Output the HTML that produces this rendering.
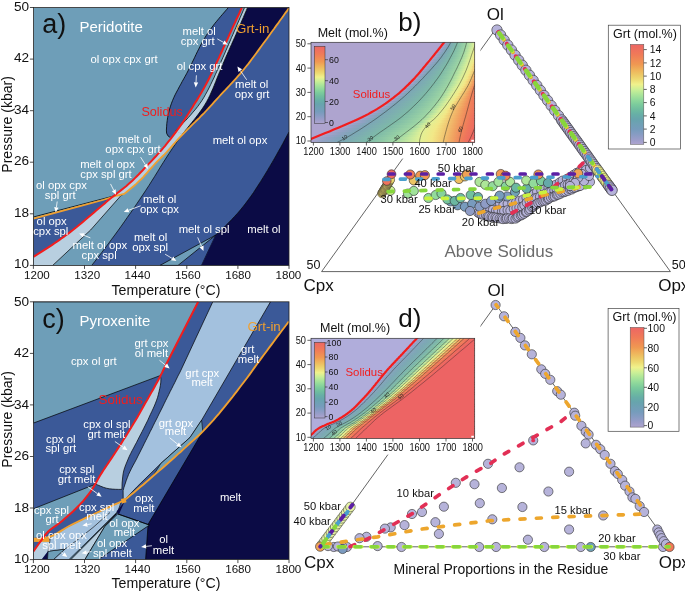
<!DOCTYPE html>
<html><head><meta charset="utf-8"><title>Figure</title>
<style>
html,body{margin:0;padding:0;background:#fff;}
body{width:685px;height:592px;overflow:hidden;}
svg{display:block;font-family:"Liberation Sans",sans-serif;}
</style></head><body>
<svg width="685" height="592" viewBox="0 0 685 592">
<rect width="685" height="592" fill="#fff"/>
<g>
<clipPath id="ca"><rect x="33.4" y="7.5" width="255.6" height="257.9"/></clipPath>
<g clip-path="url(#ca)">
<rect x="33.4" y="7.5" width="255.6" height="257.9" fill="#6e9eb8"/>
<path d="M33.4 218.6 L80.0 206.1 L102.8 200.0 L117.2 195.5 L117.7 192.8 L115.5 194.6 L113.3 196.3 L111.1 198.0 L108.9 199.8 L106.8 201.6 L104.7 203.4 L102.5 205.2 L100.4 207.0 L98.3 208.8 L96.2 210.6 L94.0 212.4 L91.9 214.2 L89.8 216.0 L87.7 217.8 L85.6 219.6 L83.4 221.4 L81.3 223.2 L79.1 225.0 L77.0 226.8 L74.8 228.5 L72.6 230.2 L70.4 231.9 L68.2 233.6 L65.9 235.3 L63.7 236.9 L61.4 238.5 L59.1 240.1 L56.9 241.7 L54.5 243.3 L52.2 244.9 L49.9 246.4 L47.6 247.9 L45.2 249.4 L42.9 250.9 L40.5 252.4 L38.1 253.9 L35.8 255.3 L33.4 256.8Z" fill="#3b5998" stroke="none" stroke-width="0.7" />
<path d="M170.3 137.6 L167.9 135.8 L166.6 133.2 L166.4 130.1 L166.6 126.8 L166.8 123.6 L167.2 120.7 L167.6 117.7 L168.2 114.9 L168.8 111.9 L169.6 109.0 L170.5 106.1 L171.5 103.2 L172.6 100.4 L173.8 97.6 L175.1 94.8 L176.5 92.1 L177.9 89.5 L179.3 86.8 L180.8 84.2 L182.2 81.5 L183.7 78.9 L185.2 76.2 L186.6 73.6 L188.0 70.9 L189.4 68.2 L190.8 65.5 L192.1 62.7 L193.4 60.0 L194.7 57.3 L196.0 54.5 L197.3 51.8 L198.7 49.1 L200.0 46.4 L201.4 43.7 L202.9 41.1 L204.4 38.5 L206.0 35.9 L207.6 33.4 L209.3 30.9 L211.1 28.4 L212.9 26.0 L214.7 23.6 L216.6 21.3 L218.6 18.9 L220.5 16.6 L222.5 14.3 L224.5 12.0 L226.5 9.7 L228.5 7.4 L242.0 7.4 L240.8 9.9 L239.7 12.5 L238.5 15.0 L237.3 17.5 L236.1 20.0 L235.0 22.6 L233.8 25.1 L232.6 27.6 L231.5 30.2 L230.3 32.7 L229.2 35.2 L228.0 37.8 L226.9 40.3 L225.7 42.9 L224.6 45.4 L223.4 47.9 L222.3 50.5 L221.1 53.0 L219.9 55.6 L218.8 58.1 L217.6 60.6 L216.4 63.1 L215.3 65.7 L214.1 68.2 L212.9 70.7 L211.7 73.2 L210.4 75.7 L209.2 78.2 L207.9 80.7 L206.6 83.2 L205.3 85.6 L204.0 88.1 L202.6 90.5 L201.2 92.9 L199.8 95.3 L198.3 97.7 L196.9 100.1 L195.4 102.4 L193.9 104.8 L192.5 107.2 L191.0 109.5 L189.5 111.9 L188.0 114.3 L186.5 116.6 L185.0 119.0 L183.5 121.3 L181.9 123.6 L180.3 125.9 L178.7 128.1 L177.0 130.4 L175.4 132.6 L173.7 134.9 L172.0 137.1Z" fill="#3b5998" stroke="none" stroke-width="0.7" />
<path d="M91.7 265.4 L95.1 261.1 L98.4 256.8 L101.7 252.5 L105.0 248.1 L108.3 243.8 L111.5 239.4 L114.8 235.0 L118.0 230.6 L121.2 226.2 L124.3 221.8 L127.4 217.3 L130.6 212.8 L133.7 208.4 L136.7 203.9 L139.8 199.3 L142.8 194.8 L145.8 190.3 L148.8 185.7 L151.7 181.1 L154.6 176.5 L157.5 171.8 L160.3 167.2 L163.2 162.6 L166.1 158.0 L169.1 153.4 L172.1 148.9 L175.2 144.4 L178.3 139.9 L181.5 135.5 L183.7 133.3 L185.9 131.1 L188.1 128.8 L190.4 126.6 L192.6 124.4 L194.9 122.2 L197.1 120.0 L199.4 117.8 L201.6 115.5 L203.8 113.3 L206.0 111.0 L208.2 108.7 L210.3 106.4 L212.4 104.1 L214.5 101.7 L216.6 99.4 L218.8 97.0 L220.9 94.7 L223.0 92.4 L225.2 90.1 L227.3 87.8 L229.5 85.5 L231.7 83.2 L233.8 80.9 L235.9 78.6 L238.0 76.2 L240.1 73.8 L242.1 71.4 L244.1 69.0 L246.1 66.5 L248.1 64.1 L250.0 61.6 L251.9 59.0 L253.8 56.5 L255.7 54.0 L257.6 51.4 L259.4 48.9 L261.3 46.3 L263.1 43.8 L265.0 41.2 L266.9 38.7 L268.7 36.2 L270.6 33.6 L272.4 31.0 L274.3 28.5 L276.1 25.9 L278.0 23.4 L279.8 20.8 L281.7 18.3 L283.5 15.7 L285.3 13.1 L287.2 10.6 L289.0 8.0 L289.0 7.5 L289.0 132.0 L286.9 135.9 L284.8 139.7 L282.8 143.6 L280.7 147.4 L278.5 151.2 L276.4 155.1 L274.2 158.9 L272.0 162.7 L269.8 166.4 L267.6 170.2 L265.3 174.0 L263.0 177.7 L260.7 181.4 L258.3 185.1 L255.9 188.8 L253.5 192.5 L251.0 196.1 L248.4 199.6 L245.8 203.1 L243.1 206.6 L240.3 210.0 L237.5 213.3 L234.5 216.5 L231.5 219.7 L228.5 222.8 L225.3 225.9 L222.2 229.0 L219.0 232.0 L215.8 235.0 L201.5 265.4Z" fill="#3b5998" stroke="none" stroke-width="0.7" />
<path d="M215.8 235.0 L160.0 265.4 L178.0 265.4Z" fill="#6e9eb8" stroke="#000" stroke-width="0.7" />
<path d="M215.8 235.0 L201.5 265.4" fill="none" stroke="#000" stroke-width="0.7" />
<path d="M289.0 132.0 L286.9 135.9 L284.8 139.7 L282.8 143.6 L280.7 147.4 L278.5 151.2 L276.4 155.1 L274.2 158.9 L272.0 162.7 L269.8 166.4 L267.6 170.2 L265.3 174.0 L263.0 177.7 L260.7 181.4 L258.3 185.1 L255.9 188.8 L253.5 192.5 L251.0 196.1 L248.4 199.6 L245.8 203.1 L243.1 206.6 L240.3 210.0 L237.5 213.3 L234.5 216.5 L231.5 219.7 L228.5 222.8 L225.3 225.9 L222.2 229.0 L219.0 232.0 L215.8 235.0 L201.5 265.4 L289.0 265.4Z" fill="#0b0b45" stroke="none" stroke-width="0.7" />
<path d="M182.4 134.2 L184.7 131.3 L187.0 128.5 L189.3 125.6 L191.6 122.7 L193.9 119.9 L196.2 117.0 L198.4 114.1 L200.6 111.1 L202.7 108.1 L204.7 105.0 L206.6 101.8 L208.3 98.6 L209.9 95.3 L211.4 92.0 L212.9 88.6 L214.3 85.2 L215.7 81.7 L217.0 78.3 L218.4 74.9 L219.8 71.5 L221.2 68.1 L222.6 64.7 L224.1 61.3 L225.5 57.9 L227.0 54.6 L228.5 51.2 L230.0 47.8 L231.5 44.5 L233.0 41.1 L234.5 37.8 L236.0 34.4 L237.4 31.0 L238.9 27.7 L240.4 24.3 L241.8 20.9 L243.3 17.5 L244.7 14.2 L246.2 10.8 L247.6 7.4 L289.0 7.5 L289.0 8.0 L287.2 10.6 L285.3 13.1 L283.5 15.7 L281.7 18.3 L279.8 20.8 L278.0 23.4 L276.1 25.9 L274.3 28.5 L272.4 31.0 L270.6 33.6 L268.7 36.2 L266.9 38.7 L265.0 41.2 L263.1 43.8 L261.3 46.3 L259.4 48.9 L257.6 51.4 L255.7 54.0 L253.8 56.5 L251.9 59.0 L250.0 61.6 L248.1 64.1 L246.1 66.5 L244.1 69.0 L242.1 71.4 L240.1 73.8 L238.0 76.2 L235.9 78.6 L233.8 80.9 L231.7 83.2 L229.5 85.5 L227.3 87.8 L225.2 90.1 L223.0 92.4 L220.9 94.7 L218.8 97.0 L216.6 99.4 L214.5 101.7 L212.4 104.1 L210.3 106.4 L208.2 108.7 L206.0 111.0 L203.8 113.3 L201.6 115.5 L199.4 117.8 L197.1 120.0 L194.9 122.2 L192.6 124.4 L190.4 126.6 L188.1 128.8 L185.9 131.1 L183.7 133.3Z" fill="#0b0b45" stroke="none" stroke-width="0.7" />
<path d="M33.4 256.8 L35.8 255.3 L38.1 253.9 L40.5 252.4 L42.9 250.9 L45.2 249.4 L47.6 247.9 L49.9 246.4 L52.2 244.9 L54.5 243.3 L56.9 241.7 L59.1 240.1 L61.4 238.5 L63.7 236.9 L65.9 235.3 L68.2 233.6 L70.4 231.9 L72.6 230.2 L74.8 228.5 L77.0 226.8 L79.1 225.0 L81.3 223.2 L83.4 221.4 L85.6 219.6 L87.7 217.8 L89.8 216.0 L91.9 214.2 L94.0 212.4 L96.2 210.6 L98.3 208.8 L100.4 207.0 L102.5 205.2 L104.7 203.4 L106.8 201.6 L108.9 199.8 L111.1 198.0 L113.3 196.3 L115.5 194.6 L117.7 192.8 L119.9 191.1 L122.1 189.4 L124.2 187.7 L126.4 185.9 L128.5 184.1 L130.6 182.2 L132.6 180.4 L134.7 178.4 L136.6 176.5 L138.6 174.5 L140.5 172.5 L142.5 170.5 L144.4 168.4 L146.3 166.4 L148.2 164.4 L150.2 162.4 L152.1 160.4 L154.0 158.3 L155.9 156.3 L157.8 154.2 L159.6 152.2 L161.5 150.1 L163.3 147.9 L165.1 145.8 L166.8 143.6 L168.6 141.4 L170.3 139.3 L172.0 137.1 L173.7 134.9 L175.4 132.6 L175.6 131.0 L182.4 134.2 L181.5 135.6 L179.3 137.8 L177.2 140.2 L175.1 142.5 L173.0 144.9 L170.9 147.3 L168.8 149.6 L166.7 152.0 L164.5 154.3 L162.3 156.5 L160.1 158.7 L157.8 160.9 L155.6 163.2 L153.5 165.5 L151.4 167.8 L149.3 170.2 L147.2 172.6 L145.1 174.9 L143.0 177.3 L140.8 179.5 L138.5 181.7 L136.2 183.9 L133.8 186.0 L131.4 188.0 L129.0 190.0 L126.6 192.0 L124.1 194.0 L121.0 195.5 L90.6 230.0 L52.7 265.4 L33.4 265.4Z" fill="#b8cfe0" stroke="none" stroke-width="0.7" />
<path d="M175.6 131.0 L178.1 128.4 L180.6 125.7 L183.2 123.0 L185.7 120.4 L188.2 117.7 L190.6 115.0 L193.0 112.2 L195.4 109.4 L197.7 106.5 L199.8 103.6 L201.9 100.6 L203.8 97.5 L205.6 94.3 L207.4 91.1 L209.1 87.8 L210.7 84.5 L212.3 81.2 L213.9 77.9 L215.4 74.5 L216.9 71.2 L218.4 67.8 L219.9 64.5 L221.3 61.1 L222.8 57.8 L224.3 54.4 L225.7 51.1 L227.2 47.7 L228.6 44.4 L230.1 41.0 L231.5 37.6 L233.0 34.3 L234.4 30.9 L235.9 27.6 L237.3 24.2 L238.8 20.8 L240.2 17.5 L241.7 14.1 L243.1 10.8 L244.6 7.4 L247.6 7.4 L246.2 10.8 L244.7 14.2 L243.3 17.5 L241.8 20.9 L240.4 24.3 L238.9 27.7 L237.4 31.0 L236.0 34.4 L234.5 37.8 L233.0 41.1 L231.5 44.5 L230.0 47.8 L228.5 51.2 L227.0 54.6 L225.5 57.9 L224.1 61.3 L222.6 64.7 L221.2 68.1 L219.8 71.5 L218.4 74.9 L217.0 78.3 L215.7 81.7 L214.3 85.2 L212.9 88.6 L211.4 92.0 L209.9 95.3 L208.3 98.6 L206.6 101.8 L204.7 105.0 L202.7 108.1 L200.6 111.1 L198.4 114.1 L196.2 117.0 L193.9 119.9 L191.6 122.7 L189.3 125.6 L187.0 128.5 L184.7 131.3 L182.4 134.2Z" fill="#b8cfe0" stroke="none" stroke-width="0.7" />
<path d="M177.0 130.4 L178.7 128.1 L180.3 125.9 L181.9 123.6 L183.5 121.3 L185.0 119.0 L186.5 116.6 L188.0 114.3 L189.5 111.9 L191.0 109.5 L192.5 107.2 L193.9 104.8 L195.4 102.4 L196.9 100.1 L198.3 97.7 L199.8 95.3 L201.2 92.9 L202.6 90.5 L204.0 88.1 L205.3 85.6 L206.6 83.2 L207.9 80.7 L209.2 78.2 L210.4 75.7 L211.7 73.2 L212.9 70.7 L214.1 68.2 L215.3 65.7 L216.4 63.1 L217.6 60.6 L218.8 58.1 L219.9 55.6 L221.1 53.0 L222.3 50.5 L223.4 47.9 L224.6 45.4 L225.7 42.9 L226.9 40.3 L228.0 37.8 L229.2 35.2 L230.3 32.7 L231.5 30.2 L232.6 27.6 L233.8 25.1 L235.0 22.6 L236.1 20.0 L237.3 17.5 L238.5 15.0 L239.7 12.5 L240.8 9.9 L242.0 7.4 L244.6 7.4 L243.1 10.8 L241.7 14.1 L240.2 17.5 L238.8 20.8 L237.3 24.2 L235.9 27.6 L234.4 30.9 L233.0 34.3 L231.5 37.6 L230.1 41.0 L228.6 44.4 L227.2 47.7 L225.7 51.1 L224.3 54.4 L222.8 57.8 L221.3 61.1 L219.9 64.5 L218.4 67.8 L216.9 71.2 L215.4 74.5 L213.9 77.9 L212.3 81.2 L210.7 84.5 L209.1 87.8 L207.4 91.1 L205.6 94.3 L203.8 97.5 L201.9 100.6 L199.8 103.6 L197.7 106.5 L195.4 109.4 L193.0 112.2 L190.6 115.0 L188.2 117.7 L185.7 120.4 L183.2 123.0 L180.6 125.7 L178.1 128.4 L175.6 131.0Z" fill="#6e9eb8" stroke="none" stroke-width="0.7" />
<path d="M170.3 137.6 L167.9 135.8 L166.6 133.2 L166.4 130.1 L166.6 126.8 L166.8 123.6 L167.2 120.7 L167.6 117.7 L168.2 114.9 L168.8 111.9 L169.6 109.0 L170.5 106.1 L171.5 103.2 L172.6 100.4 L173.8 97.6 L175.1 94.8 L176.5 92.1 L177.9 89.5 L179.3 86.8 L180.8 84.2 L182.2 81.5 L183.7 78.9 L185.2 76.2 L186.6 73.6 L188.0 70.9 L189.4 68.2 L190.8 65.5 L192.1 62.7 L193.4 60.0 L194.7 57.3 L196.0 54.5 L197.3 51.8 L198.7 49.1 L200.0 46.4 L201.4 43.7 L202.9 41.1 L204.4 38.5 L206.0 35.9 L207.6 33.4 L209.3 30.9 L211.1 28.4 L212.9 26.0 L214.7 23.6 L216.6 21.3 L218.6 18.9 L220.5 16.6 L222.5 14.3 L224.5 12.0 L226.5 9.7 L228.5 7.4" fill="none" stroke="#000" stroke-width="0.8" />
<path d="M289.0 132.0 L286.9 135.9 L284.8 139.7 L282.8 143.6 L280.7 147.4 L278.5 151.2 L276.4 155.1 L274.2 158.9 L272.0 162.7 L269.8 166.4 L267.6 170.2 L265.3 174.0 L263.0 177.7 L260.7 181.4 L258.3 185.1 L255.9 188.8 L253.5 192.5 L251.0 196.1 L248.4 199.6 L245.8 203.1 L243.1 206.6 L240.3 210.0 L237.5 213.3 L234.5 216.5 L231.5 219.7 L228.5 222.8 L225.3 225.9 L222.2 229.0 L219.0 232.0 L215.8 235.0" fill="none" stroke="#000" stroke-width="0.7" />
<path d="M52.7 265.4 L90.6 230.0 L121.0 195.5 L124.1 194.0" fill="none" stroke="#000" stroke-width="0.7" />
<path d="M91.7 265.4 L95.1 261.1 L98.4 256.8 L101.7 252.5 L105.0 248.1 L108.3 243.8 L111.5 239.4 L114.8 235.0 L118.0 230.6 L121.2 226.2 L124.3 221.8 L127.4 217.3 L130.6 212.8 L133.7 208.4 L136.7 203.9 L139.8 199.3 L142.8 194.8 L145.8 190.3 L148.8 185.7 L151.7 181.1 L154.6 176.5 L157.5 171.8 L160.3 167.2 L163.2 162.6 L166.1 158.0 L169.1 153.4 L172.1 148.9 L175.2 144.4 L178.3 139.9 L181.5 135.5" fill="none" stroke="#000" stroke-width="0.7" />
<path d="M182.4 134.2 L184.7 131.3 L187.0 128.5 L189.3 125.6 L191.6 122.7 L193.9 119.9 L196.2 117.0 L198.4 114.1 L200.6 111.1 L202.7 108.1 L204.7 105.0 L206.6 101.8 L208.3 98.6 L209.9 95.3 L211.4 92.0 L212.9 88.6 L214.3 85.2 L215.7 81.7 L217.0 78.3 L218.4 74.9 L219.8 71.5 L221.2 68.1 L222.6 64.7 L224.1 61.3 L225.5 57.9 L227.0 54.6 L228.5 51.2 L230.0 47.8 L231.5 44.5 L233.0 41.1 L234.5 37.8 L236.0 34.4 L237.4 31.0 L238.9 27.7 L240.4 24.3 L241.8 20.9 L243.3 17.5 L244.7 14.2 L246.2 10.8 L247.6 7.4" fill="none" stroke="#000" stroke-width="0.8" />
<path d="M175.6 131.0 L178.1 128.4 L180.6 125.7 L183.2 123.0 L185.7 120.4 L188.2 117.7 L190.6 115.0 L193.0 112.2 L195.4 109.4 L197.7 106.5 L199.8 103.6 L201.9 100.6 L203.8 97.5 L205.6 94.3 L207.4 91.1 L209.1 87.8 L210.7 84.5 L212.3 81.2 L213.9 77.9 L215.4 74.5 L216.9 71.2 L218.4 67.8 L219.9 64.5 L221.3 61.1 L222.8 57.8 L224.3 54.4 L225.7 51.1 L227.2 47.7 L228.6 44.4 L230.1 41.0 L231.5 37.6 L233.0 34.3 L234.4 30.9 L235.9 27.6 L237.3 24.2 L238.8 20.8 L240.2 17.5 L241.7 14.1 L243.1 10.8 L244.6 7.4" fill="none" stroke="#000" stroke-width="0.7" />
<path d="M33.4 217.0 L116.0 195.4" fill="none" stroke="#000" stroke-width="0.8" />
<path d="M33.4 218.6 L80.0 206.1 L102.8 200.0 L117.2 195.5 L124.1 194.0 L126.6 192.0 L129.0 190.0 L131.4 188.0 L133.8 186.0 L136.2 183.9 L138.5 181.7 L140.8 179.5 L143.0 177.3 L145.1 174.9 L147.2 172.6 L149.3 170.2 L151.4 167.8 L153.5 165.5 L155.6 163.2 L157.8 160.9 L160.1 158.7 L162.3 156.5 L164.5 154.3 L166.7 152.0 L168.8 149.6 L170.9 147.3 L173.0 144.9 L175.1 142.5 L177.2 140.2 L179.3 137.8 L181.5 135.6 L183.7 133.3 L185.9 131.1 L188.1 128.8 L190.4 126.6 L192.6 124.4 L194.9 122.2 L197.1 120.0 L199.4 117.8 L201.6 115.5 L203.8 113.3 L206.0 111.0 L208.2 108.7 L210.3 106.4 L212.4 104.1 L214.5 101.7 L216.6 99.4 L218.8 97.0 L220.9 94.7 L223.0 92.4 L225.2 90.1 L227.3 87.8 L229.5 85.5 L231.7 83.2 L233.8 80.9 L235.9 78.6 L238.0 76.2 L240.1 73.8 L242.1 71.4 L244.1 69.0 L246.1 66.5 L248.1 64.1 L250.0 61.6 L251.9 59.0 L253.8 56.5 L255.7 54.0 L257.6 51.4 L259.4 48.9 L261.3 46.3 L263.1 43.8 L265.0 41.2 L266.9 38.7 L268.7 36.2 L270.6 33.6 L272.4 31.0 L274.3 28.5 L276.1 25.9 L278.0 23.4 L279.8 20.8 L281.7 18.3 L283.5 15.7 L285.3 13.1 L287.2 10.6 L289.0 8.0" fill="none" stroke="#f0a030" stroke-width="1.8" />
<path d="M33.4 256.8 L35.8 255.3 L38.1 253.9 L40.5 252.4 L42.9 250.9 L45.2 249.4 L47.6 247.9 L49.9 246.4 L52.2 244.9 L54.5 243.3 L56.9 241.7 L59.1 240.1 L61.4 238.5 L63.7 236.9 L65.9 235.3 L68.2 233.6 L70.4 231.9 L72.6 230.2 L74.8 228.5 L77.0 226.8 L79.1 225.0 L81.3 223.2 L83.4 221.4 L85.6 219.6 L87.7 217.8 L89.8 216.0 L91.9 214.2 L94.0 212.4 L96.2 210.6 L98.3 208.8 L100.4 207.0 L102.5 205.2 L104.7 203.4 L106.8 201.6 L108.9 199.8 L111.1 198.0 L113.3 196.3 L115.5 194.6 L117.7 192.8 L119.9 191.1 L122.1 189.4 L124.2 187.7 L126.4 185.9 L128.5 184.1 L130.6 182.2 L132.6 180.4 L134.7 178.4 L136.6 176.5 L138.6 174.5 L140.5 172.5 L142.5 170.5 L144.4 168.4 L146.3 166.4 L148.2 164.4 L150.2 162.4 L152.1 160.4 L154.0 158.3 L155.9 156.3 L157.8 154.2 L159.6 152.2 L161.5 150.1 L163.3 147.9 L165.1 145.8 L166.8 143.6 L168.6 141.4 L170.3 139.3 L172.0 137.1 L173.7 134.9 L175.4 132.6 L177.0 130.4 L178.7 128.1 L180.3 125.9 L181.9 123.6 L183.5 121.3 L185.0 119.0 L186.5 116.6 L188.0 114.3 L189.5 111.9 L191.0 109.5 L192.5 107.2 L193.9 104.8 L195.4 102.4 L196.9 100.1 L198.3 97.7 L199.8 95.3 L201.2 92.9 L202.6 90.5 L204.0 88.1 L205.3 85.6 L206.6 83.2 L207.9 80.7 L209.2 78.2 L210.4 75.7 L211.7 73.2 L212.9 70.7 L214.1 68.2 L215.3 65.7 L216.4 63.1 L217.6 60.6 L218.8 58.1 L219.9 55.6 L221.1 53.0 L222.3 50.5 L223.4 47.9 L224.6 45.4 L225.7 42.9 L226.9 40.3 L228.0 37.8 L229.2 35.2 L230.3 32.7 L231.5 30.2 L232.6 27.6 L233.8 25.1 L235.0 22.6 L236.1 20.0 L237.3 17.5 L238.5 15.0 L239.7 12.5 L240.8 9.9 L242.0 7.4" fill="none" stroke="#f21d1d" stroke-width="2.0" />
</g>
<rect x="33.4" y="7.5" width="255.6" height="257.9" fill="none" stroke="#222" stroke-width="0.8"/>
<path d="M29.9 7.5H33.4" stroke="#222" stroke-width="0.8"/>
<text x="29.2" y="10.5" font-size="13.6" fill="#111" text-anchor="end" >50</text>
<path d="M29.9 59.1H33.4" stroke="#222" stroke-width="0.8"/>
<text x="29.2" y="62.1" font-size="13.6" fill="#111" text-anchor="end" >42</text>
<path d="M29.9 110.7H33.4" stroke="#222" stroke-width="0.8"/>
<text x="29.2" y="113.7" font-size="13.6" fill="#111" text-anchor="end" >34</text>
<path d="M29.9 162.2H33.4" stroke="#222" stroke-width="0.8"/>
<text x="29.2" y="165.2" font-size="13.6" fill="#111" text-anchor="end" >26</text>
<path d="M29.9 213.8H33.4" stroke="#222" stroke-width="0.8"/>
<text x="29.2" y="216.8" font-size="13.6" fill="#111" text-anchor="end" >18</text>
<path d="M29.9 265.4H33.4" stroke="#222" stroke-width="0.8"/>
<text x="29.2" y="268.4" font-size="13.6" fill="#111" text-anchor="end" >10</text>
<path d="M33.4 265.4V268.9" stroke="#222" stroke-width="0.8"/>
<text x="36.9" y="279.0" font-size="11.6" fill="#111" text-anchor="middle" >1200</text>
<path d="M84.5 265.4V268.9" stroke="#222" stroke-width="0.8"/>
<text x="87.2" y="279.0" font-size="11.6" fill="#111" text-anchor="middle" >1320</text>
<path d="M135.6 265.4V268.9" stroke="#222" stroke-width="0.8"/>
<text x="137.5" y="279.0" font-size="11.6" fill="#111" text-anchor="middle" >1440</text>
<path d="M186.8 265.4V268.9" stroke="#222" stroke-width="0.8"/>
<text x="187.8" y="279.0" font-size="11.6" fill="#111" text-anchor="middle" >1560</text>
<path d="M237.9 265.4V268.9" stroke="#222" stroke-width="0.8"/>
<text x="238.1" y="279.0" font-size="11.6" fill="#111" text-anchor="middle" >1680</text>
<path d="M289.0 265.4V268.9" stroke="#222" stroke-width="0.8"/>
<text x="288.4" y="279.0" font-size="11.6" fill="#111" text-anchor="middle" >1800</text>
<text x="166.0" y="295.2" font-size="14.2" fill="#111" text-anchor="middle" >Temperature (°C)</text>
<text transform="translate(11.5,124.4) rotate(-90)" font-size="14" fill="#111" text-anchor="middle">Pressure (kbar)</text>
<text x="42.3" y="32.6" font-size="27" fill="#111" text-anchor="start" >a)</text>
<text x="79.4" y="32.2" font-size="15" fill="#fff" text-anchor="start" >Peridotite</text>
<text x="124.0" y="62.8" font-size="11.3" fill="#fff" text-anchor="middle" >ol opx cpx grt</text>
<text x="141.4" y="116.0" font-size="12.6" fill="#f21d1d" text-anchor="start" >Solidus</text>
<text x="236.1" y="33.4" font-size="13.3" fill="#f0a030" text-anchor="start" >Grt-in</text>
<text x="134.7" y="142.6" font-size="11.3" fill="#fff" text-anchor="middle" >melt ol</text>
<text x="133.0" y="153.0" font-size="11.3" fill="#fff" text-anchor="middle" >opx cpx grt</text>
<path d="M140.6 157.1 L145.4 164.7" stroke="#fff" stroke-width="0.8" fill="none"/><path d="M148.1 168.9 L143.6 165.9 L147.3 163.5 Z" fill="#fff"/>
<text x="199.2" y="35.2" font-size="11.3" fill="#fff" text-anchor="middle" >melt ol</text>
<text x="197.7" y="44.7" font-size="11.3" fill="#fff" text-anchor="middle" >cpx grt</text>
<path d="M217.3 38.9 L223.4 42.3" stroke="#fff" stroke-width="0.8" fill="none"/><path d="M227.8 44.7 L222.4 44.2 L224.5 40.4 Z" fill="#fff"/>
<text x="199.6" y="69.8" font-size="11.3" fill="#fff" text-anchor="middle" >ol cpx grt</text>
<path d="M196.4 75.3 L196.0 82.4" stroke="#fff" stroke-width="0.8" fill="none"/><path d="M195.7 87.4 L193.8 82.3 L198.2 82.5 Z" fill="#fff"/>
<text x="251.7" y="87.9" font-size="11.3" fill="#fff" text-anchor="middle" >melt ol</text>
<text x="252.1" y="98.4" font-size="11.3" fill="#fff" text-anchor="middle" >opx grt</text>
<path d="M246.7 79.8 L240.3 70.6" stroke="#fff" stroke-width="0.8" fill="none"/><path d="M237.4 66.5 L242.1 69.3 L238.5 71.9 Z" fill="#fff"/>
<text x="240.0" y="144.4" font-size="11.3" fill="#fff" text-anchor="middle" >melt ol opx</text>
<text x="107.5" y="168.1" font-size="11.3" fill="#fff" text-anchor="middle" >melt ol opx</text>
<text x="106.0" y="178.2" font-size="11.3" fill="#fff" text-anchor="middle" >cpx spl grt</text>
<path d="M110.5 183.9 L113.7 190.2" stroke="#fff" stroke-width="0.8" fill="none"/><path d="M116.0 194.7 L111.8 191.2 L115.7 189.2 Z" fill="#fff"/>
<text x="61.5" y="189.0" font-size="11.3" fill="#fff" text-anchor="middle" >ol opx cpx</text>
<text x="60.2" y="199.0" font-size="11.3" fill="#fff" text-anchor="middle" >spl grt</text>
<path d="M57.2 201.5 L56.4 207.3" stroke="#fff" stroke-width="0.8" fill="none"/><path d="M55.7 212.3 L54.2 207.0 L58.6 207.7 Z" fill="#fff"/>
<text x="51.7" y="225.4" font-size="11.3" fill="#fff" text-anchor="middle" >ol opx</text>
<text x="50.8" y="235.4" font-size="11.3" fill="#fff" text-anchor="middle" >cpx spl</text>
<text x="99.8" y="249.2" font-size="11.3" fill="#fff" text-anchor="middle" >melt ol opx</text>
<text x="99.1" y="258.8" font-size="11.3" fill="#fff" text-anchor="middle" >cpx spl</text>
<path d="M90.4 237.9 L83.7 235.2" stroke="#fff" stroke-width="0.8" fill="none"/><path d="M79.1 233.4 L84.6 233.2 L82.9 237.3 Z" fill="#fff"/>
<text x="159.7" y="203.3" font-size="11.3" fill="#fff" text-anchor="middle" >melt ol</text>
<text x="159.5" y="212.8" font-size="11.3" fill="#fff" text-anchor="middle" >opx cpx</text>
<path d="M140.6 205.8 L128.5 210.3" stroke="#fff" stroke-width="0.8" fill="none"/><path d="M123.8 212.0 L127.7 208.2 L129.3 212.3 Z" fill="#fff"/>
<text x="150.6" y="241.2" font-size="11.3" fill="#fff" text-anchor="middle" >melt ol</text>
<text x="150.1" y="251.2" font-size="11.3" fill="#fff" text-anchor="middle" >opx spl</text>
<path d="M165.1 254.2 L172.1 258.4" stroke="#fff" stroke-width="0.8" fill="none"/><path d="M176.4 261.0 L171.0 260.3 L173.3 256.5 Z" fill="#fff"/>
<text x="204.1" y="232.9" font-size="11.3" fill="#fff" text-anchor="middle" >melt ol spl</text>
<path d="M197.7 237.4 L201.5 246.4" stroke="#fff" stroke-width="0.8" fill="none"/><path d="M203.5 251.0 L199.5 247.3 L203.6 245.5 Z" fill="#fff"/>
<text x="264.0" y="232.9" font-size="11.3" fill="#fff" text-anchor="middle" >melt ol</text>
</g>
<g>
<clipPath id="cc"><rect x="33.4" y="301.8" width="255.6" height="257.8"/></clipPath>
<g clip-path="url(#cc)">
<rect x="33.4" y="301.8" width="255.6" height="257.8" fill="#3b5998"/>
<path d="M33.4 301.8 L198.2 301.8 L160.7 375.4 L33.4 423.1Z" fill="#6e9eb8" stroke="#000" stroke-width="0.7" />
<path d="M33.4 508.8 L94.7 484.5 L93.3 487.4 L91.8 489.8 L90.2 492.2 L88.5 494.4 L86.7 496.7 L84.9 498.9 L83.1 501.1 L81.1 503.2 L79.2 505.3 L77.2 507.3 L75.2 509.3 L73.2 511.3 L71.0 513.2 L68.9 515.1 L66.7 517.0 L64.6 518.8 L62.4 520.7 L60.2 522.5 L57.9 524.2 L55.6 525.9 L53.2 527.5 L50.9 529.2 L48.7 531.0 L46.8 533.0 L45.0 535.2 L33.4 538.0Z" fill="#6e9eb8" stroke="none" stroke-width="0.7" />
<path d="M33.4 508.8 L94.7 484.5" fill="none" stroke="#000" stroke-width="0.7" />
<path d="M288.9 321.4 L286.4 324.7 L283.9 328.0 L281.4 331.3 L278.9 334.6 L276.4 337.9 L274.0 341.2 L271.5 344.6 L269.0 347.9 L266.6 351.2 L264.1 354.5 L261.6 357.9 L259.2 361.2 L256.7 364.5 L254.3 367.9 L251.9 371.3 L249.5 374.6 L247.0 378.0 L244.5 381.3 L242.0 384.5 L239.5 387.8 L237.0 391.1 L234.4 394.4 L231.9 397.7 L229.3 400.9 L226.7 404.2 L224.1 407.4 L221.4 410.6 L218.8 413.8 L216.1 416.9 L213.4 420.1 L210.6 423.1 L207.8 426.2 L205.0 429.2 L202.8 431.5 L148.1 524.3 L145.6 559.6 L289.0 559.6Z" fill="#0b0b45" stroke="none" stroke-width="0.7" />
<path d="M202.8 431.5 L148.1 524.3 L145.6 559.6" fill="none" stroke="#000" stroke-width="0.7" />
<path d="M212.8 301.8 L181.0 370.0 L179.5 373.1 L177.9 376.1 L176.4 379.2 L174.9 382.3 L173.3 385.4 L171.8 388.4 L170.2 391.5 L168.7 394.6 L167.2 397.6 L165.6 400.7 L164.1 403.8 L162.6 406.9 L161.1 409.9 L159.5 413.0 L158.0 416.1 L156.5 419.2 L154.9 422.2 L153.4 425.3 L151.9 428.4 L150.3 431.4 L148.8 434.5 L147.3 437.6 L145.7 440.7 L144.2 443.7 L142.7 446.8 L141.1 449.9 L139.6 452.9 L138.0 456.0 L136.5 459.1 L134.9 462.1 L133.2 465.2 L131.6 468.2 L130.1 471.3 L128.6 474.4 L127.4 477.5 L126.2 480.7 L125.1 484.0 L124.0 487.3 L123.1 490.6 L123.2 499.5 L124.5 500.0 L137.3 486.5 L160.9 463.4 L190.0 437.5 L201.6 420.2 L270.5 301.8Z" fill="#a3c1de" stroke="#000" stroke-width="0.7" />
<path d="M201.6 420.2 L202.8 431.5 L202.2 432.1 L199.2 435.0 L196.1 437.8 L193.0 440.6 L190.0 443.3 L186.9 446.1 L183.8 448.9 L180.8 451.7 L177.7 454.4 L174.6 457.2 L171.5 460.0 L168.4 462.7 L165.3 465.5 L162.2 468.2 L159.1 470.9 L155.9 473.6 L152.8 476.3 L160.9 463.4 L190.0 437.5Z" fill="#6e9eb8" stroke="#000" stroke-width="0.6" />
<path d="M160.4 375.9 L160.9 379.0 L160.8 382.1 L160.4 385.2 L159.8 388.3 L159.1 391.3 L158.4 394.3 L157.6 397.3 L156.6 400.2 L155.5 403.1 L154.3 406.0 L153.0 408.9 L151.7 411.7 L150.3 414.6 L149.0 417.4 L147.8 420.2 L146.4 423.0 L145.0 425.8 L143.6 428.6 L142.2 431.4 L140.8 434.1 L139.3 436.9 L137.9 439.7 L136.5 442.5 L135.0 445.2 L133.6 448.0 L132.1 450.7 L130.7 453.5 L129.3 456.3 L128.1 459.1 L126.9 462.0 L125.7 464.9 L124.6 467.9 L123.7 470.9 L123.1 473.9 L122.7 476.9 L122.4 480.0 L122.1 483.1 L122.0 486.2 L121.9 489.4 L118.7 489.4 L115.6 489.3 L112.4 489.1 L109.3 488.8 L106.3 488.2 L103.4 487.3 L100.4 486.1 L97.6 484.9 L94.7 483.5 L96.1 482.5 L97.5 479.9 L98.9 477.4 L100.4 475.0 L101.9 472.6 L103.4 470.2 L105.0 467.9 L106.6 465.5 L108.2 463.1 L109.8 460.8 L111.4 458.4 L113.0 456.0 L114.5 453.7 L116.1 451.3 L117.6 448.9 L119.2 446.5 L120.8 444.1 L122.3 441.7 L123.8 439.3 L125.4 436.9 L126.9 434.5 L128.4 432.1 L129.9 429.6 L131.3 427.2 L132.8 424.8 L134.3 422.3 L135.7 419.9 L137.2 417.4 L138.6 414.9 L140.0 412.5 L141.4 410.0 L142.8 407.5 L144.2 405.0 L145.6 402.6 L147.1 400.1 L148.5 397.6 L149.9 395.1 L151.3 392.6 L152.7 390.2 L154.1 387.7 L155.4 385.2 L156.8 382.7 L158.2 380.2 L159.5 377.7Z" fill="#b8cfe0" stroke="none" stroke-width="0.7" />
<path d="M160.4 375.9 L160.9 379.0 L160.8 382.1 L160.4 385.2 L159.8 388.3 L159.1 391.3 L158.4 394.3 L157.6 397.3 L156.6 400.2 L155.5 403.1 L154.3 406.0 L153.0 408.9 L151.7 411.7 L150.3 414.6 L149.0 417.4 L147.8 420.2 L146.4 423.0 L145.0 425.8 L143.6 428.6 L142.2 431.4 L140.8 434.1 L139.3 436.9 L137.9 439.7 L136.5 442.5 L135.0 445.2 L133.6 448.0 L132.1 450.7 L130.7 453.5 L129.3 456.3 L128.1 459.1 L126.9 462.0 L125.7 464.9 L124.6 467.9 L123.7 470.9 L123.1 473.9 L122.7 476.9 L122.4 480.0 L122.1 483.1 L122.0 486.2 L121.9 489.4 L118.7 489.4 L115.6 489.3 L112.4 489.1 L109.3 488.8 L106.3 488.2 L103.4 487.3 L100.4 486.1 L97.6 484.9 L94.7 483.5" fill="none" stroke="#000" stroke-width="0.7" />
<path d="M33.4 551.5 L40.5 541.5 L45.2 535.5 L49.9 541.0 L48.1 551.0 L41.7 559.6 L33.4 559.6Z" fill="#b8cfe0" stroke="none" stroke-width="0.7" />
<path d="M48.1 551.2 L41.7 559.6 L47.5 559.6Z" fill="#0b0b45" stroke="none" stroke-width="0.7" />
<path d="M48.1 551.2 L47.5 559.6 L53.6 559.6 L65.0 549.1Z" fill="#6e9eb8" stroke="#000" stroke-width="0.6" />
<path d="M121.2 501.7 L118.0 503.1 L114.9 504.4 L111.7 505.8 L108.6 507.3 L105.5 508.7 L102.3 510.1 L99.2 511.6 L96.1 513.0 L93.0 514.5 L89.9 515.9 L86.8 517.4 L83.7 518.9 L80.6 520.4 L77.5 521.9 L74.4 523.4 L71.4 524.9 L68.3 526.5 L65.3 528.2 L62.3 530.1 L59.4 531.9 L56.4 533.7 L53.3 535.3 L50.2 536.5 L49.9 541.0 L48.1 551.2 L65.0 549.1 L53.6 559.6 L69.1 559.6 L117.7 511.8Z" fill="#a3c1de" stroke="#000" stroke-width="0.6" />
<path d="M65.0 549.1 L76.7 540.4 L93.0 527.5 L110.0 512.5" fill="none" stroke="#000" stroke-width="0.6" />
<path d="M69.1 559.6 L70.9 559.6 L116.0 514.0 L117.7 511.8Z" fill="#6e9eb8" stroke="#000" stroke-width="0.5" />
<path d="M70.9 559.6 L84.9 559.6 L104.8 526.4 L116.0 514.0Z" fill="#b8cfe0" stroke="#000" stroke-width="0.6" />
<path d="M84.9 559.6 L104.8 526.4 L117.7 513.9 L149.5 525.0 L98.3 559.6Z" fill="#6e9eb8" stroke="#000" stroke-width="0.7" />
<path d="M124.6 501.5 L116.5 511.5 L119.0 514.3Z" fill="#0b0b45" stroke="none" stroke-width="0.7" />
<path d="M117.7 513.9 L149.5 525.0" fill="none" stroke="#000" stroke-width="0.7" />
<path d="M288.9 321.4 L286.4 324.7 L283.9 328.0 L281.4 331.3 L278.9 334.6 L276.4 337.9 L274.0 341.2 L271.5 344.6 L269.0 347.9 L266.6 351.2 L264.1 354.5 L261.6 357.9 L259.2 361.2 L256.7 364.5 L254.3 367.9 L251.9 371.3 L249.5 374.6 L247.0 378.0 L244.5 381.3 L242.0 384.5 L239.5 387.8 L237.0 391.1 L234.4 394.4 L231.9 397.7 L229.3 400.9 L226.7 404.2 L224.1 407.4 L221.4 410.6 L218.8 413.8 L216.1 416.9 L213.4 420.1 L210.6 423.1 L207.8 426.2 L205.0 429.2 L202.2 432.1 L199.2 435.0 L196.1 437.8 L193.0 440.6 L190.0 443.3 L186.9 446.1 L183.8 448.9 L180.8 451.7 L177.7 454.4 L174.6 457.2 L171.5 460.0 L168.4 462.7 L165.3 465.5 L162.2 468.2 L159.1 470.9 L155.9 473.6 L152.8 476.3 L149.7 479.0 L146.5 481.7 L143.4 484.4 L140.2 487.0 L137.0 489.7 L133.9 492.4 L130.7 495.0 L127.5 497.7 L124.3 500.3 L121.2 501.7 L118.0 503.1 L114.9 504.4 L111.7 505.8 L108.6 507.3 L105.5 508.7 L102.3 510.1 L99.2 511.6 L96.1 513.0 L93.0 514.5 L89.9 515.9 L86.8 517.4 L83.7 518.9 L80.6 520.4 L77.5 521.9 L74.4 523.4 L71.4 524.9 L68.3 526.5 L65.3 528.2 L62.3 530.1 L59.4 531.9 L56.4 533.7 L53.3 535.3 L50.2 536.5 L47.0 537.4 L43.7 538.2 L40.3 538.9 L36.9 539.4 L33.4 539.7" fill="none" stroke="#f0a030" stroke-width="1.9" />
<rect x="33.4" y="537.7" width="16" height="4.2" fill="#f0a030"/>
<rect x="121.4" y="498.4" width="4.6" height="4.6" fill="#f0a030" transform="rotate(-15 123.7 500.7)"/>
<path d="M198.2 301.8 L163.3 370.0 L162.1 372.6 L160.8 375.1 L159.5 377.7 L158.2 380.2 L156.8 382.7 L155.4 385.2 L154.1 387.7 L152.7 390.2 L151.3 392.6 L149.9 395.1 L148.5 397.6 L147.1 400.1 L145.6 402.6 L144.2 405.0 L142.8 407.5 L141.4 410.0 L140.0 412.5 L138.6 414.9 L137.2 417.4 L135.7 419.9 L134.3 422.3 L132.8 424.8 L131.3 427.2 L129.9 429.6 L128.4 432.1 L126.9 434.5 L125.4 436.9 L123.8 439.3 L122.3 441.7 L120.8 444.1 L119.2 446.5 L117.6 448.9 L116.1 451.3 L114.5 453.7 L113.0 456.0 L111.4 458.4 L109.8 460.8 L108.2 463.1 L106.6 465.5 L105.0 467.9 L103.4 470.2 L101.9 472.6 L100.4 475.0 L98.9 477.4 L97.5 479.9 L96.1 482.5 L94.7 485.0 L93.3 487.4 L91.8 489.8 L90.2 492.2 L88.5 494.4 L86.7 496.7 L84.9 498.9 L83.1 501.1 L81.1 503.2 L79.2 505.3 L77.2 507.3 L75.2 509.3 L73.2 511.3 L71.0 513.2 L68.9 515.1 L66.7 517.0 L64.6 518.8 L62.4 520.7 L60.2 522.5 L57.9 524.2 L55.6 525.9 L53.2 527.5 L50.9 529.2 L48.7 531.0 L46.8 533.0 L45.0 535.2 L43.3 537.5 L41.7 539.9 L40.0 542.2 L38.3 544.5 L36.7 546.8 L35.0 549.2 L33.4 551.5" fill="none" stroke="#f21d1d" stroke-width="2.0" />
</g>
<rect x="33.4" y="301.8" width="255.6" height="257.8" fill="none" stroke="#222" stroke-width="0.8"/>
<path d="M29.9 301.8H33.4" stroke="#222" stroke-width="0.8"/>
<text x="29.2" y="305.5" font-size="13.6" fill="#111" text-anchor="end" >50</text>
<path d="M29.9 353.4H33.4" stroke="#222" stroke-width="0.8"/>
<text x="29.2" y="357.1" font-size="13.6" fill="#111" text-anchor="end" >42</text>
<path d="M29.9 404.9H33.4" stroke="#222" stroke-width="0.8"/>
<text x="29.2" y="408.6" font-size="13.6" fill="#111" text-anchor="end" >34</text>
<path d="M29.9 456.5H33.4" stroke="#222" stroke-width="0.8"/>
<text x="29.2" y="460.2" font-size="13.6" fill="#111" text-anchor="end" >26</text>
<path d="M29.9 508.0H33.4" stroke="#222" stroke-width="0.8"/>
<text x="29.2" y="511.7" font-size="13.6" fill="#111" text-anchor="end" >18</text>
<path d="M29.9 559.6H33.4" stroke="#222" stroke-width="0.8"/>
<text x="29.2" y="563.3" font-size="13.6" fill="#111" text-anchor="end" >10</text>
<path d="M33.4 559.6V563.1" stroke="#222" stroke-width="0.8"/>
<text x="36.9" y="573.3" font-size="11.6" fill="#111" text-anchor="middle" >1200</text>
<path d="M84.5 559.6V563.1" stroke="#222" stroke-width="0.8"/>
<text x="87.2" y="573.3" font-size="11.6" fill="#111" text-anchor="middle" >1320</text>
<path d="M135.6 559.6V563.1" stroke="#222" stroke-width="0.8"/>
<text x="137.5" y="573.3" font-size="11.6" fill="#111" text-anchor="middle" >1440</text>
<path d="M186.8 559.6V563.1" stroke="#222" stroke-width="0.8"/>
<text x="187.8" y="573.3" font-size="11.6" fill="#111" text-anchor="middle" >1560</text>
<path d="M237.9 559.6V563.1" stroke="#222" stroke-width="0.8"/>
<text x="238.1" y="573.3" font-size="11.6" fill="#111" text-anchor="middle" >1680</text>
<path d="M289.0 559.6V563.1" stroke="#222" stroke-width="0.8"/>
<text x="288.4" y="573.3" font-size="11.6" fill="#111" text-anchor="middle" >1800</text>
<text x="166.0" y="588.0" font-size="14.2" fill="#111" text-anchor="middle" >Temperature (°C)</text>
<text transform="translate(11.5,419.4) rotate(-90)" font-size="14" fill="#111" text-anchor="middle">Pressure (kbar)</text>
<text x="42.3" y="328.0" font-size="27" fill="#111" text-anchor="start" >c)</text>
<text x="79.4" y="325.9" font-size="15" fill="#fff" text-anchor="start" >Pyroxenite</text>
<text x="93.8" y="364.9" font-size="11.3" fill="#fff" text-anchor="middle" >cpx ol grt</text>
<text x="151.4" y="347.3" font-size="11.3" fill="#fff" text-anchor="middle" >grt cpx</text>
<text x="151.4" y="357.3" font-size="11.3" fill="#fff" text-anchor="middle" >ol melt</text>
<path d="M159.5 360.3 L165.7 365.3" stroke="#fff" stroke-width="0.8" fill="none"/><path d="M169.6 368.4 L164.3 367.0 L167.1 363.6 Z" fill="#fff"/>
<text x="98.5" y="404.3" font-size="13.5" fill="#f21d1d" text-anchor="start" >Solidus</text>
<text x="106.9" y="427.7" font-size="11.3" fill="#fff" text-anchor="middle" >cpx ol spl</text>
<text x="106.4" y="437.8" font-size="11.3" fill="#fff" text-anchor="middle" >grt melt</text>
<path d="M114.9 441.5 L123.4 447.4" stroke="#fff" stroke-width="0.8" fill="none"/><path d="M127.5 450.3 L122.1 449.2 L124.7 445.6 Z" fill="#fff"/>
<text x="60.8" y="442.8" font-size="11.3" fill="#fff" text-anchor="middle" >cpx ol</text>
<text x="60.8" y="452.3" font-size="11.3" fill="#fff" text-anchor="middle" >spl grt</text>
<text x="76.8" y="472.9" font-size="11.3" fill="#fff" text-anchor="middle" >cpx spl</text>
<text x="76.5" y="483.0" font-size="11.3" fill="#fff" text-anchor="middle" >grt melt</text>
<path d="M87.8 486.7 L97.6 493.8" stroke="#fff" stroke-width="0.8" fill="none"/><path d="M101.6 496.8 L96.3 495.6 L98.9 492.1 Z" fill="#fff"/>
<text x="175.9" y="426.5" font-size="11.3" fill="#fff" text-anchor="middle" >grt opx</text>
<text x="175.5" y="435.3" font-size="11.3" fill="#fff" text-anchor="middle" >melt</text>
<path d="M169.7 437.8 L177.6 444.2" stroke="#fff" stroke-width="0.8" fill="none"/><path d="M181.5 447.3 L176.2 445.9 L179.0 442.5 Z" fill="#fff"/>
<text x="202.3" y="376.7" font-size="11.3" fill="#fff" text-anchor="middle" >grt cpx</text>
<text x="202.1" y="386.2" font-size="11.3" fill="#fff" text-anchor="middle" >melt</text>
<text x="247.7" y="353.3" font-size="11.3" fill="#fff" text-anchor="middle" >grt</text>
<text x="248.4" y="362.9" font-size="11.3" fill="#fff" text-anchor="middle" >melt</text>
<text x="247.5" y="330.7" font-size="13.3" fill="#f0a030" text-anchor="start" >Grt-in</text>
<text x="230.6" y="501.3" font-size="11.3" fill="#fff" text-anchor="middle" >melt</text>
<text x="163.6" y="543.2" font-size="11.3" fill="#fff" text-anchor="middle" >ol</text>
<text x="163.4" y="554.0" font-size="11.3" fill="#fff" text-anchor="middle" >melt</text>
<path d="M151.9 545.7 L146.1 546.4" stroke="#fff" stroke-width="0.8" fill="none"/><path d="M141.1 547.0 L145.8 544.2 L146.3 548.6 Z" fill="#fff"/>
<text x="144.0" y="502.3" font-size="11.3" fill="#fff" text-anchor="middle" >opx</text>
<text x="143.8" y="512.3" font-size="11.3" fill="#fff" text-anchor="middle" >melt</text>
<text x="51.5" y="513.8" font-size="11.3" fill="#fff" text-anchor="middle" >cpx spl</text>
<text x="52.1" y="523.4" font-size="11.3" fill="#fff" text-anchor="middle" >grt</text>
<text x="96.7" y="510.5" font-size="11.3" fill="#fff" text-anchor="middle" >cpx spl</text>
<text x="97.0" y="520.0" font-size="11.3" fill="#fff" text-anchor="middle" >melt</text>
<path d="M91.6 523.8 L87.3 524.6" stroke="#fff" stroke-width="0.8" fill="none"/><path d="M82.4 525.6 L86.9 522.5 L87.7 526.8 Z" fill="#fff"/>
<text x="124.3" y="526.9" font-size="11.3" fill="#fff" text-anchor="middle" >ol opx</text>
<text x="124.5" y="536.4" font-size="11.3" fill="#fff" text-anchor="middle" >melt</text>
<text x="61.5" y="538.9" font-size="11.3" fill="#fff" text-anchor="middle" >ol cpx opx</text>
<text x="61.6" y="549.0" font-size="11.3" fill="#fff" text-anchor="middle" >spl melt</text>
<path d="M61.5 552.5 L63.3 553.9" stroke="#fff" stroke-width="0.8" fill="none"/><path d="M67.3 557.0 L62.0 555.7 L64.7 552.2 Z" fill="#fff"/>
<text x="112.1" y="547.4" font-size="11.3" fill="#fff" text-anchor="middle" >ol opx</text>
<text x="112.4" y="557.0" font-size="11.3" fill="#fff" text-anchor="middle" >spl melt</text>
<path d="M91.6 551.5 L86.5 552.4" stroke="#fff" stroke-width="0.8" fill="none"/><path d="M81.6 553.2 L86.2 550.2 L86.9 554.5 Z" fill="#fff"/>
</g>
<g>
<path d="M496.0 28.6 L321.6 271.6 L670.4 271.6 Z" fill="none" stroke="#222" stroke-width="0.7"/>
<rect x="291" y="22" width="189.4" height="136.6" fill="#fff"/>
<circle cx="491.7" cy="203.5" r="4.6" fill="#b6b3da" stroke="#2a2a2a" stroke-width="0.6"/>
<circle cx="495.9" cy="203.9" r="4.6" fill="#b6b3da" stroke="#2a2a2a" stroke-width="0.6"/>
<circle cx="500.1" cy="203.6" r="4.6" fill="#b6b3da" stroke="#2a2a2a" stroke-width="0.6"/>
<circle cx="503.5" cy="204.7" r="4.6" fill="#b6b3da" stroke="#2a2a2a" stroke-width="0.6"/>
<circle cx="507.7" cy="203.8" r="4.6" fill="#b6b3da" stroke="#2a2a2a" stroke-width="0.6"/>
<circle cx="512.3" cy="203.3" r="4.6" fill="#b6b3da" stroke="#2a2a2a" stroke-width="0.6"/>
<circle cx="516.1" cy="202.4" r="4.6" fill="#b6b3da" stroke="#2a2a2a" stroke-width="0.6"/>
<circle cx="519.6" cy="200.8" r="4.6" fill="#b6b3da" stroke="#2a2a2a" stroke-width="0.6"/>
<circle cx="523.1" cy="199.6" r="4.6" fill="#b6b3da" stroke="#2a2a2a" stroke-width="0.6"/>
<circle cx="526.5" cy="197.6" r="4.6" fill="#b6b3da" stroke="#2a2a2a" stroke-width="0.6"/>
<circle cx="530.3" cy="195.1" r="4.6" fill="#b6b3da" stroke="#2a2a2a" stroke-width="0.6"/>
<circle cx="534.0" cy="193.9" r="4.6" fill="#b6b3da" stroke="#2a2a2a" stroke-width="0.6"/>
<circle cx="537.1" cy="191.7" r="4.6" fill="#b6b3da" stroke="#2a2a2a" stroke-width="0.6"/>
<circle cx="541.3" cy="190.4" r="4.6" fill="#b6b3da" stroke="#2a2a2a" stroke-width="0.6"/>
<circle cx="544.8" cy="189.2" r="4.6" fill="#b6b3da" stroke="#2a2a2a" stroke-width="0.6"/>
<circle cx="548.5" cy="187.8" r="4.6" fill="#b6b3da" stroke="#2a2a2a" stroke-width="0.6"/>
<circle cx="551.9" cy="186.2" r="4.6" fill="#b6b3da" stroke="#2a2a2a" stroke-width="0.6"/>
<circle cx="555.7" cy="184.8" r="4.6" fill="#b6b3da" stroke="#2a2a2a" stroke-width="0.6"/>
<circle cx="559.8" cy="182.3" r="4.6" fill="#b6b3da" stroke="#2a2a2a" stroke-width="0.6"/>
<circle cx="562.6" cy="180.6" r="4.6" fill="#b6b3da" stroke="#2a2a2a" stroke-width="0.6"/>
<circle cx="566.9" cy="178.9" r="4.6" fill="#b6b3da" stroke="#2a2a2a" stroke-width="0.6"/>
<circle cx="570.1" cy="176.9" r="4.6" fill="#b6b3da" stroke="#2a2a2a" stroke-width="0.6"/>
<circle cx="573.4" cy="174.9" r="4.6" fill="#b6b3da" stroke="#2a2a2a" stroke-width="0.6"/>
<circle cx="576.6" cy="172.9" r="4.6" fill="#b6b3da" stroke="#2a2a2a" stroke-width="0.6"/>
<circle cx="580.1" cy="170.9" r="4.6" fill="#b6b3da" stroke="#2a2a2a" stroke-width="0.6"/>
<circle cx="583.4" cy="168.6" r="4.6" fill="#b6b3da" stroke="#2a2a2a" stroke-width="0.6"/>
<circle cx="586.0" cy="165.5" r="4.6" fill="#b6b3da" stroke="#2a2a2a" stroke-width="0.6"/>
<circle cx="484.2" cy="207.7" r="4.6" fill="#b6b3da" stroke="#2a2a2a" stroke-width="0.6"/>
<circle cx="487.3" cy="209.1" r="4.6" fill="#b6b3da" stroke="#2a2a2a" stroke-width="0.6"/>
<circle cx="490.3" cy="209.4" r="4.6" fill="#b6b3da" stroke="#2a2a2a" stroke-width="0.6"/>
<circle cx="493.0" cy="209.7" r="4.6" fill="#b6b3da" stroke="#2a2a2a" stroke-width="0.6"/>
<circle cx="496.0" cy="210.8" r="4.6" fill="#b6b3da" stroke="#2a2a2a" stroke-width="0.6"/>
<circle cx="498.4" cy="210.5" r="4.6" fill="#b6b3da" stroke="#2a2a2a" stroke-width="0.6"/>
<circle cx="502.0" cy="211.3" r="4.6" fill="#b6b3da" stroke="#2a2a2a" stroke-width="0.6"/>
<circle cx="504.2" cy="211.0" r="4.6" fill="#b6b3da" stroke="#2a2a2a" stroke-width="0.6"/>
<circle cx="507.6" cy="210.2" r="4.6" fill="#b6b3da" stroke="#2a2a2a" stroke-width="0.6"/>
<circle cx="510.4" cy="210.6" r="4.6" fill="#b6b3da" stroke="#2a2a2a" stroke-width="0.6"/>
<circle cx="513.8" cy="208.9" r="4.6" fill="#b6b3da" stroke="#2a2a2a" stroke-width="0.6"/>
<circle cx="516.5" cy="208.0" r="4.6" fill="#b6b3da" stroke="#2a2a2a" stroke-width="0.6"/>
<circle cx="519.4" cy="207.4" r="4.6" fill="#b6b3da" stroke="#2a2a2a" stroke-width="0.6"/>
<circle cx="522.3" cy="206.9" r="4.6" fill="#b6b3da" stroke="#2a2a2a" stroke-width="0.6"/>
<circle cx="524.4" cy="205.3" r="4.6" fill="#b6b3da" stroke="#2a2a2a" stroke-width="0.6"/>
<circle cx="526.8" cy="202.7" r="4.6" fill="#b6b3da" stroke="#2a2a2a" stroke-width="0.6"/>
<circle cx="529.6" cy="201.0" r="4.6" fill="#b6b3da" stroke="#2a2a2a" stroke-width="0.6"/>
<circle cx="531.8" cy="199.9" r="4.6" fill="#b6b3da" stroke="#2a2a2a" stroke-width="0.6"/>
<circle cx="534.9" cy="198.4" r="4.6" fill="#b6b3da" stroke="#2a2a2a" stroke-width="0.6"/>
<circle cx="537.0" cy="197.8" r="4.6" fill="#b6b3da" stroke="#2a2a2a" stroke-width="0.6"/>
<circle cx="540.0" cy="196.7" r="4.6" fill="#b6b3da" stroke="#2a2a2a" stroke-width="0.6"/>
<circle cx="543.3" cy="194.8" r="4.6" fill="#b6b3da" stroke="#2a2a2a" stroke-width="0.6"/>
<circle cx="545.6" cy="193.7" r="4.6" fill="#b6b3da" stroke="#2a2a2a" stroke-width="0.6"/>
<circle cx="548.6" cy="192.6" r="4.6" fill="#b6b3da" stroke="#2a2a2a" stroke-width="0.6"/>
<circle cx="551.3" cy="191.5" r="4.6" fill="#b6b3da" stroke="#2a2a2a" stroke-width="0.6"/>
<circle cx="554.4" cy="190.3" r="4.6" fill="#b6b3da" stroke="#2a2a2a" stroke-width="0.6"/>
<circle cx="556.7" cy="189.3" r="4.6" fill="#b6b3da" stroke="#2a2a2a" stroke-width="0.6"/>
<circle cx="559.3" cy="187.8" r="4.6" fill="#b6b3da" stroke="#2a2a2a" stroke-width="0.6"/>
<circle cx="562.8" cy="186.9" r="4.6" fill="#b6b3da" stroke="#2a2a2a" stroke-width="0.6"/>
<circle cx="565.1" cy="185.2" r="4.6" fill="#b6b3da" stroke="#2a2a2a" stroke-width="0.6"/>
<circle cx="567.7" cy="184.6" r="4.6" fill="#b6b3da" stroke="#2a2a2a" stroke-width="0.6"/>
<circle cx="570.1" cy="183.4" r="4.6" fill="#b6b3da" stroke="#2a2a2a" stroke-width="0.6"/>
<circle cx="573.5" cy="181.6" r="4.6" fill="#b6b3da" stroke="#2a2a2a" stroke-width="0.6"/>
<circle cx="576.2" cy="180.9" r="4.6" fill="#b6b3da" stroke="#2a2a2a" stroke-width="0.6"/>
<circle cx="579.0" cy="179.5" r="4.6" fill="#b6b3da" stroke="#2a2a2a" stroke-width="0.6"/>
<circle cx="581.7" cy="178.5" r="4.6" fill="#b6b3da" stroke="#2a2a2a" stroke-width="0.6"/>
<circle cx="583.7" cy="176.5" r="4.6" fill="#b6b3da" stroke="#2a2a2a" stroke-width="0.6"/>
<circle cx="587.0" cy="176.0" r="4.6" fill="#b6b3da" stroke="#2a2a2a" stroke-width="0.6"/>
<circle cx="589.3" cy="174.2" r="4.6" fill="#b6b3da" stroke="#2a2a2a" stroke-width="0.6"/>
<circle cx="478.1" cy="212.8" r="4.6" fill="#b6b3da" stroke="#2a2a2a" stroke-width="0.6"/>
<circle cx="479.8" cy="213.4" r="4.6" fill="#b6b3da" stroke="#2a2a2a" stroke-width="0.6"/>
<circle cx="481.7" cy="214.4" r="4.6" fill="#b6b3da" stroke="#2a2a2a" stroke-width="0.6"/>
<circle cx="483.5" cy="214.8" r="4.6" fill="#b6b3da" stroke="#2a2a2a" stroke-width="0.6"/>
<circle cx="485.9" cy="215.1" r="4.6" fill="#b6b3da" stroke="#2a2a2a" stroke-width="0.6"/>
<circle cx="487.6" cy="216.4" r="4.6" fill="#b6b3da" stroke="#2a2a2a" stroke-width="0.6"/>
<circle cx="489.2" cy="216.5" r="4.6" fill="#b6b3da" stroke="#2a2a2a" stroke-width="0.6"/>
<circle cx="491.6" cy="216.9" r="4.6" fill="#b6b3da" stroke="#2a2a2a" stroke-width="0.6"/>
<circle cx="493.0" cy="217.4" r="4.6" fill="#b6b3da" stroke="#2a2a2a" stroke-width="0.6"/>
<circle cx="495.5" cy="217.4" r="4.6" fill="#b6b3da" stroke="#2a2a2a" stroke-width="0.6"/>
<circle cx="497.1" cy="218.0" r="4.6" fill="#b6b3da" stroke="#2a2a2a" stroke-width="0.6"/>
<circle cx="499.6" cy="218.4" r="4.6" fill="#b6b3da" stroke="#2a2a2a" stroke-width="0.6"/>
<circle cx="501.6" cy="218.4" r="4.6" fill="#b6b3da" stroke="#2a2a2a" stroke-width="0.6"/>
<circle cx="503.0" cy="219.1" r="4.6" fill="#b6b3da" stroke="#2a2a2a" stroke-width="0.6"/>
<circle cx="505.6" cy="218.9" r="4.6" fill="#b6b3da" stroke="#2a2a2a" stroke-width="0.6"/>
<circle cx="506.9" cy="218.4" r="4.6" fill="#b6b3da" stroke="#2a2a2a" stroke-width="0.6"/>
<circle cx="509.2" cy="218.4" r="4.6" fill="#b6b3da" stroke="#2a2a2a" stroke-width="0.6"/>
<circle cx="511.5" cy="219.0" r="4.6" fill="#b6b3da" stroke="#2a2a2a" stroke-width="0.6"/>
<circle cx="512.9" cy="218.4" r="4.6" fill="#b6b3da" stroke="#2a2a2a" stroke-width="0.6"/>
<circle cx="515.5" cy="218.6" r="4.6" fill="#b6b3da" stroke="#2a2a2a" stroke-width="0.6"/>
<circle cx="517.3" cy="217.4" r="4.6" fill="#b6b3da" stroke="#2a2a2a" stroke-width="0.6"/>
<circle cx="518.4" cy="216.4" r="4.6" fill="#b6b3da" stroke="#2a2a2a" stroke-width="0.6"/>
<circle cx="520.8" cy="215.5" r="4.6" fill="#b6b3da" stroke="#2a2a2a" stroke-width="0.6"/>
<circle cx="522.2" cy="214.8" r="4.6" fill="#b6b3da" stroke="#2a2a2a" stroke-width="0.6"/>
<circle cx="524.0" cy="213.8" r="4.6" fill="#b6b3da" stroke="#2a2a2a" stroke-width="0.6"/>
<circle cx="526.0" cy="212.3" r="4.6" fill="#b6b3da" stroke="#2a2a2a" stroke-width="0.6"/>
<circle cx="526.6" cy="211.8" r="4.6" fill="#b6b3da" stroke="#2a2a2a" stroke-width="0.6"/>
<circle cx="529.0" cy="210.5" r="4.6" fill="#b6b3da" stroke="#2a2a2a" stroke-width="0.6"/>
<circle cx="530.1" cy="209.2" r="4.6" fill="#b6b3da" stroke="#2a2a2a" stroke-width="0.6"/>
<circle cx="532.1" cy="207.2" r="4.6" fill="#b6b3da" stroke="#2a2a2a" stroke-width="0.6"/>
<circle cx="533.5" cy="206.5" r="4.6" fill="#b6b3da" stroke="#2a2a2a" stroke-width="0.6"/>
<circle cx="535.1" cy="205.1" r="4.6" fill="#b6b3da" stroke="#2a2a2a" stroke-width="0.6"/>
<circle cx="536.5" cy="204.1" r="4.6" fill="#b6b3da" stroke="#2a2a2a" stroke-width="0.6"/>
<circle cx="538.3" cy="202.9" r="4.6" fill="#b6b3da" stroke="#2a2a2a" stroke-width="0.6"/>
<circle cx="540.4" cy="202.3" r="4.6" fill="#b6b3da" stroke="#2a2a2a" stroke-width="0.6"/>
<circle cx="542.5" cy="201.2" r="4.6" fill="#b6b3da" stroke="#2a2a2a" stroke-width="0.6"/>
<circle cx="544.4" cy="201.0" r="4.6" fill="#b6b3da" stroke="#2a2a2a" stroke-width="0.6"/>
<circle cx="546.2" cy="200.4" r="4.6" fill="#b6b3da" stroke="#2a2a2a" stroke-width="0.6"/>
<circle cx="548.0" cy="199.2" r="4.6" fill="#b6b3da" stroke="#2a2a2a" stroke-width="0.6"/>
<circle cx="548.9" cy="198.5" r="4.6" fill="#b6b3da" stroke="#2a2a2a" stroke-width="0.6"/>
<circle cx="550.9" cy="197.3" r="4.6" fill="#b6b3da" stroke="#2a2a2a" stroke-width="0.6"/>
<circle cx="553.2" cy="196.7" r="4.6" fill="#b6b3da" stroke="#2a2a2a" stroke-width="0.6"/>
<circle cx="554.8" cy="196.3" r="4.6" fill="#b6b3da" stroke="#2a2a2a" stroke-width="0.6"/>
<circle cx="556.8" cy="194.9" r="4.6" fill="#b6b3da" stroke="#2a2a2a" stroke-width="0.6"/>
<circle cx="558.3" cy="194.7" r="4.6" fill="#b6b3da" stroke="#2a2a2a" stroke-width="0.6"/>
<circle cx="560.4" cy="193.8" r="4.6" fill="#b6b3da" stroke="#2a2a2a" stroke-width="0.6"/>
<circle cx="562.1" cy="192.4" r="4.6" fill="#b6b3da" stroke="#2a2a2a" stroke-width="0.6"/>
<circle cx="564.1" cy="192.2" r="4.6" fill="#b6b3da" stroke="#2a2a2a" stroke-width="0.6"/>
<circle cx="565.6" cy="191.5" r="4.6" fill="#b6b3da" stroke="#2a2a2a" stroke-width="0.6"/>
<circle cx="568.2" cy="190.8" r="4.6" fill="#b6b3da" stroke="#2a2a2a" stroke-width="0.6"/>
<circle cx="570.0" cy="189.3" r="4.6" fill="#b6b3da" stroke="#2a2a2a" stroke-width="0.6"/>
<circle cx="571.7" cy="189.5" r="4.6" fill="#b6b3da" stroke="#2a2a2a" stroke-width="0.6"/>
<circle cx="573.0" cy="188.2" r="4.6" fill="#b6b3da" stroke="#2a2a2a" stroke-width="0.6"/>
<circle cx="575.1" cy="187.7" r="4.6" fill="#b6b3da" stroke="#2a2a2a" stroke-width="0.6"/>
<circle cx="577.1" cy="187.0" r="4.6" fill="#b6b3da" stroke="#2a2a2a" stroke-width="0.6"/>
<circle cx="579.3" cy="185.8" r="4.6" fill="#b6b3da" stroke="#2a2a2a" stroke-width="0.6"/>
<circle cx="580.5" cy="185.2" r="4.6" fill="#b6b3da" stroke="#2a2a2a" stroke-width="0.6"/>
<circle cx="582.4" cy="184.4" r="4.6" fill="#b6b3da" stroke="#2a2a2a" stroke-width="0.6"/>
<circle cx="585.1" cy="184.4" r="4.6" fill="#b6b3da" stroke="#2a2a2a" stroke-width="0.6"/>
<circle cx="586.1" cy="183.3" r="4.6" fill="#b6b3da" stroke="#2a2a2a" stroke-width="0.6"/>
<circle cx="588.1" cy="182.4" r="4.6" fill="#b6b3da" stroke="#2a2a2a" stroke-width="0.6"/>
<circle cx="590.0" cy="181.9" r="4.6" fill="#b6b3da" stroke="#2a2a2a" stroke-width="0.6"/>
<circle cx="580.0" cy="186.0" r="4.6" fill="#b6b3da" stroke="#2a2a2a" stroke-width="0.6"/>
<circle cx="584.0" cy="181.0" r="4.6" fill="#b6b3da" stroke="#2a2a2a" stroke-width="0.6"/>
<circle cx="589.0" cy="176.0" r="4.6" fill="#b6b3da" stroke="#2a2a2a" stroke-width="0.6"/>
<circle cx="586.0" cy="170.0" r="4.6" fill="#b6b3da" stroke="#2a2a2a" stroke-width="0.6"/>
<circle cx="582.0" cy="174.0" r="4.6" fill="#b6b3da" stroke="#2a2a2a" stroke-width="0.6"/>
<circle cx="578.0" cy="178.0" r="4.6" fill="#b6b3da" stroke="#2a2a2a" stroke-width="0.6"/>
<circle cx="590.0" cy="168.0" r="4.6" fill="#b6b3da" stroke="#2a2a2a" stroke-width="0.6"/>
<circle cx="575.0" cy="183.0" r="4.6" fill="#b6b3da" stroke="#2a2a2a" stroke-width="0.6"/>
<circle cx="570.0" cy="186.0" r="4.6" fill="#b6b3da" stroke="#2a2a2a" stroke-width="0.6"/>
<circle cx="450.6" cy="201.4" r="4.6" fill="#739eb9" stroke="#2a2a2a" stroke-width="0.6"/>
<circle cx="457.6" cy="205.3" r="4.6" fill="#769cbc" stroke="#2a2a2a" stroke-width="0.6"/>
<circle cx="464.9" cy="206.7" r="4.6" fill="#789bbe" stroke="#2a2a2a" stroke-width="0.6"/>
<circle cx="472.2" cy="203.8" r="4.6" fill="#789bbe" stroke="#2a2a2a" stroke-width="0.6"/>
<circle cx="479.5" cy="206.7" r="4.6" fill="#879cc3" stroke="#2a2a2a" stroke-width="0.6"/>
<circle cx="485.3" cy="203.8" r="4.6" fill="#8e9cc6" stroke="#2a2a2a" stroke-width="0.6"/>
<circle cx="491.2" cy="200.9" r="4.6" fill="#879cc3" stroke="#2a2a2a" stroke-width="0.6"/>
<circle cx="498.5" cy="198.0" r="4.6" fill="#7c9bbf" stroke="#2a2a2a" stroke-width="0.6"/>
<circle cx="507.2" cy="196.5" r="4.6" fill="#809bc0" stroke="#2a2a2a" stroke-width="0.6"/>
<circle cx="470.0" cy="211.0" r="4.6" fill="#8e9cc6" stroke="#2a2a2a" stroke-width="0.6"/>
<circle cx="390.4" cy="190.7" r="4.6" fill="#cdf096" stroke="#2a2a2a" stroke-width="0.6"/>
<circle cx="408.0" cy="193.6" r="4.6" fill="#a0e29a" stroke="#2a2a2a" stroke-width="0.6"/>
<circle cx="413.8" cy="190.9" r="4.6" fill="#a0e29a" stroke="#2a2a2a" stroke-width="0.6"/>
<circle cx="428.4" cy="198.0" r="4.6" fill="#92da9b" stroke="#2a2a2a" stroke-width="0.6"/>
<circle cx="435.7" cy="195.0" r="4.6" fill="#92da9b" stroke="#2a2a2a" stroke-width="0.6"/>
<circle cx="441.5" cy="193.6" r="4.6" fill="#85d29c" stroke="#2a2a2a" stroke-width="0.6"/>
<circle cx="447.4" cy="199.4" r="4.6" fill="#74c39e" stroke="#2a2a2a" stroke-width="0.6"/>
<circle cx="454.7" cy="200.9" r="4.6" fill="#6bb7a1" stroke="#2a2a2a" stroke-width="0.6"/>
<circle cx="460.5" cy="198.0" r="4.6" fill="#6fbd9f" stroke="#2a2a2a" stroke-width="0.6"/>
<circle cx="470.7" cy="195.0" r="4.6" fill="#71c09f" stroke="#2a2a2a" stroke-width="0.6"/>
<circle cx="478.0" cy="197.0" r="4.6" fill="#67afa6" stroke="#2a2a2a" stroke-width="0.6"/>
<circle cx="499.7" cy="195.6" r="4.6" fill="#769cbc" stroke="#2a2a2a" stroke-width="0.6"/>
<circle cx="515.0" cy="192.0" r="4.6" fill="#6fa0b5" stroke="#2a2a2a" stroke-width="0.6"/>
<circle cx="526.7" cy="188.6" r="4.6" fill="#67afa6" stroke="#2a2a2a" stroke-width="0.6"/>
<circle cx="413.8" cy="180.4" r="4.6" fill="#edc664" stroke="#2a2a2a" stroke-width="0.6"/>
<circle cx="459.0" cy="179.0" r="4.6" fill="#eebe5f" stroke="#2a2a2a" stroke-width="0.6"/>
<circle cx="464.9" cy="176.4" r="4.6" fill="#edc664" stroke="#2a2a2a" stroke-width="0.6"/>
<circle cx="479.5" cy="181.9" r="4.6" fill="#ade699" stroke="#2a2a2a" stroke-width="0.6"/>
<circle cx="485.3" cy="184.8" r="4.6" fill="#ade699" stroke="#2a2a2a" stroke-width="0.6"/>
<circle cx="492.7" cy="186.2" r="4.6" fill="#92da9b" stroke="#2a2a2a" stroke-width="0.6"/>
<circle cx="498.5" cy="181.9" r="4.6" fill="#a0e29a" stroke="#2a2a2a" stroke-width="0.6"/>
<circle cx="505.8" cy="186.3" r="4.6" fill="#85d29c" stroke="#2a2a2a" stroke-width="0.6"/>
<circle cx="510.1" cy="181.9" r="4.6" fill="#ade699" stroke="#2a2a2a" stroke-width="0.6"/>
<circle cx="516.0" cy="187.7" r="4.6" fill="#6bb7a1" stroke="#2a2a2a" stroke-width="0.6"/>
<circle cx="526.2" cy="180.4" r="4.6" fill="#ade699" stroke="#2a2a2a" stroke-width="0.6"/>
<circle cx="533.5" cy="183.4" r="4.6" fill="#92da9b" stroke="#2a2a2a" stroke-width="0.6"/>
<circle cx="541.0" cy="181.0" r="4.6" fill="#7ccc9c" stroke="#2a2a2a" stroke-width="0.6"/>
<circle cx="548.0" cy="183.0" r="4.6" fill="#65a9a9" stroke="#2a2a2a" stroke-width="0.6"/>
<circle cx="410.2" cy="174.5" r="4.6" fill="#f07a58" stroke="#2a2a2a" stroke-width="0.6"/>
<circle cx="420.2" cy="175.7" r="4.6" fill="#f09852" stroke="#2a2a2a" stroke-width="0.6"/>
<circle cx="424.9" cy="175.2" r="4.6" fill="#f09852" stroke="#2a2a2a" stroke-width="0.6"/>
<circle cx="467.0" cy="174.5" r="4.6" fill="#f0a255" stroke="#2a2a2a" stroke-width="0.6"/>
<circle cx="500.8" cy="174.0" r="4.6" fill="#f09852" stroke="#2a2a2a" stroke-width="0.6"/>
<circle cx="505.5" cy="175.7" r="4.6" fill="#f08656" stroke="#2a2a2a" stroke-width="0.6"/>
<circle cx="538.4" cy="174.5" r="4.6" fill="#f09852" stroke="#2a2a2a" stroke-width="0.6"/>
<circle cx="578.1" cy="173.4" r="4.6" fill="#f0a255" stroke="#2a2a2a" stroke-width="0.6"/>
<circle cx="381.8" cy="193.5" r="4.2" fill="#ecd66e" stroke="#2a2a2a" stroke-width="0.5"/>
<circle cx="382.3" cy="192.7" r="4.2" fill="#ecd66e" stroke="#2a2a2a" stroke-width="0.5"/>
<circle cx="382.8" cy="192.0" r="4.2" fill="#ecd66e" stroke="#2a2a2a" stroke-width="0.5"/>
<circle cx="383.2" cy="191.2" r="4.2" fill="#ecd66e" stroke="#2a2a2a" stroke-width="0.5"/>
<circle cx="383.7" cy="190.4" r="4.2" fill="#ecd66e" stroke="#2a2a2a" stroke-width="0.5"/>
<circle cx="384.2" cy="189.7" r="4.2" fill="#ecd66e" stroke="#2a2a2a" stroke-width="0.5"/>
<circle cx="384.7" cy="188.9" r="4.2" fill="#ecd66e" stroke="#2a2a2a" stroke-width="0.5"/>
<circle cx="385.1" cy="188.1" r="4.2" fill="#ecd66e" stroke="#2a2a2a" stroke-width="0.5"/>
<circle cx="385.6" cy="187.4" r="4.2" fill="#ecd66e" stroke="#2a2a2a" stroke-width="0.5"/>
<circle cx="386.1" cy="186.6" r="4.2" fill="#ecd66e" stroke="#2a2a2a" stroke-width="0.5"/>
<circle cx="386.6" cy="185.9" r="4.2" fill="#ecd66e" stroke="#2a2a2a" stroke-width="0.5"/>
<circle cx="387.0" cy="185.1" r="4.2" fill="#ecd66e" stroke="#2a2a2a" stroke-width="0.5"/>
<circle cx="387.5" cy="184.3" r="4.2" fill="#ecd66e" stroke="#2a2a2a" stroke-width="0.5"/>
<circle cx="388.0" cy="183.6" r="4.2" fill="#ecd66e" stroke="#2a2a2a" stroke-width="0.5"/>
<circle cx="388.5" cy="182.8" r="4.2" fill="#ecd66e" stroke="#2a2a2a" stroke-width="0.5"/>
<circle cx="388.9" cy="182.0" r="4.2" fill="#ecd66e" stroke="#2a2a2a" stroke-width="0.5"/>
<circle cx="389.4" cy="181.3" r="4.2" fill="#ecd66e" stroke="#2a2a2a" stroke-width="0.5"/>
<circle cx="389.9" cy="180.5" r="4.2" fill="#ecd66e" stroke="#2a2a2a" stroke-width="0.5"/>
<circle cx="390.4" cy="179.7" r="4.2" fill="#ecd66e" stroke="#2a2a2a" stroke-width="0.5"/>
<circle cx="386.8" cy="181.0" r="4.3" fill="#ef745c" stroke="#2a2a2a" stroke-width="0.6"/>
<circle cx="391.5" cy="174.2" r="4.4" fill="#ee6c60" stroke="#2a2a2a" stroke-width="0.6"/>
<circle cx="497.0" cy="30.0" r="5.2" fill="#b6b3da" stroke="#2a2a2a" stroke-width="0.6"/>
<circle cx="500.6" cy="35.0" r="5.2" fill="#b6b3da" stroke="#2a2a2a" stroke-width="0.6"/>
<circle cx="504.2" cy="40.1" r="5.2" fill="#b6b3da" stroke="#2a2a2a" stroke-width="0.6"/>
<circle cx="507.8" cy="45.1" r="5.2" fill="#b6b3da" stroke="#2a2a2a" stroke-width="0.6"/>
<circle cx="511.5" cy="50.1" r="5.2" fill="#b6b3da" stroke="#2a2a2a" stroke-width="0.6"/>
<circle cx="515.1" cy="55.2" r="5.2" fill="#b6b3da" stroke="#2a2a2a" stroke-width="0.6"/>
<circle cx="518.7" cy="60.2" r="5.2" fill="#b6b3da" stroke="#2a2a2a" stroke-width="0.6"/>
<circle cx="522.3" cy="65.3" r="5.2" fill="#b6b3da" stroke="#2a2a2a" stroke-width="0.6"/>
<circle cx="525.9" cy="70.3" r="5.2" fill="#b6b3da" stroke="#2a2a2a" stroke-width="0.6"/>
<circle cx="529.5" cy="75.3" r="5.2" fill="#b6b3da" stroke="#2a2a2a" stroke-width="0.6"/>
<circle cx="533.2" cy="80.4" r="5.2" fill="#b6b3da" stroke="#2a2a2a" stroke-width="0.6"/>
<circle cx="536.8" cy="85.4" r="5.2" fill="#b6b3da" stroke="#2a2a2a" stroke-width="0.6"/>
<circle cx="540.4" cy="90.4" r="5.2" fill="#b6b3da" stroke="#2a2a2a" stroke-width="0.6"/>
<circle cx="544.0" cy="95.5" r="5.2" fill="#b6b3da" stroke="#2a2a2a" stroke-width="0.6"/>
<circle cx="547.6" cy="100.5" r="5.2" fill="#b6b3da" stroke="#2a2a2a" stroke-width="0.6"/>
<circle cx="551.2" cy="105.6" r="5.2" fill="#b6b3da" stroke="#2a2a2a" stroke-width="0.6"/>
<circle cx="554.8" cy="110.6" r="5.2" fill="#b6b3da" stroke="#2a2a2a" stroke-width="0.6"/>
<circle cx="558.5" cy="115.6" r="5.2" fill="#b6b3da" stroke="#2a2a2a" stroke-width="0.6"/>
<circle cx="561.6" cy="120.0" r="5.3" fill="#b6b3da" stroke="#2a2a2a" stroke-width="0.6"/>
<circle cx="563.1" cy="122.1" r="5.3" fill="#b6b3da" stroke="#2a2a2a" stroke-width="0.6"/>
<circle cx="564.6" cy="124.2" r="5.3" fill="#b6b3da" stroke="#2a2a2a" stroke-width="0.6"/>
<circle cx="566.1" cy="126.3" r="5.3" fill="#b6b3da" stroke="#2a2a2a" stroke-width="0.6"/>
<circle cx="567.7" cy="128.4" r="5.3" fill="#b6b3da" stroke="#2a2a2a" stroke-width="0.6"/>
<circle cx="569.2" cy="130.6" r="5.3" fill="#b6b3da" stroke="#2a2a2a" stroke-width="0.6"/>
<circle cx="570.7" cy="132.7" r="5.3" fill="#b6b3da" stroke="#2a2a2a" stroke-width="0.6"/>
<circle cx="572.2" cy="134.8" r="5.3" fill="#b6b3da" stroke="#2a2a2a" stroke-width="0.6"/>
<circle cx="573.7" cy="136.9" r="5.3" fill="#b6b3da" stroke="#2a2a2a" stroke-width="0.6"/>
<circle cx="575.2" cy="139.0" r="5.3" fill="#b6b3da" stroke="#2a2a2a" stroke-width="0.6"/>
<circle cx="576.8" cy="141.1" r="5.3" fill="#b6b3da" stroke="#2a2a2a" stroke-width="0.6"/>
<circle cx="578.3" cy="143.2" r="5.3" fill="#b6b3da" stroke="#2a2a2a" stroke-width="0.6"/>
<circle cx="579.8" cy="145.3" r="5.3" fill="#b6b3da" stroke="#2a2a2a" stroke-width="0.6"/>
<circle cx="581.3" cy="147.5" r="5.3" fill="#b6b3da" stroke="#2a2a2a" stroke-width="0.6"/>
<circle cx="582.8" cy="149.6" r="5.3" fill="#b6b3da" stroke="#2a2a2a" stroke-width="0.6"/>
<circle cx="584.3" cy="151.7" r="5.3" fill="#b6b3da" stroke="#2a2a2a" stroke-width="0.6"/>
<circle cx="585.9" cy="153.8" r="5.3" fill="#b6b3da" stroke="#2a2a2a" stroke-width="0.6"/>
<circle cx="587.4" cy="155.9" r="5.3" fill="#b6b3da" stroke="#2a2a2a" stroke-width="0.6"/>
<circle cx="588.9" cy="158.0" r="5.3" fill="#b6b3da" stroke="#2a2a2a" stroke-width="0.6"/>
<circle cx="590.4" cy="160.1" r="5.3" fill="#b6b3da" stroke="#2a2a2a" stroke-width="0.6"/>
<circle cx="591.9" cy="162.2" r="5.3" fill="#b6b3da" stroke="#2a2a2a" stroke-width="0.6"/>
<circle cx="593.4" cy="164.4" r="5.3" fill="#b6b3da" stroke="#2a2a2a" stroke-width="0.6"/>
<circle cx="594.9" cy="166.5" r="5.3" fill="#b6b3da" stroke="#2a2a2a" stroke-width="0.6"/>
<circle cx="596.5" cy="168.6" r="5.3" fill="#b6b3da" stroke="#2a2a2a" stroke-width="0.6"/>
<circle cx="598.0" cy="170.7" r="5.3" fill="#b6b3da" stroke="#2a2a2a" stroke-width="0.6"/>
<circle cx="599.5" cy="172.8" r="5.3" fill="#b6b3da" stroke="#2a2a2a" stroke-width="0.6"/>
<circle cx="601.0" cy="174.9" r="5.3" fill="#b6b3da" stroke="#2a2a2a" stroke-width="0.6"/>
<circle cx="602.5" cy="177.0" r="5.3" fill="#b6b3da" stroke="#2a2a2a" stroke-width="0.6"/>
<circle cx="604.0" cy="179.1" r="5.3" fill="#b6b3da" stroke="#2a2a2a" stroke-width="0.6"/>
<circle cx="605.6" cy="181.3" r="5.3" fill="#b6b3da" stroke="#2a2a2a" stroke-width="0.6"/>
<circle cx="607.1" cy="183.4" r="5.3" fill="#b6b3da" stroke="#2a2a2a" stroke-width="0.6"/>
<circle cx="608.6" cy="185.5" r="5.3" fill="#b6b3da" stroke="#2a2a2a" stroke-width="0.6"/>
<circle cx="610.1" cy="187.6" r="5.3" fill="#b6b3da" stroke="#2a2a2a" stroke-width="0.6"/>
<circle cx="611.6" cy="189.7" r="5.3" fill="#b6b3da" stroke="#2a2a2a" stroke-width="0.6"/>
<circle cx="597.5" cy="170.0" r="5.0" fill="#f0f28c" stroke="#2a2a2a" stroke-width="0.4"/>
<circle cx="599.0" cy="172.1" r="5.0" fill="#f0f28c" stroke="#2a2a2a" stroke-width="0.4"/>
<circle cx="600.5" cy="174.2" r="5.0" fill="#f0f28c" stroke="#2a2a2a" stroke-width="0.4"/>
<circle cx="602.0" cy="176.3" r="5.0" fill="#f0f28c" stroke="#2a2a2a" stroke-width="0.4"/>
<circle cx="603.5" cy="178.4" r="5.0" fill="#f0f28c" stroke="#2a2a2a" stroke-width="0.4"/>
<circle cx="605.1" cy="180.6" r="5.0" fill="#f0f28c" stroke="#2a2a2a" stroke-width="0.4"/>
<circle cx="606.6" cy="182.7" r="5.0" fill="#f0f28c" stroke="#2a2a2a" stroke-width="0.4"/>
<circle cx="608.1" cy="184.8" r="5.0" fill="#f0f28c" stroke="#2a2a2a" stroke-width="0.4"/>
<circle cx="609.0" cy="186.0" r="5.3" fill="#b6b3da" stroke="#2a2a2a" stroke-width="0.6"/>
<circle cx="610.5" cy="188.1" r="5.3" fill="#b6b3da" stroke="#2a2a2a" stroke-width="0.6"/>
<circle cx="612.0" cy="190.2" r="5.3" fill="#b6b3da" stroke="#2a2a2a" stroke-width="0.6"/>
<path d="M512.0 213.0 L523.0 207.2 L535.5 200.2 L550.0 189.7 L562.4 179.9 L577.0 168.7 L585.7 160.5 L588.9 158.0" fill="none" stroke="#e22f55" stroke-width="3.7" stroke-dasharray="5 11.4" stroke-dashoffset="0" stroke-linecap="round"/>
<path d="M479.0 213.1 L494.0 208.4 L511.0 204.2 L527.0 199.5 L542.0 195.6 L575.0 188.6 L588.0 183.4" fill="none" stroke="#eda62d" stroke-width="3.7" stroke-dasharray="5 11.4" stroke-dashoffset="0" stroke-linecap="round"/>
<path d="M426.0 198.4 L485.0 198.2 L498.0 198.0 L509.0 197.6 L526.0 195.6 L542.0 192.6 L560.0 189.2 L575.0 187.6 L590.0 187.0" fill="none" stroke="#c9f23e" stroke-width="3.7" stroke-dasharray="5 11.4" stroke-dashoffset="0" stroke-linecap="round"/>
<path d="M388.0 191.6 L440.0 190.0 L500.0 188.4 L599.0 186.8" fill="none" stroke="#86d63c" stroke-width="3.7" stroke-dasharray="5 11.4" stroke-dashoffset="0" stroke-linecap="round"/>
<path d="M384.0 179.4 L440.0 178.8 L537.0 177.4 L598.0 176.5" fill="none" stroke="#4a9fcd" stroke-width="3.7" stroke-dasharray="5 11.4" stroke-dashoffset="0" stroke-linecap="round"/>
<path d="M610.4 188.0 L498.4 32.0" fill="none" stroke="#e22f55" stroke-width="4.0" stroke-dasharray="6 9.4" stroke-dashoffset="-2.2" stroke-linecap="round"/>
<path d="M610.4 188.0 L498.4 32.0" fill="none" stroke="#eda62d" stroke-width="4.0" stroke-dasharray="6 9.4" stroke-dashoffset="2.2" stroke-linecap="round"/>
<path d="M610.4 188.0 L498.4 32.0" fill="none" stroke="#c9f23e" stroke-width="4.0" stroke-dasharray="6 9.4" stroke-dashoffset="1.0" stroke-linecap="round"/>
<path d="M610.4 188.0 L498.4 32.0" fill="none" stroke="#86d63c" stroke-width="4.2" stroke-dasharray="6 9.4" stroke-dashoffset="0" stroke-linecap="round"/>
<path d="M583.1 150.0 L610.4 188.0" fill="none" stroke="#4a9fcd" stroke-width="4.0" stroke-dasharray="4 11.4" stroke-dashoffset="-8" stroke-linecap="round"/>
<path d="M389.0 174.0 L592.0 174.0" fill="none" stroke="#5b1fa4" stroke-width="3.7" stroke-dasharray="5 11.4" stroke-dashoffset="0" stroke-linecap="round"/>
<path d="M601.8 176.0 L613.3 192.0" fill="none" stroke="#5b1fa4" stroke-width="4.0" stroke-dasharray="4.6 7.4" stroke-dashoffset="0" stroke-linecap="round"/>
<text x="437.8" y="171.5" font-size="11.2" fill="#111" text-anchor="start" >50 kbar</text>
<text x="414.4" y="187.4" font-size="11.2" fill="#111" text-anchor="start" >40 kbar</text>
<text x="380.5" y="202.6" font-size="11.2" fill="#111" text-anchor="start" >30 kbar</text>
<text x="418.4" y="213.0" font-size="11.2" fill="#111" text-anchor="start" >25 kbar</text>
<text x="461.8" y="226.0" font-size="11.2" fill="#111" text-anchor="start" >20 kbar</text>
<text x="529.0" y="214.3" font-size="11.2" fill="#111" text-anchor="start" >10 kbar</text>
<text x="495.3" y="20.0" font-size="17" fill="#111" text-anchor="middle" >Ol</text>
<text x="303.5" y="290.8" font-size="17" fill="#111" text-anchor="start" >Cpx</text>
<text x="658.2" y="290.8" font-size="17" fill="#111" text-anchor="start" >Opx</text>
<text x="306.6" y="269.2" font-size="12.5" fill="#111" text-anchor="start" >50</text>
<text x="671.8" y="269.2" font-size="12.5" fill="#111" text-anchor="start" >50</text>
<text x="444.5" y="256.6" font-size="17" fill="#6c6c6c" text-anchor="start" >Above Solidus</text>
<rect x="608.3" y="25.2" width="72.2" height="123.8" fill="#fff" stroke="#444" stroke-width="0.7"/>
<defs><linearGradient id="lgb" x1="0" x2="0" y1="1" y2="0"><stop offset="0.000" stop-color="#aea4cf"/><stop offset="0.050" stop-color="#9a9dc9"/><stop offset="0.100" stop-color="#879cc3"/><stop offset="0.150" stop-color="#769cbc"/><stop offset="0.200" stop-color="#6fa0b5"/><stop offset="0.250" stop-color="#67a4ad"/><stop offset="0.300" stop-color="#67afa6"/><stop offset="0.350" stop-color="#6fbd9f"/><stop offset="0.400" stop-color="#7ccc9c"/><stop offset="0.450" stop-color="#92da9b"/><stop offset="0.500" stop-color="#ade699"/><stop offset="0.550" stop-color="#cdf096"/><stop offset="0.600" stop-color="#f0f28c"/><stop offset="0.650" stop-color="#eddb73"/><stop offset="0.700" stop-color="#edc664"/><stop offset="0.750" stop-color="#efb05a"/><stop offset="0.800" stop-color="#f09852"/><stop offset="0.850" stop-color="#f08955"/><stop offset="0.900" stop-color="#f07a58"/><stop offset="0.950" stop-color="#ee705e"/><stop offset="1.000" stop-color="#ed6664"/></linearGradient></defs>
<rect x="630.3" y="44.4" width="13.5" height="99.9" fill="url(#lgb)" stroke="#555" stroke-width="0.5"/>
<path d="M643.8 49.6H646.8" stroke="#222" stroke-width="0.7"/>
<text x="649.7" y="53.3" font-size="10.4" fill="#111" text-anchor="start" >14</text>
<path d="M643.8 62.9H646.8" stroke="#222" stroke-width="0.7"/>
<text x="649.7" y="66.6" font-size="10.4" fill="#111" text-anchor="start" >12</text>
<path d="M643.8 76.1H646.8" stroke="#222" stroke-width="0.7"/>
<text x="649.7" y="79.8" font-size="10.4" fill="#111" text-anchor="start" >10</text>
<path d="M643.8 89.4H646.8" stroke="#222" stroke-width="0.7"/>
<text x="649.7" y="93.1" font-size="10.4" fill="#111" text-anchor="start" >8</text>
<path d="M643.8 102.6H646.8" stroke="#222" stroke-width="0.7"/>
<text x="649.7" y="106.3" font-size="10.4" fill="#111" text-anchor="start" >6</text>
<path d="M643.8 115.9H646.8" stroke="#222" stroke-width="0.7"/>
<text x="649.7" y="119.6" font-size="10.4" fill="#111" text-anchor="start" >4</text>
<path d="M643.8 129.1H646.8" stroke="#222" stroke-width="0.7"/>
<text x="649.7" y="132.8" font-size="10.4" fill="#111" text-anchor="start" >2</text>
<path d="M643.8 142.4H646.8" stroke="#222" stroke-width="0.7"/>
<text x="649.7" y="146.1" font-size="10.4" fill="#111" text-anchor="start" >0</text>
<text x="613.0" y="37.8" font-size="12.5" fill="#111" text-anchor="start" >Grt (mol.%)</text>
</g>
<g>
<path d="M496.0 304.6 L321.5 546.8 L670.5 546.8 Z" fill="none" stroke="#222" stroke-width="0.7"/>
<rect x="291" y="318" width="189.4" height="136.6" fill="#fff"/>
<circle cx="455.8" cy="482.8" r="4.6" fill="#b6b3da" stroke="#2a2a2a" stroke-width="0.6"/>
<circle cx="474.5" cy="484.2" r="4.6" fill="#b6b3da" stroke="#2a2a2a" stroke-width="0.6"/>
<circle cx="443.9" cy="506.7" r="4.6" fill="#b6b3da" stroke="#2a2a2a" stroke-width="0.6"/>
<circle cx="479.8" cy="503.2" r="4.6" fill="#b6b3da" stroke="#2a2a2a" stroke-width="0.6"/>
<circle cx="422.0" cy="512.0" r="4.6" fill="#b6b3da" stroke="#2a2a2a" stroke-width="0.6"/>
<circle cx="412.0" cy="514.0" r="4.6" fill="#b6b3da" stroke="#2a2a2a" stroke-width="0.6"/>
<circle cx="404.5" cy="525.1" r="4.6" fill="#b6b3da" stroke="#2a2a2a" stroke-width="0.6"/>
<circle cx="390.7" cy="527.4" r="4.6" fill="#b6b3da" stroke="#2a2a2a" stroke-width="0.6"/>
<circle cx="384.9" cy="528.6" r="4.6" fill="#b6b3da" stroke="#2a2a2a" stroke-width="0.6"/>
<circle cx="435.4" cy="522.2" r="4.6" fill="#b6b3da" stroke="#2a2a2a" stroke-width="0.6"/>
<circle cx="438.9" cy="533.9" r="4.6" fill="#b6b3da" stroke="#2a2a2a" stroke-width="0.6"/>
<circle cx="366.5" cy="536.8" r="4.6" fill="#b6b3da" stroke="#2a2a2a" stroke-width="0.6"/>
<circle cx="359.5" cy="538.2" r="4.6" fill="#b6b3da" stroke="#2a2a2a" stroke-width="0.6"/>
<circle cx="377.6" cy="546.1" r="4.6" fill="#b6b3da" stroke="#2a2a2a" stroke-width="0.6"/>
<circle cx="401.5" cy="547.0" r="4.6" fill="#b6b3da" stroke="#2a2a2a" stroke-width="0.6"/>
<circle cx="479.2" cy="547.0" r="4.6" fill="#b6b3da" stroke="#2a2a2a" stroke-width="0.6"/>
<circle cx="347.0" cy="547.0" r="4.6" fill="#b6b3da" stroke="#2a2a2a" stroke-width="0.6"/>
<circle cx="342.0" cy="546.1" r="4.6" fill="#b6b3da" stroke="#2a2a2a" stroke-width="0.6"/>
<circle cx="333.8" cy="547.0" r="4.6" fill="#b6b3da" stroke="#2a2a2a" stroke-width="0.6"/>
<circle cx="328.0" cy="546.1" r="4.6" fill="#b6b3da" stroke="#2a2a2a" stroke-width="0.6"/>
<circle cx="338.0" cy="546.5" r="4.6" fill="#b6b3da" stroke="#2a2a2a" stroke-width="0.6"/>
<circle cx="533.2" cy="440.4" r="4.6" fill="#b6b3da" stroke="#2a2a2a" stroke-width="0.6"/>
<circle cx="519.5" cy="467.3" r="4.6" fill="#b6b3da" stroke="#2a2a2a" stroke-width="0.6"/>
<circle cx="569.1" cy="471.7" r="4.6" fill="#b6b3da" stroke="#2a2a2a" stroke-width="0.6"/>
<circle cx="501.9" cy="488.0" r="4.6" fill="#b6b3da" stroke="#2a2a2a" stroke-width="0.6"/>
<circle cx="548.4" cy="491.5" r="4.6" fill="#b6b3da" stroke="#2a2a2a" stroke-width="0.6"/>
<circle cx="522.4" cy="507.0" r="4.6" fill="#b6b3da" stroke="#2a2a2a" stroke-width="0.6"/>
<circle cx="603.2" cy="515.5" r="4.6" fill="#b6b3da" stroke="#2a2a2a" stroke-width="0.6"/>
<circle cx="492.3" cy="519.3" r="4.6" fill="#b6b3da" stroke="#2a2a2a" stroke-width="0.6"/>
<circle cx="569.1" cy="529.5" r="4.6" fill="#b6b3da" stroke="#2a2a2a" stroke-width="0.6"/>
<circle cx="527.9" cy="539.7" r="4.6" fill="#b6b3da" stroke="#2a2a2a" stroke-width="0.6"/>
<circle cx="496.1" cy="547.0" r="4.6" fill="#b6b3da" stroke="#2a2a2a" stroke-width="0.6"/>
<circle cx="544.3" cy="547.0" r="4.6" fill="#b6b3da" stroke="#2a2a2a" stroke-width="0.6"/>
<circle cx="580.8" cy="547.0" r="4.6" fill="#b6b3da" stroke="#2a2a2a" stroke-width="0.6"/>
<circle cx="663.0" cy="547.0" r="4.6" fill="#b6b3da" stroke="#2a2a2a" stroke-width="0.6"/>
<circle cx="488.0" cy="463.8" r="4.6" fill="#b6b3da" stroke="#2a2a2a" stroke-width="0.6"/>
<circle cx="495.6" cy="305.0" r="4.6" fill="#b6b3da" stroke="#2a2a2a" stroke-width="0.6"/>
<circle cx="504.0" cy="316.3" r="4.6" fill="#b6b3da" stroke="#2a2a2a" stroke-width="0.6"/>
<circle cx="515.3" cy="331.9" r="4.6" fill="#b6b3da" stroke="#2a2a2a" stroke-width="0.6"/>
<circle cx="520.4" cy="337.9" r="4.6" fill="#b6b3da" stroke="#2a2a2a" stroke-width="0.6"/>
<circle cx="524.9" cy="345.4" r="4.6" fill="#b6b3da" stroke="#2a2a2a" stroke-width="0.6"/>
<circle cx="531.8" cy="354.3" r="4.6" fill="#b6b3da" stroke="#2a2a2a" stroke-width="0.6"/>
<circle cx="541.3" cy="369.3" r="4.6" fill="#b6b3da" stroke="#2a2a2a" stroke-width="0.6"/>
<circle cx="545.2" cy="373.8" r="4.6" fill="#b6b3da" stroke="#2a2a2a" stroke-width="0.6"/>
<circle cx="550.3" cy="379.8" r="4.6" fill="#b6b3da" stroke="#2a2a2a" stroke-width="0.6"/>
<circle cx="557.2" cy="391.2" r="4.6" fill="#b6b3da" stroke="#2a2a2a" stroke-width="0.6"/>
<circle cx="560.8" cy="394.7" r="4.6" fill="#b6b3da" stroke="#2a2a2a" stroke-width="0.6"/>
<circle cx="574.3" cy="412.7" r="4.6" fill="#b6b3da" stroke="#2a2a2a" stroke-width="0.6"/>
<circle cx="575.2" cy="415.7" r="4.6" fill="#b6b3da" stroke="#2a2a2a" stroke-width="0.6"/>
<circle cx="581.4" cy="425.8" r="4.6" fill="#b6b3da" stroke="#2a2a2a" stroke-width="0.6"/>
<circle cx="585.7" cy="431.7" r="4.6" fill="#b6b3da" stroke="#2a2a2a" stroke-width="0.6"/>
<circle cx="588.6" cy="434.6" r="4.6" fill="#b6b3da" stroke="#2a2a2a" stroke-width="0.6"/>
<circle cx="585.7" cy="443.4" r="4.6" fill="#b6b3da" stroke="#2a2a2a" stroke-width="0.6"/>
<circle cx="596.0" cy="444.8" r="4.6" fill="#b6b3da" stroke="#2a2a2a" stroke-width="0.6"/>
<circle cx="600.3" cy="449.2" r="4.6" fill="#b6b3da" stroke="#2a2a2a" stroke-width="0.6"/>
<circle cx="604.7" cy="455.0" r="4.6" fill="#b6b3da" stroke="#2a2a2a" stroke-width="0.6"/>
<circle cx="610.5" cy="463.8" r="4.6" fill="#b6b3da" stroke="#2a2a2a" stroke-width="0.6"/>
<circle cx="614.9" cy="471.1" r="4.6" fill="#b6b3da" stroke="#2a2a2a" stroke-width="0.6"/>
<circle cx="617.8" cy="474.0" r="4.6" fill="#b6b3da" stroke="#2a2a2a" stroke-width="0.6"/>
<circle cx="622.2" cy="479.9" r="4.6" fill="#b6b3da" stroke="#2a2a2a" stroke-width="0.6"/>
<circle cx="625.1" cy="485.7" r="4.6" fill="#b6b3da" stroke="#2a2a2a" stroke-width="0.6"/>
<circle cx="629.5" cy="491.5" r="4.6" fill="#b6b3da" stroke="#2a2a2a" stroke-width="0.6"/>
<circle cx="632.4" cy="497.4" r="4.6" fill="#b6b3da" stroke="#2a2a2a" stroke-width="0.6"/>
<circle cx="635.4" cy="498.8" r="4.6" fill="#b6b3da" stroke="#2a2a2a" stroke-width="0.6"/>
<circle cx="639.7" cy="506.1" r="4.6" fill="#b6b3da" stroke="#2a2a2a" stroke-width="0.6"/>
<circle cx="644.1" cy="512.0" r="4.6" fill="#b6b3da" stroke="#2a2a2a" stroke-width="0.6"/>
<circle cx="657.3" cy="529.5" r="4.6" fill="#b6b3da" stroke="#2a2a2a" stroke-width="0.6"/>
<circle cx="658.7" cy="532.4" r="4.6" fill="#b6b3da" stroke="#2a2a2a" stroke-width="0.6"/>
<circle cx="660.2" cy="535.3" r="4.6" fill="#b6b3da" stroke="#2a2a2a" stroke-width="0.6"/>
<circle cx="661.6" cy="538.2" r="4.6" fill="#b6b3da" stroke="#2a2a2a" stroke-width="0.6"/>
<circle cx="663.7" cy="541.2" r="4.6" fill="#b6b3da" stroke="#2a2a2a" stroke-width="0.6"/>
<circle cx="666.0" cy="544.1" r="4.6" fill="#b6b3da" stroke="#2a2a2a" stroke-width="0.6"/>
<circle cx="590.7" cy="547.0" r="4.6" fill="#6fa0b5" stroke="#2a2a2a" stroke-width="0.6"/>
<circle cx="342.6" cy="549.0" r="4.6" fill="#7c9bbf" stroke="#2a2a2a" stroke-width="0.6"/>
<circle cx="669.5" cy="547.0" r="4.6" fill="#f07a58" stroke="#2a2a2a" stroke-width="0.6"/>
<circle cx="322.2" cy="544.2" r="4.8" fill="#e7f3a6" stroke="#2a2a2a" stroke-width="0.5"/>
<circle cx="324.4" cy="541.3" r="4.8" fill="#e7f3a6" stroke="#2a2a2a" stroke-width="0.5"/>
<circle cx="326.5" cy="538.5" r="4.8" fill="#e7f3a6" stroke="#2a2a2a" stroke-width="0.5"/>
<circle cx="328.7" cy="535.6" r="4.8" fill="#e7f3a6" stroke="#2a2a2a" stroke-width="0.5"/>
<circle cx="330.9" cy="532.7" r="4.8" fill="#e7f3a6" stroke="#2a2a2a" stroke-width="0.5"/>
<circle cx="333.1" cy="529.8" r="4.8" fill="#e7f3a6" stroke="#2a2a2a" stroke-width="0.5"/>
<circle cx="335.2" cy="527.0" r="4.8" fill="#e7f3a6" stroke="#2a2a2a" stroke-width="0.5"/>
<circle cx="337.4" cy="524.1" r="4.8" fill="#e7f3a6" stroke="#2a2a2a" stroke-width="0.5"/>
<circle cx="339.6" cy="521.2" r="4.8" fill="#e7f3a6" stroke="#2a2a2a" stroke-width="0.5"/>
<circle cx="341.7" cy="518.4" r="4.8" fill="#e7f3a6" stroke="#2a2a2a" stroke-width="0.5"/>
<circle cx="343.9" cy="515.5" r="4.8" fill="#e7f3a6" stroke="#2a2a2a" stroke-width="0.5"/>
<circle cx="346.1" cy="512.6" r="4.8" fill="#e7f3a6" stroke="#2a2a2a" stroke-width="0.5"/>
<circle cx="348.3" cy="509.7" r="4.8" fill="#e7f3a6" stroke="#2a2a2a" stroke-width="0.5"/>
<circle cx="350.4" cy="506.9" r="4.8" fill="#e7f3a6" stroke="#2a2a2a" stroke-width="0.5"/>
<circle cx="320.2" cy="546.6" r="4.7" fill="#f0a255" stroke="#2a2a2a" stroke-width="0.6"/>
<path d="M350.0 546.6 L367.4 539.0 L382.0 531.0 L412.6 513.4 L441.8 493.0 L471.0 474.0 L490.0 463.8 L502.5 455.0 L561.0 421.5 L573.0 411.5" fill="none" stroke="#e22f55" stroke-width="3.7" stroke-dasharray="5 11.4" stroke-dashoffset="0" stroke-linecap="round"/>
<path d="M325.0 544.5 L377.6 536.8 L418.5 529.5 L465.2 523.6 L490.0 520.7 L560.0 517.0 L645.6 514.0" fill="none" stroke="#eda62d" stroke-width="3.7" stroke-dasharray="5 11.4" stroke-dashoffset="0" stroke-linecap="round"/>
<path d="M496.1 304.8 L646.1 513.0" fill="none" stroke="#eda62d" stroke-width="3.7" stroke-dasharray="5 12.4" stroke-dashoffset="2.0" stroke-linecap="round"/>
<path d="M322.0 546.8 L669.0 546.8" fill="none" stroke="#c9f23e" stroke-width="3.4" stroke-dasharray="7.6 8.8" stroke-dashoffset="0.6" stroke-linecap="round"/>
<path d="M322.0 546.8 L669.0 546.8" fill="none" stroke="#86d63c" stroke-width="3.6" stroke-dasharray="5.6 10.8" stroke-dashoffset="-0.4" stroke-linecap="round"/>
<circle cx="533.2" cy="440.4" r="1.9" fill="#e22f55"/>
<path d="M350.4 507.4L352.4 504.8" stroke="#5b1fa4" stroke-width="4" stroke-linecap="round"/>
<path d="M345.7 514.4L347.7 511.8" stroke="#4a9fcd" stroke-width="4" stroke-linecap="round"/>
<path d="M340.5 519.9L343.7 515.7" stroke="#5b1fa4" stroke-width="4" stroke-linecap="round"/>
<path d="M337.3 524.0L338.7 522.0" stroke="#4a9fcd" stroke-width="4" stroke-linecap="round"/>
<path d="M333.3 529.3L335.7 526.1" stroke="#86d63c" stroke-width="4" stroke-linecap="round"/>
<path d="M329.9 533.8L332.1 531.0" stroke="#5b1fa4" stroke-width="4" stroke-linecap="round"/>
<path d="M327.9 536.9L329.3 534.9" stroke="#4a9fcd" stroke-width="4" stroke-linecap="round"/>
<path d="M323.9 542.2L326.3 539.0" stroke="#86d63c" stroke-width="4" stroke-linecap="round"/>
<path d="M322.1 545.2L323.5 543.2" stroke="#86d63c" stroke-width="4" stroke-linecap="round"/>
<path d="M320.2 546.6L320.6 546.2" stroke="#5b1fa4" stroke-width="4" stroke-linecap="round"/>
<text x="303.7" y="509.6" font-size="11.2" fill="#111" text-anchor="start" >50 kbar</text>
<text x="293.5" y="525.1" font-size="11.2" fill="#111" text-anchor="start" >40 kbar</text>
<text x="396.6" y="496.5" font-size="11.2" fill="#111" text-anchor="start" >10 kbar</text>
<text x="554.5" y="514.0" font-size="11.2" fill="#111" text-anchor="start" >15 kbar</text>
<text x="598.3" y="541.8" font-size="11.2" fill="#111" text-anchor="start" >20 kbar</text>
<text x="603.2" y="559.6" font-size="11.2" fill="#111" text-anchor="start" >30 kbar</text>
<text x="496.0" y="296.0" font-size="17" fill="#111" text-anchor="middle" >Ol</text>
<text x="304.0" y="568.4" font-size="17" fill="#111" text-anchor="start" >Cpx</text>
<text x="658.7" y="568.4" font-size="17" fill="#111" text-anchor="start" >Opx</text>
<text x="393.6" y="573.8" font-size="14" fill="#111" text-anchor="start" >Mineral Proportions in the Residue</text>
<rect x="608.1" y="308.6" width="70.9" height="122.7" fill="#fff" stroke="#444" stroke-width="0.7"/>
<defs><linearGradient id="lgd" x1="0" x2="0" y1="1" y2="0"><stop offset="0.000" stop-color="#aea4cf"/><stop offset="0.050" stop-color="#9a9dc9"/><stop offset="0.100" stop-color="#879cc3"/><stop offset="0.150" stop-color="#769cbc"/><stop offset="0.200" stop-color="#6fa0b5"/><stop offset="0.250" stop-color="#67a4ad"/><stop offset="0.300" stop-color="#67afa6"/><stop offset="0.350" stop-color="#6fbd9f"/><stop offset="0.400" stop-color="#7ccc9c"/><stop offset="0.450" stop-color="#92da9b"/><stop offset="0.500" stop-color="#ade699"/><stop offset="0.550" stop-color="#cdf096"/><stop offset="0.600" stop-color="#f0f28c"/><stop offset="0.650" stop-color="#eddb73"/><stop offset="0.700" stop-color="#edc664"/><stop offset="0.750" stop-color="#efb05a"/><stop offset="0.800" stop-color="#f09852"/><stop offset="0.850" stop-color="#f08955"/><stop offset="0.900" stop-color="#f07a58"/><stop offset="0.950" stop-color="#ee705e"/><stop offset="1.000" stop-color="#ed6664"/></linearGradient></defs>
<rect x="630.2" y="327.4" width="13.8" height="99.7" fill="url(#lgd)" stroke="#555" stroke-width="0.5"/>
<path d="M644.0 328.3H647.0" stroke="#222" stroke-width="0.7"/>
<text x="647.6" y="332.0" font-size="10.4" fill="#111" text-anchor="start" >100</text>
<path d="M644.0 347.8H647.0" stroke="#222" stroke-width="0.7"/>
<text x="647.6" y="351.5" font-size="10.4" fill="#111" text-anchor="start" >80</text>
<path d="M644.0 367.8H647.0" stroke="#222" stroke-width="0.7"/>
<text x="647.6" y="371.5" font-size="10.4" fill="#111" text-anchor="start" >60</text>
<path d="M644.0 387.3H647.0" stroke="#222" stroke-width="0.7"/>
<text x="647.6" y="391.0" font-size="10.4" fill="#111" text-anchor="start" >40</text>
<path d="M644.0 407.3H647.0" stroke="#222" stroke-width="0.7"/>
<text x="647.6" y="411.0" font-size="10.4" fill="#111" text-anchor="start" >20</text>
<path d="M644.0 425.6H647.0" stroke="#222" stroke-width="0.7"/>
<text x="647.6" y="429.3" font-size="10.4" fill="#111" text-anchor="start" >0</text>
<text x="612.6" y="321.4" font-size="12.5" fill="#111" text-anchor="start" >Grt (mol.%)</text>
</g>
<g>
<clipPath id="cib"><rect x="311.0" y="42.3" width="163.7" height="100.2"/></clipPath>
<g clip-path="url(#cib)">
<defs><linearGradient id="hb0" gradientUnits="userSpaceOnUse" x1="311.0" x2="474.7" y1="0" y2="0"><stop offset="-0.3665" stop-color="#aea4cf"/><stop offset="0.8074" stop-color="#aea4cf"/><stop offset="0.8287" stop-color="#91a1c4"/><stop offset="0.8501" stop-color="#7ca6b6"/><stop offset="0.8711" stop-color="#7db0af"/><stop offset="0.8921" stop-color="#7ebaa8"/><stop offset="0.9207" stop-color="#8ec8a6"/><stop offset="0.9492" stop-color="#9ed6a4"/><stop offset="0.9769" stop-color="#c0e69f"/><stop offset="1.0046" stop-color="#e2f196"/><stop offset="1.0349" stop-color="#f2e887"/><stop offset="1.0651" stop-color="#f1c470"/><stop offset="1.0913" stop-color="#f1a662"/><stop offset="1.1174" stop-color="#f0865a"/><stop offset="1.1521" stop-color="#ef755c"/><stop offset="1.1869" stop-color="#ee6a60"/><stop offset="1.2174" stop-color="#ed6464"/><stop offset="1.2480" stop-color="#ed6464"/></linearGradient><linearGradient id="hb1" gradientUnits="userSpaceOnUse" x1="311.0" x2="474.7" y1="0" y2="0"><stop offset="-0.3665" stop-color="#aea4cf"/><stop offset="0.7958" stop-color="#aea4cf"/><stop offset="0.8186" stop-color="#91a1c4"/><stop offset="0.8414" stop-color="#7ca6b6"/><stop offset="0.8638" stop-color="#7db0af"/><stop offset="0.8861" stop-color="#7ebaa8"/><stop offset="0.9157" stop-color="#8ec8a6"/><stop offset="0.9452" stop-color="#9ed6a4"/><stop offset="0.9725" stop-color="#c0e69f"/><stop offset="0.9997" stop-color="#e2f196"/><stop offset="1.0296" stop-color="#f2e887"/><stop offset="1.0595" stop-color="#f1c470"/><stop offset="1.0838" stop-color="#f1a662"/><stop offset="1.1082" stop-color="#f0865a"/><stop offset="1.1445" stop-color="#ef755c"/><stop offset="1.1808" stop-color="#ee6a60"/><stop offset="1.2113" stop-color="#ed6464"/><stop offset="1.2419" stop-color="#ed6464"/></linearGradient><linearGradient id="hb2" gradientUnits="userSpaceOnUse" x1="311.0" x2="474.7" y1="0" y2="0"><stop offset="-0.3665" stop-color="#aea4cf"/><stop offset="0.7840" stop-color="#aea4cf"/><stop offset="0.8082" stop-color="#91a1c4"/><stop offset="0.8323" stop-color="#7ca6b6"/><stop offset="0.8560" stop-color="#7db0af"/><stop offset="0.8796" stop-color="#7ebaa8"/><stop offset="0.9103" stop-color="#8ec8a6"/><stop offset="0.9409" stop-color="#9ed6a4"/><stop offset="0.9678" stop-color="#c0e69f"/><stop offset="0.9947" stop-color="#e2f196"/><stop offset="1.0243" stop-color="#f2e887"/><stop offset="1.0539" stop-color="#f1c470"/><stop offset="1.0765" stop-color="#f1a662"/><stop offset="1.0992" stop-color="#f0865a"/><stop offset="1.1370" stop-color="#ef755c"/><stop offset="1.1747" stop-color="#ee6a60"/><stop offset="1.2053" stop-color="#ed6464"/><stop offset="1.2358" stop-color="#ed6464"/></linearGradient><linearGradient id="hb3" gradientUnits="userSpaceOnUse" x1="311.0" x2="474.7" y1="0" y2="0"><stop offset="-0.3665" stop-color="#aea4cf"/><stop offset="0.7722" stop-color="#aea4cf"/><stop offset="0.7974" stop-color="#91a1c4"/><stop offset="0.8227" stop-color="#7ca6b6"/><stop offset="0.8477" stop-color="#7db0af"/><stop offset="0.8726" stop-color="#7ebaa8"/><stop offset="0.9044" stop-color="#8ec8a6"/><stop offset="0.9362" stop-color="#9ed6a4"/><stop offset="0.9629" stop-color="#c0e69f"/><stop offset="0.9896" stop-color="#e2f196"/><stop offset="1.0189" stop-color="#f2e887"/><stop offset="1.0481" stop-color="#f1c470"/><stop offset="1.0693" stop-color="#f1a662"/><stop offset="1.0905" stop-color="#f0865a"/><stop offset="1.1296" stop-color="#ef755c"/><stop offset="1.1688" stop-color="#ee6a60"/><stop offset="1.1993" stop-color="#ed6464"/><stop offset="1.2298" stop-color="#ed6464"/></linearGradient><linearGradient id="hb4" gradientUnits="userSpaceOnUse" x1="311.0" x2="474.7" y1="0" y2="0"><stop offset="-0.3665" stop-color="#aea4cf"/><stop offset="0.7602" stop-color="#aea4cf"/><stop offset="0.7864" stop-color="#91a1c4"/><stop offset="0.8126" stop-color="#7ca6b6"/><stop offset="0.8390" stop-color="#7db0af"/><stop offset="0.8653" stop-color="#7ebaa8"/><stop offset="0.8981" stop-color="#8ec8a6"/><stop offset="0.9309" stop-color="#9ed6a4"/><stop offset="0.9578" stop-color="#c0e69f"/><stop offset="0.9846" stop-color="#e2f196"/><stop offset="1.0134" stop-color="#f2e887"/><stop offset="1.0423" stop-color="#f1c470"/><stop offset="1.0622" stop-color="#f1a662"/><stop offset="1.0821" stop-color="#f0865a"/><stop offset="1.1225" stop-color="#ef755c"/><stop offset="1.1628" stop-color="#ee6a60"/><stop offset="1.1934" stop-color="#ed6464"/><stop offset="1.2239" stop-color="#ed6464"/></linearGradient><linearGradient id="hb5" gradientUnits="userSpaceOnUse" x1="311.0" x2="474.7" y1="0" y2="0"><stop offset="-0.3665" stop-color="#aea4cf"/><stop offset="0.7480" stop-color="#aea4cf"/><stop offset="0.7751" stop-color="#91a1c4"/><stop offset="0.8021" stop-color="#7ca6b6"/><stop offset="0.8299" stop-color="#7db0af"/><stop offset="0.8576" stop-color="#7ebaa8"/><stop offset="0.8914" stop-color="#8ec8a6"/><stop offset="0.9252" stop-color="#9ed6a4"/><stop offset="0.9524" stop-color="#c0e69f"/><stop offset="0.9795" stop-color="#e2f196"/><stop offset="1.0079" stop-color="#f2e887"/><stop offset="1.0364" stop-color="#f1c470"/><stop offset="1.0551" stop-color="#f1a662"/><stop offset="1.0739" stop-color="#f0865a"/><stop offset="1.1154" stop-color="#ef755c"/><stop offset="1.1570" stop-color="#ee6a60"/><stop offset="1.1875" stop-color="#ed6464"/><stop offset="1.2181" stop-color="#ed6464"/></linearGradient><linearGradient id="hb6" gradientUnits="userSpaceOnUse" x1="311.0" x2="474.7" y1="0" y2="0"><stop offset="-0.3665" stop-color="#aea4cf"/><stop offset="0.7358" stop-color="#aea4cf"/><stop offset="0.7634" stop-color="#91a1c4"/><stop offset="0.7910" stop-color="#7ca6b6"/><stop offset="0.8204" stop-color="#7db0af"/><stop offset="0.8497" stop-color="#7ebaa8"/><stop offset="0.8844" stop-color="#8ec8a6"/><stop offset="0.9191" stop-color="#9ed6a4"/><stop offset="0.9468" stop-color="#c0e69f"/><stop offset="0.9744" stop-color="#e2f196"/><stop offset="1.0024" stop-color="#f2e887"/><stop offset="1.0304" stop-color="#f1c470"/><stop offset="1.0482" stop-color="#f1a662"/><stop offset="1.0660" stop-color="#f0865a"/><stop offset="1.1086" stop-color="#ef755c"/><stop offset="1.1512" stop-color="#ee6a60"/><stop offset="1.1817" stop-color="#ed6464"/><stop offset="1.2123" stop-color="#ed6464"/></linearGradient><linearGradient id="hb7" gradientUnits="userSpaceOnUse" x1="311.0" x2="474.7" y1="0" y2="0"><stop offset="-0.3665" stop-color="#aea4cf"/><stop offset="0.7234" stop-color="#aea4cf"/><stop offset="0.7514" stop-color="#91a1c4"/><stop offset="0.7793" stop-color="#7ca6b6"/><stop offset="0.8104" stop-color="#7db0af"/><stop offset="0.8414" stop-color="#7ebaa8"/><stop offset="0.8770" stop-color="#8ec8a6"/><stop offset="0.9126" stop-color="#9ed6a4"/><stop offset="0.9410" stop-color="#c0e69f"/><stop offset="0.9693" stop-color="#e2f196"/><stop offset="0.9968" stop-color="#f2e887"/><stop offset="1.0244" stop-color="#f1c470"/><stop offset="1.0414" stop-color="#f1a662"/><stop offset="1.0585" stop-color="#f0865a"/><stop offset="1.1020" stop-color="#ef755c"/><stop offset="1.1455" stop-color="#ee6a60"/><stop offset="1.1760" stop-color="#ed6464"/><stop offset="1.2065" stop-color="#ed6464"/></linearGradient><linearGradient id="hb8" gradientUnits="userSpaceOnUse" x1="311.0" x2="474.7" y1="0" y2="0"><stop offset="-0.3665" stop-color="#aea4cf"/><stop offset="0.7110" stop-color="#aea4cf"/><stop offset="0.7390" stop-color="#91a1c4"/><stop offset="0.7669" stop-color="#7ca6b6"/><stop offset="0.7999" stop-color="#7db0af"/><stop offset="0.8329" stop-color="#7ebaa8"/><stop offset="0.8694" stop-color="#8ec8a6"/><stop offset="0.9058" stop-color="#9ed6a4"/><stop offset="0.9349" stop-color="#c0e69f"/><stop offset="0.9640" stop-color="#e2f196"/><stop offset="0.9912" stop-color="#f2e887"/><stop offset="1.0183" stop-color="#f1c470"/><stop offset="1.0348" stop-color="#f1a662"/><stop offset="1.0512" stop-color="#f0865a"/><stop offset="1.0955" stop-color="#ef755c"/><stop offset="1.1398" stop-color="#ee6a60"/><stop offset="1.1703" stop-color="#ed6464"/><stop offset="1.2009" stop-color="#ed6464"/></linearGradient><linearGradient id="hb9" gradientUnits="userSpaceOnUse" x1="311.0" x2="474.7" y1="0" y2="0"><stop offset="-0.3665" stop-color="#aea4cf"/><stop offset="0.6987" stop-color="#aea4cf"/><stop offset="0.7264" stop-color="#91a1c4"/><stop offset="0.7541" stop-color="#7ca6b6"/><stop offset="0.7891" stop-color="#7db0af"/><stop offset="0.8241" stop-color="#7ebaa8"/><stop offset="0.8615" stop-color="#8ec8a6"/><stop offset="0.8988" stop-color="#9ed6a4"/><stop offset="0.9287" stop-color="#c0e69f"/><stop offset="0.9586" stop-color="#e2f196"/><stop offset="0.9854" stop-color="#f2e887"/><stop offset="1.0122" stop-color="#f1c470"/><stop offset="1.0282" stop-color="#f1a662"/><stop offset="1.0443" stop-color="#f0865a"/><stop offset="1.0892" stop-color="#ef755c"/><stop offset="1.1342" stop-color="#ee6a60"/><stop offset="1.1647" stop-color="#ed6464"/><stop offset="1.1952" stop-color="#ed6464"/></linearGradient><linearGradient id="hb10" gradientUnits="userSpaceOnUse" x1="311.0" x2="474.7" y1="0" y2="0"><stop offset="-0.3665" stop-color="#aea4cf"/><stop offset="0.6863" stop-color="#aea4cf"/><stop offset="0.7136" stop-color="#91a1c4"/><stop offset="0.7408" stop-color="#7ca6b6"/><stop offset="0.7779" stop-color="#7db0af"/><stop offset="0.8151" stop-color="#7ebaa8"/><stop offset="0.8534" stop-color="#8ec8a6"/><stop offset="0.8917" stop-color="#9ed6a4"/><stop offset="0.9223" stop-color="#c0e69f"/><stop offset="0.9529" stop-color="#e2f196"/><stop offset="0.9795" stop-color="#f2e887"/><stop offset="1.0060" stop-color="#f1c470"/><stop offset="1.0218" stop-color="#f1a662"/><stop offset="1.0376" stop-color="#f0865a"/><stop offset="1.0831" stop-color="#ef755c"/><stop offset="1.1286" stop-color="#ee6a60"/><stop offset="1.1591" stop-color="#ed6464"/><stop offset="1.1897" stop-color="#ed6464"/></linearGradient><linearGradient id="hb11" gradientUnits="userSpaceOnUse" x1="311.0" x2="474.7" y1="0" y2="0"><stop offset="-0.3665" stop-color="#aea4cf"/><stop offset="0.6739" stop-color="#aea4cf"/><stop offset="0.7006" stop-color="#91a1c4"/><stop offset="0.7273" stop-color="#7ca6b6"/><stop offset="0.7665" stop-color="#7db0af"/><stop offset="0.8058" stop-color="#7ebaa8"/><stop offset="0.8451" stop-color="#8ec8a6"/><stop offset="0.8844" stop-color="#9ed6a4"/><stop offset="0.9157" stop-color="#c0e69f"/><stop offset="0.9470" stop-color="#e2f196"/><stop offset="0.9734" stop-color="#f2e887"/><stop offset="0.9997" stop-color="#f1c470"/><stop offset="1.0156" stop-color="#f1a662"/><stop offset="1.0314" stop-color="#f0865a"/><stop offset="1.0772" stop-color="#ef755c"/><stop offset="1.1231" stop-color="#ee6a60"/><stop offset="1.1536" stop-color="#ed6464"/><stop offset="1.1842" stop-color="#ed6464"/></linearGradient><linearGradient id="hb12" gradientUnits="userSpaceOnUse" x1="311.0" x2="474.7" y1="0" y2="0"><stop offset="-0.3665" stop-color="#aea4cf"/><stop offset="0.6612" stop-color="#aea4cf"/><stop offset="0.6874" stop-color="#91a1c4"/><stop offset="0.7135" stop-color="#7ca6b6"/><stop offset="0.7549" stop-color="#7db0af"/><stop offset="0.7963" stop-color="#7ebaa8"/><stop offset="0.8367" stop-color="#8ec8a6"/><stop offset="0.8771" stop-color="#9ed6a4"/><stop offset="0.9090" stop-color="#c0e69f"/><stop offset="0.9408" stop-color="#e2f196"/><stop offset="0.9671" stop-color="#f2e887"/><stop offset="0.9935" stop-color="#f1c470"/><stop offset="1.0094" stop-color="#f1a662"/><stop offset="1.0254" stop-color="#f0865a"/><stop offset="1.0716" stop-color="#ef755c"/><stop offset="1.1177" stop-color="#ee6a60"/><stop offset="1.1483" stop-color="#ed6464"/><stop offset="1.1788" stop-color="#ed6464"/></linearGradient><linearGradient id="hb13" gradientUnits="userSpaceOnUse" x1="311.0" x2="474.7" y1="0" y2="0"><stop offset="-0.3665" stop-color="#aea4cf"/><stop offset="0.6483" stop-color="#aea4cf"/><stop offset="0.6740" stop-color="#91a1c4"/><stop offset="0.6998" stop-color="#7ca6b6"/><stop offset="0.7431" stop-color="#7db0af"/><stop offset="0.7864" stop-color="#7ebaa8"/><stop offset="0.8281" stop-color="#8ec8a6"/><stop offset="0.8698" stop-color="#9ed6a4"/><stop offset="0.9020" stop-color="#c0e69f"/><stop offset="0.9342" stop-color="#e2f196"/><stop offset="0.9607" stop-color="#f2e887"/><stop offset="0.9872" stop-color="#f1c470"/><stop offset="1.0035" stop-color="#f1a662"/><stop offset="1.0198" stop-color="#f0865a"/><stop offset="1.0661" stop-color="#ef755c"/><stop offset="1.1125" stop-color="#ee6a60"/><stop offset="1.1430" stop-color="#ed6464"/><stop offset="1.1735" stop-color="#ed6464"/></linearGradient><linearGradient id="hb14" gradientUnits="userSpaceOnUse" x1="311.0" x2="474.7" y1="0" y2="0"><stop offset="-0.3665" stop-color="#aea4cf"/><stop offset="0.6349" stop-color="#aea4cf"/><stop offset="0.6604" stop-color="#91a1c4"/><stop offset="0.6859" stop-color="#7ca6b6"/><stop offset="0.7310" stop-color="#7db0af"/><stop offset="0.7762" stop-color="#7ebaa8"/><stop offset="0.8192" stop-color="#8ec8a6"/><stop offset="0.8623" stop-color="#9ed6a4"/><stop offset="0.8947" stop-color="#c0e69f"/><stop offset="0.9272" stop-color="#e2f196"/><stop offset="0.9541" stop-color="#f2e887"/><stop offset="0.9810" stop-color="#f1c470"/><stop offset="0.9977" stop-color="#f1a662"/><stop offset="1.0144" stop-color="#f0865a"/><stop offset="1.0608" stop-color="#ef755c"/><stop offset="1.1073" stop-color="#ee6a60"/><stop offset="1.1378" stop-color="#ed6464"/><stop offset="1.1684" stop-color="#ed6464"/></linearGradient><linearGradient id="hb15" gradientUnits="userSpaceOnUse" x1="311.0" x2="474.7" y1="0" y2="0"><stop offset="-0.3665" stop-color="#aea4cf"/><stop offset="0.6210" stop-color="#aea4cf"/><stop offset="0.6464" stop-color="#91a1c4"/><stop offset="0.6718" stop-color="#7ca6b6"/><stop offset="0.7187" stop-color="#7db0af"/><stop offset="0.7655" stop-color="#7ebaa8"/><stop offset="0.8101" stop-color="#8ec8a6"/><stop offset="0.8547" stop-color="#9ed6a4"/><stop offset="0.8872" stop-color="#c0e69f"/><stop offset="0.9197" stop-color="#e2f196"/><stop offset="0.9471" stop-color="#f2e887"/><stop offset="0.9746" stop-color="#f1c470"/><stop offset="0.9919" stop-color="#f1a662"/><stop offset="1.0092" stop-color="#f0865a"/><stop offset="1.0557" stop-color="#ef755c"/><stop offset="1.1022" stop-color="#ee6a60"/><stop offset="1.1327" stop-color="#ed6464"/><stop offset="1.1633" stop-color="#ed6464"/></linearGradient><linearGradient id="hb16" gradientUnits="userSpaceOnUse" x1="311.0" x2="474.7" y1="0" y2="0"><stop offset="-0.3665" stop-color="#aea4cf"/><stop offset="0.6065" stop-color="#aea4cf"/><stop offset="0.6319" stop-color="#91a1c4"/><stop offset="0.6574" stop-color="#7ca6b6"/><stop offset="0.7060" stop-color="#7db0af"/><stop offset="0.7545" stop-color="#7ebaa8"/><stop offset="0.8007" stop-color="#8ec8a6"/><stop offset="0.8468" stop-color="#9ed6a4"/><stop offset="0.8793" stop-color="#c0e69f"/><stop offset="0.9117" stop-color="#e2f196"/><stop offset="0.9398" stop-color="#f2e887"/><stop offset="0.9679" stop-color="#f1c470"/><stop offset="0.9861" stop-color="#f1a662"/><stop offset="1.0042" stop-color="#f0865a"/><stop offset="1.0506" stop-color="#ef755c"/><stop offset="1.0971" stop-color="#ee6a60"/><stop offset="1.1276" stop-color="#ed6464"/><stop offset="1.1582" stop-color="#ed6464"/></linearGradient><linearGradient id="hb17" gradientUnits="userSpaceOnUse" x1="311.0" x2="474.7" y1="0" y2="0"><stop offset="-0.3665" stop-color="#aea4cf"/><stop offset="0.5914" stop-color="#aea4cf"/><stop offset="0.6171" stop-color="#91a1c4"/><stop offset="0.6428" stop-color="#7ca6b6"/><stop offset="0.6930" stop-color="#7db0af"/><stop offset="0.7431" stop-color="#7ebaa8"/><stop offset="0.7910" stop-color="#8ec8a6"/><stop offset="0.8388" stop-color="#9ed6a4"/><stop offset="0.8711" stop-color="#c0e69f"/><stop offset="0.9034" stop-color="#e2f196"/><stop offset="0.9321" stop-color="#f2e887"/><stop offset="0.9607" stop-color="#f1c470"/><stop offset="0.9800" stop-color="#f1a662"/><stop offset="0.9994" stop-color="#f0865a"/><stop offset="1.0457" stop-color="#ef755c"/><stop offset="1.0920" stop-color="#ee6a60"/><stop offset="1.1225" stop-color="#ed6464"/><stop offset="1.1531" stop-color="#ed6464"/></linearGradient><linearGradient id="hb18" gradientUnits="userSpaceOnUse" x1="311.0" x2="474.7" y1="0" y2="0"><stop offset="-0.3665" stop-color="#aea4cf"/><stop offset="0.5758" stop-color="#aea4cf"/><stop offset="0.6019" stop-color="#91a1c4"/><stop offset="0.6279" stop-color="#7ca6b6"/><stop offset="0.6796" stop-color="#7db0af"/><stop offset="0.7314" stop-color="#7ebaa8"/><stop offset="0.7809" stop-color="#8ec8a6"/><stop offset="0.8304" stop-color="#9ed6a4"/><stop offset="0.8626" stop-color="#c0e69f"/><stop offset="0.8948" stop-color="#e2f196"/><stop offset="0.9237" stop-color="#f2e887"/><stop offset="0.9527" stop-color="#f1c470"/><stop offset="0.9737" stop-color="#f1a662"/><stop offset="0.9947" stop-color="#f0865a"/><stop offset="1.0408" stop-color="#ef755c"/><stop offset="1.0869" stop-color="#ee6a60"/><stop offset="1.1174" stop-color="#ed6464"/><stop offset="1.1480" stop-color="#ed6464"/></linearGradient><linearGradient id="hb19" gradientUnits="userSpaceOnUse" x1="311.0" x2="474.7" y1="0" y2="0"><stop offset="-0.3665" stop-color="#aea4cf"/><stop offset="0.5597" stop-color="#aea4cf"/><stop offset="0.5861" stop-color="#91a1c4"/><stop offset="0.6125" stop-color="#7ca6b6"/><stop offset="0.6659" stop-color="#7db0af"/><stop offset="0.7193" stop-color="#7ebaa8"/><stop offset="0.7705" stop-color="#8ec8a6"/><stop offset="0.8217" stop-color="#9ed6a4"/><stop offset="0.8537" stop-color="#c0e69f"/><stop offset="0.8858" stop-color="#e2f196"/><stop offset="0.9148" stop-color="#f2e887"/><stop offset="0.9438" stop-color="#f1c470"/><stop offset="0.9669" stop-color="#f1a662"/><stop offset="0.9900" stop-color="#f0865a"/><stop offset="1.0359" stop-color="#ef755c"/><stop offset="1.0817" stop-color="#ee6a60"/><stop offset="1.1123" stop-color="#ed6464"/><stop offset="1.1428" stop-color="#ed6464"/></linearGradient><linearGradient id="hb20" gradientUnits="userSpaceOnUse" x1="311.0" x2="474.7" y1="0" y2="0"><stop offset="-0.3665" stop-color="#aea4cf"/><stop offset="0.5430" stop-color="#aea4cf"/><stop offset="0.5699" stop-color="#91a1c4"/><stop offset="0.5968" stop-color="#7ca6b6"/><stop offset="0.6518" stop-color="#7db0af"/><stop offset="0.7068" stop-color="#7ebaa8"/><stop offset="0.7597" stop-color="#8ec8a6"/><stop offset="0.8126" stop-color="#9ed6a4"/><stop offset="0.8446" stop-color="#c0e69f"/><stop offset="0.8766" stop-color="#e2f196"/><stop offset="0.9055" stop-color="#f2e887"/><stop offset="0.9344" stop-color="#f1c470"/><stop offset="0.9599" stop-color="#f1a662"/><stop offset="0.9854" stop-color="#f0865a"/><stop offset="1.0309" stop-color="#ef755c"/><stop offset="1.0764" stop-color="#ee6a60"/><stop offset="1.1070" stop-color="#ed6464"/><stop offset="1.1375" stop-color="#ed6464"/></linearGradient><linearGradient id="hb21" gradientUnits="userSpaceOnUse" x1="311.0" x2="474.7" y1="0" y2="0"><stop offset="-0.3665" stop-color="#aea4cf"/><stop offset="0.5255" stop-color="#aea4cf"/><stop offset="0.5530" stop-color="#91a1c4"/><stop offset="0.5806" stop-color="#7ca6b6"/><stop offset="0.6372" stop-color="#7db0af"/><stop offset="0.6939" stop-color="#7ebaa8"/><stop offset="0.7485" stop-color="#8ec8a6"/><stop offset="0.8031" stop-color="#9ed6a4"/><stop offset="0.8351" stop-color="#c0e69f"/><stop offset="0.8671" stop-color="#e2f196"/><stop offset="0.8960" stop-color="#f2e887"/><stop offset="0.9250" stop-color="#f1c470"/><stop offset="0.9529" stop-color="#f1a662"/><stop offset="0.9809" stop-color="#f0865a"/><stop offset="1.0260" stop-color="#ef755c"/><stop offset="1.0711" stop-color="#ee6a60"/><stop offset="1.1016" stop-color="#ed6464"/><stop offset="1.1322" stop-color="#ed6464"/></linearGradient><linearGradient id="hb22" gradientUnits="userSpaceOnUse" x1="311.0" x2="474.7" y1="0" y2="0"><stop offset="-0.3665" stop-color="#aea4cf"/><stop offset="0.5071" stop-color="#aea4cf"/><stop offset="0.5355" stop-color="#91a1c4"/><stop offset="0.5639" stop-color="#7ca6b6"/><stop offset="0.6222" stop-color="#7db0af"/><stop offset="0.6805" stop-color="#7ebaa8"/><stop offset="0.7368" stop-color="#8ec8a6"/><stop offset="0.7931" stop-color="#9ed6a4"/><stop offset="0.8253" stop-color="#c0e69f"/><stop offset="0.8575" stop-color="#e2f196"/><stop offset="0.8866" stop-color="#f2e887"/><stop offset="0.9157" stop-color="#f1c470"/><stop offset="0.9461" stop-color="#f1a662"/><stop offset="0.9765" stop-color="#f0865a"/><stop offset="1.0210" stop-color="#ef755c"/><stop offset="1.0656" stop-color="#ee6a60"/><stop offset="1.0962" stop-color="#ed6464"/><stop offset="1.1267" stop-color="#ed6464"/></linearGradient><linearGradient id="hb23" gradientUnits="userSpaceOnUse" x1="311.0" x2="474.7" y1="0" y2="0"><stop offset="-0.3665" stop-color="#aea4cf"/><stop offset="0.4879" stop-color="#aea4cf"/><stop offset="0.5173" stop-color="#91a1c4"/><stop offset="0.5467" stop-color="#7ca6b6"/><stop offset="0.6067" stop-color="#7db0af"/><stop offset="0.6667" stop-color="#7ebaa8"/><stop offset="0.7247" stop-color="#8ec8a6"/><stop offset="0.7826" stop-color="#9ed6a4"/><stop offset="0.8151" stop-color="#c0e69f"/><stop offset="0.8476" stop-color="#e2f196"/><stop offset="0.8772" stop-color="#f2e887"/><stop offset="0.9068" stop-color="#f1c470"/><stop offset="0.9395" stop-color="#f1a662"/><stop offset="0.9722" stop-color="#f0865a"/><stop offset="1.0161" stop-color="#ef755c"/><stop offset="1.0600" stop-color="#ee6a60"/><stop offset="1.0906" stop-color="#ed6464"/><stop offset="1.1213" stop-color="#ed6464"/></linearGradient><linearGradient id="hb24" gradientUnits="userSpaceOnUse" x1="311.0" x2="474.7" y1="0" y2="0"><stop offset="-0.3665" stop-color="#aea4cf"/><stop offset="0.4676" stop-color="#aea4cf"/><stop offset="0.4983" stop-color="#91a1c4"/><stop offset="0.5290" stop-color="#7ca6b6"/><stop offset="0.5907" stop-color="#7db0af"/><stop offset="0.6524" stop-color="#7ebaa8"/><stop offset="0.7120" stop-color="#8ec8a6"/><stop offset="0.7716" stop-color="#9ed6a4"/><stop offset="0.8045" stop-color="#c0e69f"/><stop offset="0.8374" stop-color="#e2f196"/><stop offset="0.8676" stop-color="#f2e887"/><stop offset="0.8977" stop-color="#f1c470"/><stop offset="0.9329" stop-color="#f1a662"/><stop offset="0.9680" stop-color="#f0865a"/><stop offset="1.0112" stop-color="#ef755c"/><stop offset="1.0545" stop-color="#ee6a60"/><stop offset="1.0851" stop-color="#ed6464"/><stop offset="1.1157" stop-color="#ed6464"/></linearGradient><linearGradient id="hb25" gradientUnits="userSpaceOnUse" x1="311.0" x2="474.7" y1="0" y2="0"><stop offset="-0.3665" stop-color="#aea4cf"/><stop offset="0.4459" stop-color="#aea4cf"/><stop offset="0.4784" stop-color="#91a1c4"/><stop offset="0.5108" stop-color="#7ca6b6"/><stop offset="0.5742" stop-color="#7db0af"/><stop offset="0.6376" stop-color="#7ebaa8"/><stop offset="0.6988" stop-color="#8ec8a6"/><stop offset="0.7601" stop-color="#9ed6a4"/><stop offset="0.7935" stop-color="#c0e69f"/><stop offset="0.8268" stop-color="#e2f196"/><stop offset="0.8577" stop-color="#f2e887"/><stop offset="0.8886" stop-color="#f1c470"/><stop offset="0.9263" stop-color="#f1a662"/><stop offset="0.9639" stop-color="#f0865a"/><stop offset="1.0064" stop-color="#ef755c"/><stop offset="1.0489" stop-color="#ee6a60"/><stop offset="1.0795" stop-color="#ed6464"/><stop offset="1.1102" stop-color="#ed6464"/></linearGradient><linearGradient id="hb26" gradientUnits="userSpaceOnUse" x1="311.0" x2="474.7" y1="0" y2="0"><stop offset="-0.3665" stop-color="#aea4cf"/><stop offset="0.4229" stop-color="#aea4cf"/><stop offset="0.4575" stop-color="#91a1c4"/><stop offset="0.4921" stop-color="#7ca6b6"/><stop offset="0.5572" stop-color="#7db0af"/><stop offset="0.6222" stop-color="#7ebaa8"/><stop offset="0.6851" stop-color="#8ec8a6"/><stop offset="0.7480" stop-color="#9ed6a4"/><stop offset="0.7819" stop-color="#c0e69f"/><stop offset="0.8159" stop-color="#e2f196"/><stop offset="0.8478" stop-color="#f2e887"/><stop offset="0.8798" stop-color="#f1c470"/><stop offset="0.9198" stop-color="#f1a662"/><stop offset="0.9598" stop-color="#f0865a"/><stop offset="1.0016" stop-color="#ef755c"/><stop offset="1.0433" stop-color="#ee6a60"/><stop offset="1.0740" stop-color="#ed6464"/><stop offset="1.1046" stop-color="#ed6464"/></linearGradient><linearGradient id="hb27" gradientUnits="userSpaceOnUse" x1="311.0" x2="474.7" y1="0" y2="0"><stop offset="-0.3665" stop-color="#aea4cf"/><stop offset="0.3985" stop-color="#aea4cf"/><stop offset="0.4357" stop-color="#91a1c4"/><stop offset="0.4730" stop-color="#7ca6b6"/><stop offset="0.5396" stop-color="#7db0af"/><stop offset="0.6063" stop-color="#7ebaa8"/><stop offset="0.6708" stop-color="#8ec8a6"/><stop offset="0.7354" stop-color="#9ed6a4"/><stop offset="0.7699" stop-color="#c0e69f"/><stop offset="0.8044" stop-color="#e2f196"/><stop offset="0.8380" stop-color="#f2e887"/><stop offset="0.8717" stop-color="#f1c470"/><stop offset="0.9137" stop-color="#f1a662"/><stop offset="0.9558" stop-color="#f0865a"/><stop offset="0.9968" stop-color="#ef755c"/><stop offset="1.0379" stop-color="#ee6a60"/><stop offset="1.0685" stop-color="#ed6464"/><stop offset="1.0991" stop-color="#ed6464"/></linearGradient><linearGradient id="hb28" gradientUnits="userSpaceOnUse" x1="311.0" x2="474.7" y1="0" y2="0"><stop offset="-0.3665" stop-color="#aea4cf"/><stop offset="0.3727" stop-color="#aea4cf"/><stop offset="0.4131" stop-color="#91a1c4"/><stop offset="0.4534" stop-color="#7ca6b6"/><stop offset="0.5216" stop-color="#7db0af"/><stop offset="0.5898" stop-color="#7ebaa8"/><stop offset="0.6560" stop-color="#8ec8a6"/><stop offset="0.7222" stop-color="#9ed6a4"/><stop offset="0.7573" stop-color="#c0e69f"/><stop offset="0.7924" stop-color="#e2f196"/><stop offset="0.8284" stop-color="#f2e887"/><stop offset="0.8645" stop-color="#f1c470"/><stop offset="0.9081" stop-color="#f1a662"/><stop offset="0.9517" stop-color="#f0865a"/><stop offset="0.9921" stop-color="#ef755c"/><stop offset="1.0325" stop-color="#ee6a60"/><stop offset="1.0630" stop-color="#ed6464"/><stop offset="1.0936" stop-color="#ed6464"/></linearGradient><linearGradient id="hb29" gradientUnits="userSpaceOnUse" x1="311.0" x2="474.7" y1="0" y2="0"><stop offset="-0.3665" stop-color="#aea4cf"/><stop offset="0.3456" stop-color="#aea4cf"/><stop offset="0.3895" stop-color="#91a1c4"/><stop offset="0.4334" stop-color="#7ca6b6"/><stop offset="0.5031" stop-color="#7db0af"/><stop offset="0.5727" stop-color="#7ebaa8"/><stop offset="0.6406" stop-color="#8ec8a6"/><stop offset="0.7085" stop-color="#9ed6a4"/><stop offset="0.7441" stop-color="#c0e69f"/><stop offset="0.7798" stop-color="#e2f196"/><stop offset="0.8190" stop-color="#f2e887"/><stop offset="0.8582" stop-color="#f1c470"/><stop offset="0.9029" stop-color="#f1a662"/><stop offset="0.9477" stop-color="#f0865a"/><stop offset="0.9875" stop-color="#ef755c"/><stop offset="1.0273" stop-color="#ee6a60"/><stop offset="1.0577" stop-color="#ed6464"/><stop offset="1.0882" stop-color="#ed6464"/></linearGradient><linearGradient id="hb30" gradientUnits="userSpaceOnUse" x1="311.0" x2="474.7" y1="0" y2="0"><stop offset="-0.3665" stop-color="#aea4cf"/><stop offset="0.3169" stop-color="#aea4cf"/><stop offset="0.3650" stop-color="#91a1c4"/><stop offset="0.4130" stop-color="#7ca6b6"/><stop offset="0.4838" stop-color="#7db0af"/><stop offset="0.5546" stop-color="#7ebaa8"/><stop offset="0.6244" stop-color="#8ec8a6"/><stop offset="0.6942" stop-color="#9ed6a4"/><stop offset="0.7304" stop-color="#c0e69f"/><stop offset="0.7665" stop-color="#e2f196"/><stop offset="0.8094" stop-color="#f2e887"/><stop offset="0.8524" stop-color="#f1c470"/><stop offset="0.8980" stop-color="#f1a662"/><stop offset="0.9436" stop-color="#f0865a"/><stop offset="0.9829" stop-color="#ef755c"/><stop offset="1.0223" stop-color="#ee6a60"/><stop offset="1.0526" stop-color="#ed6464"/><stop offset="1.0830" stop-color="#ed6464"/></linearGradient><linearGradient id="hb31" gradientUnits="userSpaceOnUse" x1="311.0" x2="474.7" y1="0" y2="0"><stop offset="-0.3665" stop-color="#aea4cf"/><stop offset="0.2853" stop-color="#aea4cf"/><stop offset="0.3387" stop-color="#91a1c4"/><stop offset="0.3922" stop-color="#7ca6b6"/><stop offset="0.4637" stop-color="#7db0af"/><stop offset="0.5352" stop-color="#7ebaa8"/><stop offset="0.6072" stop-color="#8ec8a6"/><stop offset="0.6792" stop-color="#9ed6a4"/><stop offset="0.7149" stop-color="#c0e69f"/><stop offset="0.7506" stop-color="#e2f196"/><stop offset="0.7988" stop-color="#f2e887"/><stop offset="0.8469" stop-color="#f1c470"/><stop offset="0.8931" stop-color="#f1a662"/><stop offset="0.9393" stop-color="#f0865a"/><stop offset="0.9784" stop-color="#ef755c"/><stop offset="1.0175" stop-color="#ee6a60"/><stop offset="1.0476" stop-color="#ed6464"/><stop offset="1.0778" stop-color="#ed6464"/></linearGradient><linearGradient id="hb32" gradientUnits="userSpaceOnUse" x1="311.0" x2="474.7" y1="0" y2="0"><stop offset="-0.3665" stop-color="#aea4cf"/><stop offset="0.2516" stop-color="#aea4cf"/><stop offset="0.3112" stop-color="#91a1c4"/><stop offset="0.3709" stop-color="#7ca6b6"/><stop offset="0.4428" stop-color="#7db0af"/><stop offset="0.5148" stop-color="#7ebaa8"/><stop offset="0.5888" stop-color="#8ec8a6"/><stop offset="0.6628" stop-color="#9ed6a4"/><stop offset="0.6978" stop-color="#c0e69f"/><stop offset="0.7328" stop-color="#e2f196"/><stop offset="0.7873" stop-color="#f2e887"/><stop offset="0.8418" stop-color="#f1c470"/><stop offset="0.8884" stop-color="#f1a662"/><stop offset="0.9350" stop-color="#f0865a"/><stop offset="0.9738" stop-color="#ef755c"/><stop offset="1.0126" stop-color="#ee6a60"/><stop offset="1.0426" stop-color="#ed6464"/><stop offset="1.0726" stop-color="#ed6464"/></linearGradient><linearGradient id="hb33" gradientUnits="userSpaceOnUse" x1="311.0" x2="474.7" y1="0" y2="0"><stop offset="-0.3665" stop-color="#aea4cf"/><stop offset="0.2168" stop-color="#aea4cf"/><stop offset="0.2829" stop-color="#91a1c4"/><stop offset="0.3490" stop-color="#7ca6b6"/><stop offset="0.4214" stop-color="#7db0af"/><stop offset="0.4938" stop-color="#7ebaa8"/><stop offset="0.5695" stop-color="#8ec8a6"/><stop offset="0.6451" stop-color="#9ed6a4"/><stop offset="0.6805" stop-color="#c0e69f"/><stop offset="0.7158" stop-color="#e2f196"/><stop offset="0.7764" stop-color="#f2e887"/><stop offset="0.8370" stop-color="#f1c470"/><stop offset="0.8839" stop-color="#f1a662"/><stop offset="0.9307" stop-color="#f0865a"/><stop offset="0.9692" stop-color="#ef755c"/><stop offset="1.0076" stop-color="#ee6a60"/><stop offset="1.0375" stop-color="#ed6464"/><stop offset="1.0673" stop-color="#ed6464"/></linearGradient><linearGradient id="hb34" gradientUnits="userSpaceOnUse" x1="311.0" x2="474.7" y1="0" y2="0"><stop offset="-0.3665" stop-color="#aea4cf"/><stop offset="0.1818" stop-color="#aea4cf"/><stop offset="0.2542" stop-color="#91a1c4"/><stop offset="0.3266" stop-color="#7ca6b6"/><stop offset="0.3995" stop-color="#7db0af"/><stop offset="0.4724" stop-color="#7ebaa8"/><stop offset="0.5494" stop-color="#8ec8a6"/><stop offset="0.6265" stop-color="#9ed6a4"/><stop offset="0.6646" stop-color="#c0e69f"/><stop offset="0.7026" stop-color="#e2f196"/><stop offset="0.7675" stop-color="#f2e887"/><stop offset="0.8325" stop-color="#f1c470"/><stop offset="0.8795" stop-color="#f1a662"/><stop offset="0.9265" stop-color="#f0865a"/><stop offset="0.9645" stop-color="#ef755c"/><stop offset="1.0025" stop-color="#ee6a60"/><stop offset="1.0321" stop-color="#ed6464"/><stop offset="1.0617" stop-color="#ed6464"/></linearGradient><linearGradient id="hb35" gradientUnits="userSpaceOnUse" x1="311.0" x2="474.7" y1="0" y2="0"><stop offset="-0.3665" stop-color="#aea4cf"/><stop offset="0.1469" stop-color="#aea4cf"/><stop offset="0.2252" stop-color="#91a1c4"/><stop offset="0.3035" stop-color="#7ca6b6"/><stop offset="0.3771" stop-color="#7db0af"/><stop offset="0.4508" stop-color="#7ebaa8"/><stop offset="0.5290" stop-color="#8ec8a6"/><stop offset="0.6073" stop-color="#9ed6a4"/><stop offset="0.6493" stop-color="#c0e69f"/><stop offset="0.6913" stop-color="#e2f196"/><stop offset="0.7597" stop-color="#f2e887"/><stop offset="0.8281" stop-color="#f1c470"/><stop offset="0.8752" stop-color="#f1a662"/><stop offset="0.9224" stop-color="#f0865a"/><stop offset="0.9598" stop-color="#ef755c"/><stop offset="0.9971" stop-color="#ee6a60"/><stop offset="1.0264" stop-color="#ed6464"/><stop offset="1.0557" stop-color="#ed6464"/></linearGradient><linearGradient id="hb36" gradientUnits="userSpaceOnUse" x1="311.0" x2="474.7" y1="0" y2="0"><stop offset="-0.3665" stop-color="#aea4cf"/><stop offset="0.1113" stop-color="#aea4cf"/><stop offset="0.1955" stop-color="#91a1c4"/><stop offset="0.2797" stop-color="#7ca6b6"/><stop offset="0.3545" stop-color="#7db0af"/><stop offset="0.4292" stop-color="#7ebaa8"/><stop offset="0.5085" stop-color="#8ec8a6"/><stop offset="0.5877" stop-color="#9ed6a4"/><stop offset="0.6345" stop-color="#c0e69f"/><stop offset="0.6813" stop-color="#e2f196"/><stop offset="0.7526" stop-color="#f2e887"/><stop offset="0.8239" stop-color="#f1c470"/><stop offset="0.8712" stop-color="#f1a662"/><stop offset="0.9185" stop-color="#f0865a"/><stop offset="0.9549" stop-color="#ef755c"/><stop offset="0.9913" stop-color="#ee6a60"/><stop offset="1.0203" stop-color="#ed6464"/><stop offset="1.0493" stop-color="#ed6464"/></linearGradient><linearGradient id="hb37" gradientUnits="userSpaceOnUse" x1="311.0" x2="474.7" y1="0" y2="0"><stop offset="-0.3665" stop-color="#aea4cf"/><stop offset="0.0752" stop-color="#aea4cf"/><stop offset="0.1652" stop-color="#91a1c4"/><stop offset="0.2552" stop-color="#7ca6b6"/><stop offset="0.3316" stop-color="#7db0af"/><stop offset="0.4081" stop-color="#7ebaa8"/><stop offset="0.4881" stop-color="#8ec8a6"/><stop offset="0.5681" stop-color="#9ed6a4"/><stop offset="0.6209" stop-color="#c0e69f"/><stop offset="0.6738" stop-color="#e2f196"/><stop offset="0.7468" stop-color="#f2e887"/><stop offset="0.8198" stop-color="#f1c470"/><stop offset="0.8674" stop-color="#f1a662"/><stop offset="0.9150" stop-color="#f0865a"/><stop offset="0.9500" stop-color="#ef755c"/><stop offset="0.9851" stop-color="#ee6a60"/><stop offset="1.0137" stop-color="#ed6464"/><stop offset="1.0423" stop-color="#ed6464"/></linearGradient><linearGradient id="hb38" gradientUnits="userSpaceOnUse" x1="311.0" x2="474.7" y1="0" y2="0"><stop offset="-0.3665" stop-color="#aea4cf"/><stop offset="0.0388" stop-color="#aea4cf"/><stop offset="0.1343" stop-color="#91a1c4"/><stop offset="0.2298" stop-color="#7ca6b6"/><stop offset="0.3086" stop-color="#7db0af"/><stop offset="0.3874" stop-color="#7ebaa8"/><stop offset="0.4680" stop-color="#8ec8a6"/><stop offset="0.5486" stop-color="#9ed6a4"/><stop offset="0.6089" stop-color="#c0e69f"/><stop offset="0.6691" stop-color="#e2f196"/><stop offset="0.7426" stop-color="#f2e887"/><stop offset="0.8160" stop-color="#f1c470"/><stop offset="0.8638" stop-color="#f1a662"/><stop offset="0.9116" stop-color="#f0865a"/><stop offset="0.9450" stop-color="#ef755c"/><stop offset="0.9784" stop-color="#ee6a60"/><stop offset="1.0066" stop-color="#ed6464"/><stop offset="1.0348" stop-color="#ed6464"/></linearGradient><linearGradient id="hb39" gradientUnits="userSpaceOnUse" x1="311.0" x2="474.7" y1="0" y2="0"><stop offset="-0.3665" stop-color="#aea4cf"/><stop offset="0.0025" stop-color="#aea4cf"/><stop offset="0.1026" stop-color="#91a1c4"/><stop offset="0.2026" stop-color="#7ca6b6"/><stop offset="0.2847" stop-color="#7db0af"/><stop offset="0.3669" stop-color="#7ebaa8"/><stop offset="0.4478" stop-color="#8ec8a6"/><stop offset="0.5287" stop-color="#9ed6a4"/><stop offset="0.5970" stop-color="#c0e69f"/><stop offset="0.6654" stop-color="#e2f196"/><stop offset="0.7389" stop-color="#f2e887"/><stop offset="0.8125" stop-color="#f1c470"/><stop offset="0.8605" stop-color="#f1a662"/><stop offset="0.9085" stop-color="#f0865a"/><stop offset="0.9399" stop-color="#ef755c"/><stop offset="0.9713" stop-color="#ee6a60"/><stop offset="0.9990" stop-color="#ed6464"/><stop offset="1.0267" stop-color="#ed6464"/></linearGradient><linearGradient id="hb40" gradientUnits="userSpaceOnUse" x1="311.0" x2="474.7" y1="0" y2="0"><stop offset="-0.3665" stop-color="#aea4cf"/><stop offset="-0.0339" stop-color="#aea4cf"/><stop offset="0.0699" stop-color="#91a1c4"/><stop offset="0.1736" stop-color="#7ca6b6"/><stop offset="0.2600" stop-color="#7db0af"/><stop offset="0.3463" stop-color="#7ebaa8"/><stop offset="0.4272" stop-color="#8ec8a6"/><stop offset="0.5082" stop-color="#9ed6a4"/><stop offset="0.5857" stop-color="#c0e69f"/><stop offset="0.6631" stop-color="#e2f196"/><stop offset="0.7361" stop-color="#f2e887"/><stop offset="0.8091" stop-color="#f1c470"/><stop offset="0.8573" stop-color="#f1a662"/><stop offset="0.9055" stop-color="#f0865a"/><stop offset="0.9348" stop-color="#ef755c"/><stop offset="0.9640" stop-color="#ee6a60"/><stop offset="0.9912" stop-color="#ed6464"/><stop offset="1.0183" stop-color="#ed6464"/></linearGradient></defs><g shape-rendering="crispEdges"><rect x="311.0" y="42.00" width="163.7" height="3.24" fill="url(#hb0)"/><rect x="311.0" y="44.44" width="163.7" height="3.24" fill="url(#hb1)"/><rect x="311.0" y="46.89" width="163.7" height="3.24" fill="url(#hb2)"/><rect x="311.0" y="49.33" width="163.7" height="3.24" fill="url(#hb3)"/><rect x="311.0" y="51.78" width="163.7" height="3.24" fill="url(#hb4)"/><rect x="311.0" y="54.22" width="163.7" height="3.24" fill="url(#hb5)"/><rect x="311.0" y="56.66" width="163.7" height="3.24" fill="url(#hb6)"/><rect x="311.0" y="59.11" width="163.7" height="3.24" fill="url(#hb7)"/><rect x="311.0" y="61.55" width="163.7" height="3.24" fill="url(#hb8)"/><rect x="311.0" y="64.00" width="163.7" height="3.24" fill="url(#hb9)"/><rect x="311.0" y="66.44" width="163.7" height="3.24" fill="url(#hb10)"/><rect x="311.0" y="68.88" width="163.7" height="3.24" fill="url(#hb11)"/><rect x="311.0" y="71.33" width="163.7" height="3.24" fill="url(#hb12)"/><rect x="311.0" y="73.77" width="163.7" height="3.24" fill="url(#hb13)"/><rect x="311.0" y="76.21" width="163.7" height="3.24" fill="url(#hb14)"/><rect x="311.0" y="78.66" width="163.7" height="3.24" fill="url(#hb15)"/><rect x="311.0" y="81.10" width="163.7" height="3.24" fill="url(#hb16)"/><rect x="311.0" y="83.55" width="163.7" height="3.24" fill="url(#hb17)"/><rect x="311.0" y="85.99" width="163.7" height="3.24" fill="url(#hb18)"/><rect x="311.0" y="88.43" width="163.7" height="3.24" fill="url(#hb19)"/><rect x="311.0" y="90.88" width="163.7" height="3.24" fill="url(#hb20)"/><rect x="311.0" y="93.32" width="163.7" height="3.24" fill="url(#hb21)"/><rect x="311.0" y="95.77" width="163.7" height="3.24" fill="url(#hb22)"/><rect x="311.0" y="98.21" width="163.7" height="3.24" fill="url(#hb23)"/><rect x="311.0" y="100.65" width="163.7" height="3.24" fill="url(#hb24)"/><rect x="311.0" y="103.10" width="163.7" height="3.24" fill="url(#hb25)"/><rect x="311.0" y="105.54" width="163.7" height="3.24" fill="url(#hb26)"/><rect x="311.0" y="107.99" width="163.7" height="3.24" fill="url(#hb27)"/><rect x="311.0" y="110.43" width="163.7" height="3.24" fill="url(#hb28)"/><rect x="311.0" y="112.87" width="163.7" height="3.24" fill="url(#hb29)"/><rect x="311.0" y="115.32" width="163.7" height="3.24" fill="url(#hb30)"/><rect x="311.0" y="117.76" width="163.7" height="3.24" fill="url(#hb31)"/><rect x="311.0" y="120.20" width="163.7" height="3.24" fill="url(#hb32)"/><rect x="311.0" y="122.65" width="163.7" height="3.24" fill="url(#hb33)"/><rect x="311.0" y="125.09" width="163.7" height="3.24" fill="url(#hb34)"/><rect x="311.0" y="127.54" width="163.7" height="3.24" fill="url(#hb35)"/><rect x="311.0" y="129.98" width="163.7" height="3.24" fill="url(#hb36)"/><rect x="311.0" y="132.42" width="163.7" height="3.24" fill="url(#hb37)"/><rect x="311.0" y="134.87" width="163.7" height="3.24" fill="url(#hb38)"/><rect x="311.0" y="137.31" width="163.7" height="3.24" fill="url(#hb39)"/><rect x="311.0" y="139.76" width="163.7" height="3.24" fill="url(#hb40)"/></g>
<path d="M450.8 42.3 L449.4 44.9 L447.9 47.4 L446.2 50.0 L444.5 52.6 L442.7 55.1 L440.9 57.7 L438.8 60.3 L436.7 62.9 L434.5 65.4 L432.2 68.0 L429.9 70.6 L427.5 73.1 L425.2 75.7 L422.8 78.3 L420.3 80.8 L417.9 83.4 L415.3 86.0 L412.7 88.5 L410.1 91.1 L407.3 93.7 L404.5 96.3 L401.6 98.8 L398.5 101.4 L395.4 104.0 L392.2 106.5 L389.0 109.1 L385.6 111.7 L382.2 114.2 L378.7 116.8 L375.1 119.4 L371.4 121.9 L367.6 124.5 L363.7 127.1 L359.7 129.7 L355.6 132.2 L351.4 134.8 L346.9 137.4 L342.1 139.9 L337.0 142.5" fill="none" stroke="#222" stroke-width="0.45" />
<path d="M457.5 42.3 L456.5 44.9 L455.4 47.4 L454.3 50.0 L453.0 52.6 L451.7 55.1 L450.3 57.7 L448.9 60.3 L447.5 62.9 L446.0 65.4 L444.4 68.0 L442.8 70.6 L441.2 73.1 L439.5 75.7 L437.7 78.3 L435.8 80.8 L433.9 83.4 L431.9 86.0 L429.9 88.5 L427.8 91.1 L425.6 93.7 L423.3 96.3 L421.0 98.8 L418.6 101.4 L416.0 104.0 L413.4 106.5 L410.7 109.1 L407.9 111.7 L404.9 114.2 L401.8 116.8 L398.5 119.4 L395.0 121.9 L391.3 124.5 L387.6 127.1 L383.9 129.7 L380.2 132.2 L376.6 134.8 L373.1 137.4 L369.5 139.9 L366.0 142.5" fill="none" stroke="#222" stroke-width="0.45" />
<path d="M466.7 42.3 L466.0 44.9 L465.3 47.4 L464.5 50.0 L463.7 52.6 L462.7 55.1 L461.7 57.7 L460.5 60.3 L459.4 62.9 L458.2 65.4 L457.0 68.0 L455.7 70.6 L454.4 73.1 L453.2 75.7 L451.9 78.3 L450.6 80.8 L449.2 83.4 L447.8 86.0 L446.3 88.5 L444.8 91.1 L443.2 93.7 L441.5 96.3 L439.8 98.8 L437.9 101.4 L435.9 104.0 L433.9 106.5 L431.7 109.1 L429.5 111.7 L427.1 114.2 L424.7 116.8 L422.1 119.4 L419.2 121.9 L416.2 124.5 L413.0 127.1 L409.6 129.7 L406.3 132.2 L402.9 134.8 L399.5 137.4 L396.0 139.9 L392.5 142.5" fill="none" stroke="#222" stroke-width="0.45" />
<path d="M475.8 42.3 L475.0 44.9 L474.2 47.4 L473.3 50.0 L472.4 52.6 L471.5 55.1 L470.7 57.7 L469.8 60.3 L468.9 62.9 L468.0 65.4 L467.0 68.0 L466.0 70.6 L464.9 73.1 L463.7 75.7 L462.5 78.3 L461.2 80.8 L459.8 83.4 L458.4 86.0 L456.9 88.5 L455.3 91.1 L453.7 93.7 L452.0 96.3 L450.4 98.8 L448.6 101.4 L446.8 104.0 L445.0 106.5 L443.0 109.1 L440.9 111.7 L438.8 114.2 L436.5 116.8 L433.8 119.4 L430.7 121.9 L427.8 124.5 L425.7 127.1 L423.7 129.7 L422.1 132.2 L421.0 134.8 L420.3 137.4 L419.7 139.9 L419.5 142.5" fill="none" stroke="#222" stroke-width="0.45" />
<path d="M485.8 42.3 L484.9 44.9 L483.9 47.4 L482.9 50.0 L481.9 52.6 L480.9 55.1 L479.9 57.7 L478.8 60.3 L477.8 62.9 L476.7 65.4 L475.7 68.0 L474.6 70.6 L473.5 73.1 L472.4 75.7 L471.4 78.3 L470.3 80.8 L469.1 83.4 L467.8 86.0 L466.3 88.5 L464.8 91.1 L463.2 93.7 L461.5 96.3 L460.0 98.8 L458.4 101.4 L456.9 104.0 L455.3 106.5 L453.9 109.1 L452.6 111.7 L451.6 114.2 L450.5 116.8 L449.6 119.4 L448.7 121.9 L447.9 124.5 L447.1 127.1 L446.4 129.7 L445.7 132.2 L445.0 134.8 L444.3 137.4 L443.8 139.9 L443.2 142.5" fill="none" stroke="#222" stroke-width="0.45" />
<path d="M494.7 42.3 L493.1 44.9 L491.5 47.4 L490.0 50.0 L488.5 52.6 L487.1 55.1 L485.8 57.7 L484.4 60.3 L483.2 62.9 L482.0 65.4 L480.8 68.0 L479.8 70.6 L478.7 73.1 L477.8 75.7 L476.9 78.3 L476.0 80.8 L475.1 83.4 L474.3 86.0 L473.5 88.5 L472.7 91.1 L471.9 93.7 L471.2 96.3 L470.4 98.8 L469.7 101.4 L469.0 104.0 L468.3 106.5 L467.6 109.1 L466.9 111.7 L466.2 114.2 L465.5 116.8 L464.7 119.4 L464.0 121.9 L463.3 124.5 L462.5 127.1 L461.8 129.7 L461.2 132.2 L460.6 134.8 L460.0 137.4 L459.5 139.9 L459.0 142.5" fill="none" stroke="#222" stroke-width="0.45" />
<path d="M505.8 42.3 L504.7 44.9 L503.7 47.4 L502.7 50.0 L501.6 52.6 L500.6 55.1 L499.6 57.7 L498.6 60.3 L497.7 62.9 L496.7 65.4 L495.7 68.0 L494.8 70.6 L493.9 73.1 L493.0 75.7 L492.1 78.3 L491.2 80.8 L490.3 83.4 L489.4 86.0 L488.6 88.5 L487.7 91.1 L486.8 93.7 L485.8 96.3 L484.9 98.8 L483.9 101.4 L482.9 104.0 L482.0 106.5 L481.0 109.1 L480.1 111.7 L479.2 114.2 L478.4 116.8 L477.5 119.4 L476.7 121.9 L475.8 124.5 L474.9 127.1 L474.0 129.7 L473.0 132.2 L471.9 134.8 L470.7 137.4 L469.5 139.9 L468.2 142.5" fill="none" stroke="#222" stroke-width="0.45" />
<path d="M444.9 41.3 L443.6 43.0 L442.2 44.8 L440.9 46.5 L439.5 48.2 L438.1 50.0 L436.7 51.7 L435.3 53.4 L433.9 55.2 L432.5 56.9 L431.1 58.6 L429.7 60.4 L428.2 62.1 L426.8 63.8 L425.3 65.6 L423.9 67.3 L422.5 69.0 L421.0 70.7 L419.6 72.5 L418.1 74.2 L416.5 75.9 L415.0 77.7 L413.4 79.4 L411.7 81.1 L410.0 82.9 L408.3 84.6 L406.5 86.3 L404.7 88.1 L402.8 89.8 L400.9 91.5 L398.9 93.3 L396.8 95.0 L394.7 96.7 L392.5 98.5 L390.2 100.2 L387.9 101.9 L385.4 103.7 L382.8 105.4 L380.1 107.1 L377.3 108.9 L374.4 110.6 L371.4 112.3 L368.2 114.1 L365.0 115.8 L361.5 117.5 L357.8 119.2 L353.9 121.0 L349.9 122.7 L345.8 124.4 L341.8 126.2 L337.7 127.9 L333.7 129.6 L329.5 131.4 L325.4 133.1 L321.1 134.8 L316.9 136.6 L312.7 138.3 L308.5 140.0 L304.2 141.8 L300.0 143.5" fill="none" stroke="#f21d1d" stroke-width="2.2" />
</g>
<text transform="translate(345.5,139.0) rotate(-35)" font-size="5.2" fill="#222" text-anchor="middle">10</text>
<text transform="translate(371.5,140.0) rotate(-38)" font-size="5.2" fill="#222" text-anchor="middle">20</text>
<text transform="translate(398.0,139.5) rotate(-40)" font-size="5.2" fill="#222" text-anchor="middle">30</text>
<text transform="translate(429.0,126.5) rotate(-48)" font-size="5.2" fill="#222" text-anchor="middle">40</text>
<text transform="translate(454.5,108.0) rotate(-62)" font-size="5.2" fill="#222" text-anchor="middle">50</text>
<text transform="translate(462.0,130.0) rotate(-70)" font-size="5.2" fill="#222" text-anchor="middle">60</text>
<defs><linearGradient id="cbb" x1="0" x2="0" y1="1" y2="0"><stop offset="0.000" stop-color="#aea4cf"/><stop offset="0.050" stop-color="#9a9dc9"/><stop offset="0.100" stop-color="#879cc3"/><stop offset="0.150" stop-color="#769cbc"/><stop offset="0.200" stop-color="#6fa0b5"/><stop offset="0.250" stop-color="#67a4ad"/><stop offset="0.300" stop-color="#67afa6"/><stop offset="0.350" stop-color="#6fbd9f"/><stop offset="0.400" stop-color="#7ccc9c"/><stop offset="0.450" stop-color="#92da9b"/><stop offset="0.500" stop-color="#ade699"/><stop offset="0.550" stop-color="#cdf096"/><stop offset="0.600" stop-color="#f0f28c"/><stop offset="0.650" stop-color="#eddb73"/><stop offset="0.700" stop-color="#edc664"/><stop offset="0.750" stop-color="#efb05a"/><stop offset="0.800" stop-color="#f09852"/><stop offset="0.850" stop-color="#f08955"/><stop offset="0.900" stop-color="#f07a58"/><stop offset="0.950" stop-color="#ee705e"/><stop offset="1.000" stop-color="#ed6664"/></linearGradient></defs><rect x="314.3" y="46.3" width="10.7" height="77.0" fill="url(#cbb)" stroke="#333" stroke-width="0.5"/>
<path d="M325 59.7H328" stroke="#222" stroke-width="0.6"/>
<text x="329.0" y="62.8" font-size="8.8" fill="#111" text-anchor="start" >60</text>
<path d="M325 80.7H328" stroke="#222" stroke-width="0.6"/>
<text x="329.0" y="83.8" font-size="8.8" fill="#111" text-anchor="start" >40</text>
<path d="M325 101.5H328" stroke="#222" stroke-width="0.6"/>
<text x="329.0" y="104.6" font-size="8.8" fill="#111" text-anchor="start" >20</text>
<path d="M325 122.5H328" stroke="#222" stroke-width="0.6"/>
<text x="329.0" y="125.6" font-size="8.8" fill="#111" text-anchor="start" >0</text>
<rect x="311.0" y="42.3" width="163.7" height="100.2" fill="none" stroke="#333" stroke-width="0.7"/>
<path d="M307.4 43.8H311.0" stroke="#222" stroke-width="0.7"/>
<text transform="translate(305.9,47.2) scale(0.87,1)" font-size="10.6" fill="#111" text-anchor="end">50</text>
<path d="M307.4 68.1H311.0" stroke="#222" stroke-width="0.7"/>
<text transform="translate(305.9,71.5) scale(0.87,1)" font-size="10.6" fill="#111" text-anchor="end">40</text>
<path d="M307.4 92.4H311.0" stroke="#222" stroke-width="0.7"/>
<text transform="translate(305.9,95.8) scale(0.87,1)" font-size="10.6" fill="#111" text-anchor="end">30</text>
<path d="M307.4 116.7H311.0" stroke="#222" stroke-width="0.7"/>
<text transform="translate(305.9,120.1) scale(0.87,1)" font-size="10.6" fill="#111" text-anchor="end">20</text>
<path d="M307.4 141.0H311.0" stroke="#222" stroke-width="0.7"/>
<text transform="translate(305.9,144.4) scale(0.87,1)" font-size="10.6" fill="#111" text-anchor="end">10</text>
<path d="M313.4 142.5V145.5" stroke="#222" stroke-width="0.7"/>
<text transform="translate(313.6,155.4) scale(0.87,1)" font-size="10.6" fill="#111" text-anchor="middle">1200</text>
<path d="M339.9 142.5V145.5" stroke="#222" stroke-width="0.7"/>
<text transform="translate(340.1,155.4) scale(0.87,1)" font-size="10.6" fill="#111" text-anchor="middle">1300</text>
<path d="M366.4 142.5V145.5" stroke="#222" stroke-width="0.7"/>
<text transform="translate(366.6,155.4) scale(0.87,1)" font-size="10.6" fill="#111" text-anchor="middle">1400</text>
<path d="M392.9 142.5V145.5" stroke="#222" stroke-width="0.7"/>
<text transform="translate(393.1,155.4) scale(0.87,1)" font-size="10.6" fill="#111" text-anchor="middle">1500</text>
<path d="M419.5 142.5V145.5" stroke="#222" stroke-width="0.7"/>
<text transform="translate(419.7,155.4) scale(0.87,1)" font-size="10.6" fill="#111" text-anchor="middle">1600</text>
<path d="M446.0 142.5V145.5" stroke="#222" stroke-width="0.7"/>
<text transform="translate(446.2,155.4) scale(0.87,1)" font-size="10.6" fill="#111" text-anchor="middle">1700</text>
<path d="M472.5 142.5V145.5" stroke="#222" stroke-width="0.7"/>
<text transform="translate(472.7,155.4) scale(0.87,1)" font-size="10.6" fill="#111" text-anchor="middle">1800</text>
<text x="317.7" y="36.5" font-size="12.5" fill="#111" text-anchor="start" >Melt (mol.%)</text>
<text x="398.2" y="31.2" font-size="26" fill="#111" text-anchor="start" >b)</text>
<text x="352.8" y="98.4" font-size="11.4" fill="#f21d1d" text-anchor="start" >Solidus</text>
<rect x="471.3" y="139.8" width="2.6" height="1.8" fill="#fff"/>
</g>
<g>
<clipPath id="cid"><rect x="311.0" y="338.3" width="163.7" height="100.19999999999999"/></clipPath>
<g clip-path="url(#cid)">
<defs><linearGradient id="hd0" gradientUnits="userSpaceOnUse" x1="311.0" x2="474.7" y1="0" y2="0"><stop offset="-0.3665" stop-color="#b0addb"/><stop offset="0.6399" stop-color="#b0addb"/><stop offset="0.6604" stop-color="#96a0c8"/><stop offset="0.6810" stop-color="#87a4bd"/><stop offset="0.7221" stop-color="#7ca8b4"/><stop offset="0.7631" stop-color="#7db0af"/><stop offset="0.7837" stop-color="#7eb7aa"/><stop offset="0.8042" stop-color="#85c0a7"/><stop offset="0.8208" stop-color="#91cba6"/><stop offset="0.8374" stop-color="#9dd5a4"/><stop offset="0.8494" stop-color="#b4e1a0"/><stop offset="0.8614" stop-color="#cdeb9b"/><stop offset="0.8739" stop-color="#e5f094"/><stop offset="0.8864" stop-color="#f2ec8a"/><stop offset="0.8965" stop-color="#f1d179"/><stop offset="0.9067" stop-color="#f1b96b"/><stop offset="0.9173" stop-color="#f1a361"/><stop offset="0.9278" stop-color="#f08b5b"/><stop offset="0.9446" stop-color="#f07c5b"/><stop offset="0.9614" stop-color="#ef705c"/><stop offset="0.9792" stop-color="#ee6a60"/><stop offset="0.9971" stop-color="#ed6464"/></linearGradient><linearGradient id="hd1" gradientUnits="userSpaceOnUse" x1="311.0" x2="474.7" y1="0" y2="0"><stop offset="-0.3665" stop-color="#b0addb"/><stop offset="0.6260" stop-color="#b0addb"/><stop offset="0.6463" stop-color="#96a0c8"/><stop offset="0.6667" stop-color="#87a4bd"/><stop offset="0.7074" stop-color="#7ca8b4"/><stop offset="0.7481" stop-color="#7db0af"/><stop offset="0.7685" stop-color="#7eb7aa"/><stop offset="0.7888" stop-color="#85c0a7"/><stop offset="0.8053" stop-color="#91cba6"/><stop offset="0.8218" stop-color="#9dd5a4"/><stop offset="0.8336" stop-color="#b4e1a0"/><stop offset="0.8455" stop-color="#cdeb9b"/><stop offset="0.8579" stop-color="#e5f094"/><stop offset="0.8703" stop-color="#f2ec8a"/><stop offset="0.8804" stop-color="#f1d179"/><stop offset="0.8905" stop-color="#f1b96b"/><stop offset="0.9009" stop-color="#f1a361"/><stop offset="0.9113" stop-color="#f08b5b"/><stop offset="0.9280" stop-color="#f07c5b"/><stop offset="0.9446" stop-color="#ef705c"/><stop offset="0.9623" stop-color="#ee6a60"/><stop offset="0.9800" stop-color="#ed6464"/></linearGradient><linearGradient id="hd2" gradientUnits="userSpaceOnUse" x1="311.0" x2="474.7" y1="0" y2="0"><stop offset="-0.3665" stop-color="#b0addb"/><stop offset="0.6121" stop-color="#b0addb"/><stop offset="0.6323" stop-color="#96a0c8"/><stop offset="0.6524" stop-color="#87a4bd"/><stop offset="0.6927" stop-color="#7ca8b4"/><stop offset="0.7330" stop-color="#7db0af"/><stop offset="0.7532" stop-color="#7eb7aa"/><stop offset="0.7734" stop-color="#85c0a7"/><stop offset="0.7897" stop-color="#91cba6"/><stop offset="0.8060" stop-color="#9dd5a4"/><stop offset="0.8177" stop-color="#b4e1a0"/><stop offset="0.8294" stop-color="#cdeb9b"/><stop offset="0.8417" stop-color="#e5f094"/><stop offset="0.8540" stop-color="#f2ec8a"/><stop offset="0.8640" stop-color="#f1d179"/><stop offset="0.8740" stop-color="#f1b96b"/><stop offset="0.8843" stop-color="#f1a361"/><stop offset="0.8946" stop-color="#f08b5b"/><stop offset="0.9111" stop-color="#f07c5b"/><stop offset="0.9276" stop-color="#ef705c"/><stop offset="0.9451" stop-color="#ee6a60"/><stop offset="0.9626" stop-color="#ed6464"/></linearGradient><linearGradient id="hd3" gradientUnits="userSpaceOnUse" x1="311.0" x2="474.7" y1="0" y2="0"><stop offset="-0.3665" stop-color="#b0addb"/><stop offset="0.5983" stop-color="#b0addb"/><stop offset="0.6182" stop-color="#96a0c8"/><stop offset="0.6382" stop-color="#87a4bd"/><stop offset="0.6781" stop-color="#7ca8b4"/><stop offset="0.7179" stop-color="#7db0af"/><stop offset="0.7379" stop-color="#7eb7aa"/><stop offset="0.7578" stop-color="#85c0a7"/><stop offset="0.7739" stop-color="#91cba6"/><stop offset="0.7900" stop-color="#9dd5a4"/><stop offset="0.8017" stop-color="#b4e1a0"/><stop offset="0.8133" stop-color="#cdeb9b"/><stop offset="0.8254" stop-color="#e5f094"/><stop offset="0.8375" stop-color="#f2ec8a"/><stop offset="0.8474" stop-color="#f1d179"/><stop offset="0.8573" stop-color="#f1b96b"/><stop offset="0.8675" stop-color="#f1a361"/><stop offset="0.8778" stop-color="#f08b5b"/><stop offset="0.8940" stop-color="#f07c5b"/><stop offset="0.9103" stop-color="#ef705c"/><stop offset="0.9277" stop-color="#ee6a60"/><stop offset="0.9450" stop-color="#ed6464"/></linearGradient><linearGradient id="hd4" gradientUnits="userSpaceOnUse" x1="311.0" x2="474.7" y1="0" y2="0"><stop offset="-0.3665" stop-color="#b0addb"/><stop offset="0.5845" stop-color="#b0addb"/><stop offset="0.6042" stop-color="#96a0c8"/><stop offset="0.6239" stop-color="#87a4bd"/><stop offset="0.6633" stop-color="#7ca8b4"/><stop offset="0.7028" stop-color="#7db0af"/><stop offset="0.7225" stop-color="#7eb7aa"/><stop offset="0.7422" stop-color="#85c0a7"/><stop offset="0.7581" stop-color="#91cba6"/><stop offset="0.7741" stop-color="#9dd5a4"/><stop offset="0.7855" stop-color="#b4e1a0"/><stop offset="0.7970" stop-color="#cdeb9b"/><stop offset="0.8090" stop-color="#e5f094"/><stop offset="0.8210" stop-color="#f2ec8a"/><stop offset="0.8308" stop-color="#f1d179"/><stop offset="0.8406" stop-color="#f1b96b"/><stop offset="0.8507" stop-color="#f1a361"/><stop offset="0.8608" stop-color="#f08b5b"/><stop offset="0.8769" stop-color="#f07c5b"/><stop offset="0.8930" stop-color="#ef705c"/><stop offset="0.9101" stop-color="#ee6a60"/><stop offset="0.9273" stop-color="#ed6464"/></linearGradient><linearGradient id="hd5" gradientUnits="userSpaceOnUse" x1="311.0" x2="474.7" y1="0" y2="0"><stop offset="-0.3665" stop-color="#b0addb"/><stop offset="0.5706" stop-color="#b0addb"/><stop offset="0.5901" stop-color="#96a0c8"/><stop offset="0.6096" stop-color="#87a4bd"/><stop offset="0.6486" stop-color="#7ca8b4"/><stop offset="0.6875" stop-color="#7db0af"/><stop offset="0.7070" stop-color="#7eb7aa"/><stop offset="0.7265" stop-color="#85c0a7"/><stop offset="0.7423" stop-color="#91cba6"/><stop offset="0.7580" stop-color="#9dd5a4"/><stop offset="0.7694" stop-color="#b4e1a0"/><stop offset="0.7808" stop-color="#cdeb9b"/><stop offset="0.7926" stop-color="#e5f094"/><stop offset="0.8045" stop-color="#f2ec8a"/><stop offset="0.8141" stop-color="#f1d179"/><stop offset="0.8238" stop-color="#f1b96b"/><stop offset="0.8338" stop-color="#f1a361"/><stop offset="0.8438" stop-color="#f08b5b"/><stop offset="0.8597" stop-color="#f07c5b"/><stop offset="0.8757" stop-color="#ef705c"/><stop offset="0.8926" stop-color="#ee6a60"/><stop offset="0.9096" stop-color="#ed6464"/></linearGradient><linearGradient id="hd6" gradientUnits="userSpaceOnUse" x1="311.0" x2="474.7" y1="0" y2="0"><stop offset="-0.3665" stop-color="#b0addb"/><stop offset="0.5565" stop-color="#b0addb"/><stop offset="0.5758" stop-color="#96a0c8"/><stop offset="0.5951" stop-color="#87a4bd"/><stop offset="0.6337" stop-color="#7ca8b4"/><stop offset="0.6723" stop-color="#7db0af"/><stop offset="0.6915" stop-color="#7eb7aa"/><stop offset="0.7108" stop-color="#85c0a7"/><stop offset="0.7264" stop-color="#91cba6"/><stop offset="0.7420" stop-color="#9dd5a4"/><stop offset="0.7533" stop-color="#b4e1a0"/><stop offset="0.7645" stop-color="#cdeb9b"/><stop offset="0.7762" stop-color="#e5f094"/><stop offset="0.7880" stop-color="#f2ec8a"/><stop offset="0.7975" stop-color="#f1d179"/><stop offset="0.8071" stop-color="#f1b96b"/><stop offset="0.8170" stop-color="#f1a361"/><stop offset="0.8269" stop-color="#f08b5b"/><stop offset="0.8426" stop-color="#f07c5b"/><stop offset="0.8584" stop-color="#ef705c"/><stop offset="0.8752" stop-color="#ee6a60"/><stop offset="0.8919" stop-color="#ed6464"/></linearGradient><linearGradient id="hd7" gradientUnits="userSpaceOnUse" x1="311.0" x2="474.7" y1="0" y2="0"><stop offset="-0.3665" stop-color="#b0addb"/><stop offset="0.5424" stop-color="#b0addb"/><stop offset="0.5615" stop-color="#96a0c8"/><stop offset="0.5805" stop-color="#87a4bd"/><stop offset="0.6187" stop-color="#7ca8b4"/><stop offset="0.6569" stop-color="#7db0af"/><stop offset="0.6760" stop-color="#7eb7aa"/><stop offset="0.6951" stop-color="#85c0a7"/><stop offset="0.7106" stop-color="#91cba6"/><stop offset="0.7260" stop-color="#9dd5a4"/><stop offset="0.7371" stop-color="#b4e1a0"/><stop offset="0.7483" stop-color="#cdeb9b"/><stop offset="0.7599" stop-color="#e5f094"/><stop offset="0.7715" stop-color="#f2ec8a"/><stop offset="0.7810" stop-color="#f1d179"/><stop offset="0.7904" stop-color="#f1b96b"/><stop offset="0.8002" stop-color="#f1a361"/><stop offset="0.8100" stop-color="#f08b5b"/><stop offset="0.8256" stop-color="#f07c5b"/><stop offset="0.8412" stop-color="#ef705c"/><stop offset="0.8578" stop-color="#ee6a60"/><stop offset="0.8745" stop-color="#ed6464"/></linearGradient><linearGradient id="hd8" gradientUnits="userSpaceOnUse" x1="311.0" x2="474.7" y1="0" y2="0"><stop offset="-0.3665" stop-color="#b0addb"/><stop offset="0.5281" stop-color="#b0addb"/><stop offset="0.5470" stop-color="#96a0c8"/><stop offset="0.5659" stop-color="#87a4bd"/><stop offset="0.6038" stop-color="#7ca8b4"/><stop offset="0.6416" stop-color="#7db0af"/><stop offset="0.6605" stop-color="#7eb7aa"/><stop offset="0.6794" stop-color="#85c0a7"/><stop offset="0.6947" stop-color="#91cba6"/><stop offset="0.7100" stop-color="#9dd5a4"/><stop offset="0.7210" stop-color="#b4e1a0"/><stop offset="0.7320" stop-color="#cdeb9b"/><stop offset="0.7435" stop-color="#e5f094"/><stop offset="0.7550" stop-color="#f2ec8a"/><stop offset="0.7644" stop-color="#f1d179"/><stop offset="0.7738" stop-color="#f1b96b"/><stop offset="0.7835" stop-color="#f1a361"/><stop offset="0.7932" stop-color="#f08b5b"/><stop offset="0.8087" stop-color="#f07c5b"/><stop offset="0.8241" stop-color="#ef705c"/><stop offset="0.8406" stop-color="#ee6a60"/><stop offset="0.8570" stop-color="#ed6464"/></linearGradient><linearGradient id="hd9" gradientUnits="userSpaceOnUse" x1="311.0" x2="474.7" y1="0" y2="0"><stop offset="-0.3665" stop-color="#b0addb"/><stop offset="0.5139" stop-color="#b0addb"/><stop offset="0.5327" stop-color="#96a0c8"/><stop offset="0.5514" stop-color="#87a4bd"/><stop offset="0.5888" stop-color="#7ca8b4"/><stop offset="0.6263" stop-color="#7db0af"/><stop offset="0.6450" stop-color="#7eb7aa"/><stop offset="0.6637" stop-color="#85c0a7"/><stop offset="0.6789" stop-color="#91cba6"/><stop offset="0.6940" stop-color="#9dd5a4"/><stop offset="0.7049" stop-color="#b4e1a0"/><stop offset="0.7158" stop-color="#cdeb9b"/><stop offset="0.7272" stop-color="#e5f094"/><stop offset="0.7386" stop-color="#f2ec8a"/><stop offset="0.7479" stop-color="#f1d179"/><stop offset="0.7572" stop-color="#f1b96b"/><stop offset="0.7668" stop-color="#f1a361"/><stop offset="0.7764" stop-color="#f08b5b"/><stop offset="0.7917" stop-color="#f07c5b"/><stop offset="0.8070" stop-color="#ef705c"/><stop offset="0.8233" stop-color="#ee6a60"/><stop offset="0.8396" stop-color="#ed6464"/></linearGradient><linearGradient id="hd10" gradientUnits="userSpaceOnUse" x1="311.0" x2="474.7" y1="0" y2="0"><stop offset="-0.3665" stop-color="#b0addb"/><stop offset="0.4999" stop-color="#b0addb"/><stop offset="0.5184" stop-color="#96a0c8"/><stop offset="0.5369" stop-color="#87a4bd"/><stop offset="0.5740" stop-color="#7ca8b4"/><stop offset="0.6110" stop-color="#7db0af"/><stop offset="0.6296" stop-color="#7eb7aa"/><stop offset="0.6481" stop-color="#85c0a7"/><stop offset="0.6631" stop-color="#91cba6"/><stop offset="0.6781" stop-color="#9dd5a4"/><stop offset="0.6889" stop-color="#b4e1a0"/><stop offset="0.6997" stop-color="#cdeb9b"/><stop offset="0.7109" stop-color="#e5f094"/><stop offset="0.7222" stop-color="#f2ec8a"/><stop offset="0.7314" stop-color="#f1d179"/><stop offset="0.7406" stop-color="#f1b96b"/><stop offset="0.7501" stop-color="#f1a361"/><stop offset="0.7596" stop-color="#f08b5b"/><stop offset="0.7747" stop-color="#f07c5b"/><stop offset="0.7899" stop-color="#ef705c"/><stop offset="0.8060" stop-color="#ee6a60"/><stop offset="0.8221" stop-color="#ed6464"/></linearGradient><linearGradient id="hd11" gradientUnits="userSpaceOnUse" x1="311.0" x2="474.7" y1="0" y2="0"><stop offset="-0.3665" stop-color="#b0addb"/><stop offset="0.4860" stop-color="#b0addb"/><stop offset="0.5044" stop-color="#96a0c8"/><stop offset="0.5227" stop-color="#87a4bd"/><stop offset="0.5593" stop-color="#7ca8b4"/><stop offset="0.5959" stop-color="#7db0af"/><stop offset="0.6143" stop-color="#7eb7aa"/><stop offset="0.6326" stop-color="#85c0a7"/><stop offset="0.6474" stop-color="#91cba6"/><stop offset="0.6622" stop-color="#9dd5a4"/><stop offset="0.6729" stop-color="#b4e1a0"/><stop offset="0.6835" stop-color="#cdeb9b"/><stop offset="0.6947" stop-color="#e5f094"/><stop offset="0.7058" stop-color="#f2ec8a"/><stop offset="0.7149" stop-color="#f1d179"/><stop offset="0.7240" stop-color="#f1b96b"/><stop offset="0.7334" stop-color="#f1a361"/><stop offset="0.7428" stop-color="#f08b5b"/><stop offset="0.7578" stop-color="#f07c5b"/><stop offset="0.7727" stop-color="#ef705c"/><stop offset="0.7887" stop-color="#ee6a60"/><stop offset="0.8046" stop-color="#ed6464"/></linearGradient><linearGradient id="hd12" gradientUnits="userSpaceOnUse" x1="311.0" x2="474.7" y1="0" y2="0"><stop offset="-0.3665" stop-color="#b0addb"/><stop offset="0.4725" stop-color="#b0addb"/><stop offset="0.4906" stop-color="#96a0c8"/><stop offset="0.5086" stop-color="#87a4bd"/><stop offset="0.5448" stop-color="#7ca8b4"/><stop offset="0.5810" stop-color="#7db0af"/><stop offset="0.5991" stop-color="#7eb7aa"/><stop offset="0.6172" stop-color="#85c0a7"/><stop offset="0.6318" stop-color="#91cba6"/><stop offset="0.6464" stop-color="#9dd5a4"/><stop offset="0.6569" stop-color="#b4e1a0"/><stop offset="0.6675" stop-color="#cdeb9b"/><stop offset="0.6785" stop-color="#e5f094"/><stop offset="0.6895" stop-color="#f2ec8a"/><stop offset="0.6985" stop-color="#f1d179"/><stop offset="0.7074" stop-color="#f1b96b"/><stop offset="0.7167" stop-color="#f1a361"/><stop offset="0.7260" stop-color="#f08b5b"/><stop offset="0.7408" stop-color="#f07c5b"/><stop offset="0.7555" stop-color="#ef705c"/><stop offset="0.7713" stop-color="#ee6a60"/><stop offset="0.7870" stop-color="#ed6464"/></linearGradient><linearGradient id="hd13" gradientUnits="userSpaceOnUse" x1="311.0" x2="474.7" y1="0" y2="0"><stop offset="-0.3665" stop-color="#b0addb"/><stop offset="0.4593" stop-color="#b0addb"/><stop offset="0.4771" stop-color="#96a0c8"/><stop offset="0.4949" stop-color="#87a4bd"/><stop offset="0.5306" stop-color="#7ca8b4"/><stop offset="0.5662" stop-color="#7db0af"/><stop offset="0.5841" stop-color="#7eb7aa"/><stop offset="0.6019" stop-color="#85c0a7"/><stop offset="0.6163" stop-color="#91cba6"/><stop offset="0.6307" stop-color="#9dd5a4"/><stop offset="0.6411" stop-color="#b4e1a0"/><stop offset="0.6515" stop-color="#cdeb9b"/><stop offset="0.6623" stop-color="#e5f094"/><stop offset="0.6732" stop-color="#f2ec8a"/><stop offset="0.6820" stop-color="#f1d179"/><stop offset="0.6909" stop-color="#f1b96b"/><stop offset="0.7000" stop-color="#f1a361"/><stop offset="0.7091" stop-color="#f08b5b"/><stop offset="0.7237" stop-color="#f07c5b"/><stop offset="0.7383" stop-color="#ef705c"/><stop offset="0.7538" stop-color="#ee6a60"/><stop offset="0.7693" stop-color="#ed6464"/></linearGradient><linearGradient id="hd14" gradientUnits="userSpaceOnUse" x1="311.0" x2="474.7" y1="0" y2="0"><stop offset="-0.3665" stop-color="#b0addb"/><stop offset="0.4465" stop-color="#b0addb"/><stop offset="0.4641" stop-color="#96a0c8"/><stop offset="0.4816" stop-color="#87a4bd"/><stop offset="0.5167" stop-color="#7ca8b4"/><stop offset="0.5517" stop-color="#7db0af"/><stop offset="0.5692" stop-color="#7eb7aa"/><stop offset="0.5868" stop-color="#85c0a7"/><stop offset="0.6010" stop-color="#91cba6"/><stop offset="0.6151" stop-color="#9dd5a4"/><stop offset="0.6254" stop-color="#b4e1a0"/><stop offset="0.6356" stop-color="#cdeb9b"/><stop offset="0.6462" stop-color="#e5f094"/><stop offset="0.6569" stop-color="#f2ec8a"/><stop offset="0.6656" stop-color="#f1d179"/><stop offset="0.6743" stop-color="#f1b96b"/><stop offset="0.6833" stop-color="#f1a361"/><stop offset="0.6923" stop-color="#f08b5b"/><stop offset="0.7066" stop-color="#f07c5b"/><stop offset="0.7209" stop-color="#ef705c"/><stop offset="0.7362" stop-color="#ee6a60"/><stop offset="0.7514" stop-color="#ed6464"/></linearGradient><linearGradient id="hd15" gradientUnits="userSpaceOnUse" x1="311.0" x2="474.7" y1="0" y2="0"><stop offset="-0.3665" stop-color="#b0addb"/><stop offset="0.4341" stop-color="#b0addb"/><stop offset="0.4514" stop-color="#96a0c8"/><stop offset="0.4686" stop-color="#87a4bd"/><stop offset="0.5030" stop-color="#7ca8b4"/><stop offset="0.5374" stop-color="#7db0af"/><stop offset="0.5546" stop-color="#7eb7aa"/><stop offset="0.5718" stop-color="#85c0a7"/><stop offset="0.5857" stop-color="#91cba6"/><stop offset="0.5996" stop-color="#9dd5a4"/><stop offset="0.6097" stop-color="#b4e1a0"/><stop offset="0.6197" stop-color="#cdeb9b"/><stop offset="0.6302" stop-color="#e5f094"/><stop offset="0.6406" stop-color="#f2ec8a"/><stop offset="0.6492" stop-color="#f1d179"/><stop offset="0.6577" stop-color="#f1b96b"/><stop offset="0.6665" stop-color="#f1a361"/><stop offset="0.6754" stop-color="#f08b5b"/><stop offset="0.6894" stop-color="#f07c5b"/><stop offset="0.7035" stop-color="#ef705c"/><stop offset="0.7185" stop-color="#ee6a60"/><stop offset="0.7334" stop-color="#ed6464"/></linearGradient><linearGradient id="hd16" gradientUnits="userSpaceOnUse" x1="311.0" x2="474.7" y1="0" y2="0"><stop offset="-0.3665" stop-color="#b0addb"/><stop offset="0.4220" stop-color="#b0addb"/><stop offset="0.4389" stop-color="#96a0c8"/><stop offset="0.4558" stop-color="#87a4bd"/><stop offset="0.4895" stop-color="#7ca8b4"/><stop offset="0.5232" stop-color="#7db0af"/><stop offset="0.5401" stop-color="#7eb7aa"/><stop offset="0.5569" stop-color="#85c0a7"/><stop offset="0.5706" stop-color="#91cba6"/><stop offset="0.5842" stop-color="#9dd5a4"/><stop offset="0.5940" stop-color="#b4e1a0"/><stop offset="0.6038" stop-color="#cdeb9b"/><stop offset="0.6141" stop-color="#e5f094"/><stop offset="0.6244" stop-color="#f2ec8a"/><stop offset="0.6327" stop-color="#f1d179"/><stop offset="0.6411" stop-color="#f1b96b"/><stop offset="0.6497" stop-color="#f1a361"/><stop offset="0.6584" stop-color="#f08b5b"/><stop offset="0.6722" stop-color="#f07c5b"/><stop offset="0.6859" stop-color="#ef705c"/><stop offset="0.7006" stop-color="#ee6a60"/><stop offset="0.7153" stop-color="#ed6464"/></linearGradient><linearGradient id="hd17" gradientUnits="userSpaceOnUse" x1="311.0" x2="474.7" y1="0" y2="0"><stop offset="-0.3665" stop-color="#b0addb"/><stop offset="0.4101" stop-color="#b0addb"/><stop offset="0.4266" stop-color="#96a0c8"/><stop offset="0.4431" stop-color="#87a4bd"/><stop offset="0.4761" stop-color="#7ca8b4"/><stop offset="0.5091" stop-color="#7db0af"/><stop offset="0.5256" stop-color="#7eb7aa"/><stop offset="0.5421" stop-color="#85c0a7"/><stop offset="0.5554" stop-color="#91cba6"/><stop offset="0.5687" stop-color="#9dd5a4"/><stop offset="0.5784" stop-color="#b4e1a0"/><stop offset="0.5880" stop-color="#cdeb9b"/><stop offset="0.5980" stop-color="#e5f094"/><stop offset="0.6081" stop-color="#f2ec8a"/><stop offset="0.6162" stop-color="#f1d179"/><stop offset="0.6244" stop-color="#f1b96b"/><stop offset="0.6329" stop-color="#f1a361"/><stop offset="0.6413" stop-color="#f08b5b"/><stop offset="0.6548" stop-color="#f07c5b"/><stop offset="0.6683" stop-color="#ef705c"/><stop offset="0.6827" stop-color="#ee6a60"/><stop offset="0.6970" stop-color="#ed6464"/></linearGradient><linearGradient id="hd18" gradientUnits="userSpaceOnUse" x1="311.0" x2="474.7" y1="0" y2="0"><stop offset="-0.3665" stop-color="#b0addb"/><stop offset="0.3981" stop-color="#b0addb"/><stop offset="0.4142" stop-color="#96a0c8"/><stop offset="0.4304" stop-color="#87a4bd"/><stop offset="0.4626" stop-color="#7ca8b4"/><stop offset="0.4949" stop-color="#7db0af"/><stop offset="0.5110" stop-color="#7eb7aa"/><stop offset="0.5272" stop-color="#85c0a7"/><stop offset="0.5402" stop-color="#91cba6"/><stop offset="0.5532" stop-color="#9dd5a4"/><stop offset="0.5626" stop-color="#b4e1a0"/><stop offset="0.5720" stop-color="#cdeb9b"/><stop offset="0.5819" stop-color="#e5f094"/><stop offset="0.5917" stop-color="#f2ec8a"/><stop offset="0.5997" stop-color="#f1d179"/><stop offset="0.6077" stop-color="#f1b96b"/><stop offset="0.6159" stop-color="#f1a361"/><stop offset="0.6242" stop-color="#f08b5b"/><stop offset="0.6374" stop-color="#f07c5b"/><stop offset="0.6506" stop-color="#ef705c"/><stop offset="0.6646" stop-color="#ee6a60"/><stop offset="0.6786" stop-color="#ed6464"/></linearGradient><linearGradient id="hd19" gradientUnits="userSpaceOnUse" x1="311.0" x2="474.7" y1="0" y2="0"><stop offset="-0.3665" stop-color="#b0addb"/><stop offset="0.3861" stop-color="#b0addb"/><stop offset="0.4019" stop-color="#96a0c8"/><stop offset="0.4176" stop-color="#87a4bd"/><stop offset="0.4491" stop-color="#7ca8b4"/><stop offset="0.4807" stop-color="#7db0af"/><stop offset="0.4964" stop-color="#7eb7aa"/><stop offset="0.5122" stop-color="#85c0a7"/><stop offset="0.5249" stop-color="#91cba6"/><stop offset="0.5377" stop-color="#9dd5a4"/><stop offset="0.5468" stop-color="#b4e1a0"/><stop offset="0.5560" stop-color="#cdeb9b"/><stop offset="0.5656" stop-color="#e5f094"/><stop offset="0.5752" stop-color="#f2ec8a"/><stop offset="0.5830" stop-color="#f1d179"/><stop offset="0.5908" stop-color="#f1b96b"/><stop offset="0.5989" stop-color="#f1a361"/><stop offset="0.6070" stop-color="#f08b5b"/><stop offset="0.6199" stop-color="#f07c5b"/><stop offset="0.6328" stop-color="#ef705c"/><stop offset="0.6465" stop-color="#ee6a60"/><stop offset="0.6602" stop-color="#ed6464"/></linearGradient><linearGradient id="hd20" gradientUnits="userSpaceOnUse" x1="311.0" x2="474.7" y1="0" y2="0"><stop offset="-0.3665" stop-color="#b0addb"/><stop offset="0.3739" stop-color="#b0addb"/><stop offset="0.3893" stop-color="#96a0c8"/><stop offset="0.4047" stop-color="#87a4bd"/><stop offset="0.4355" stop-color="#7ca8b4"/><stop offset="0.4662" stop-color="#7db0af"/><stop offset="0.4816" stop-color="#7eb7aa"/><stop offset="0.4970" stop-color="#85c0a7"/><stop offset="0.5095" stop-color="#91cba6"/><stop offset="0.5219" stop-color="#9dd5a4"/><stop offset="0.5309" stop-color="#b4e1a0"/><stop offset="0.5398" stop-color="#cdeb9b"/><stop offset="0.5492" stop-color="#e5f094"/><stop offset="0.5586" stop-color="#f2ec8a"/><stop offset="0.5662" stop-color="#f1d179"/><stop offset="0.5738" stop-color="#f1b96b"/><stop offset="0.5817" stop-color="#f1a361"/><stop offset="0.5896" stop-color="#f08b5b"/><stop offset="0.6022" stop-color="#f07c5b"/><stop offset="0.6148" stop-color="#ef705c"/><stop offset="0.6282" stop-color="#ee6a60"/><stop offset="0.6415" stop-color="#ed6464"/></linearGradient><linearGradient id="hd21" gradientUnits="userSpaceOnUse" x1="311.0" x2="474.7" y1="0" y2="0"><stop offset="-0.3665" stop-color="#b0addb"/><stop offset="0.3614" stop-color="#b0addb"/><stop offset="0.3764" stop-color="#96a0c8"/><stop offset="0.3915" stop-color="#87a4bd"/><stop offset="0.4215" stop-color="#7ca8b4"/><stop offset="0.4516" stop-color="#7db0af"/><stop offset="0.4666" stop-color="#7eb7aa"/><stop offset="0.4816" stop-color="#85c0a7"/><stop offset="0.4938" stop-color="#91cba6"/><stop offset="0.5059" stop-color="#9dd5a4"/><stop offset="0.5147" stop-color="#b4e1a0"/><stop offset="0.5235" stop-color="#cdeb9b"/><stop offset="0.5326" stop-color="#e5f094"/><stop offset="0.5418" stop-color="#f2ec8a"/><stop offset="0.5492" stop-color="#f1d179"/><stop offset="0.5567" stop-color="#f1b96b"/><stop offset="0.5644" stop-color="#f1a361"/><stop offset="0.5721" stop-color="#f08b5b"/><stop offset="0.5844" stop-color="#f07c5b"/><stop offset="0.5966" stop-color="#ef705c"/><stop offset="0.6097" stop-color="#ee6a60"/><stop offset="0.6228" stop-color="#ed6464"/></linearGradient><linearGradient id="hd22" gradientUnits="userSpaceOnUse" x1="311.0" x2="474.7" y1="0" y2="0"><stop offset="-0.3665" stop-color="#b0addb"/><stop offset="0.3485" stop-color="#b0addb"/><stop offset="0.3632" stop-color="#96a0c8"/><stop offset="0.3779" stop-color="#87a4bd"/><stop offset="0.4072" stop-color="#7ca8b4"/><stop offset="0.4366" stop-color="#7db0af"/><stop offset="0.4513" stop-color="#7eb7aa"/><stop offset="0.4660" stop-color="#85c0a7"/><stop offset="0.4778" stop-color="#91cba6"/><stop offset="0.4897" stop-color="#9dd5a4"/><stop offset="0.4983" stop-color="#b4e1a0"/><stop offset="0.5068" stop-color="#cdeb9b"/><stop offset="0.5158" stop-color="#e5f094"/><stop offset="0.5247" stop-color="#f2ec8a"/><stop offset="0.5320" stop-color="#f1d179"/><stop offset="0.5393" stop-color="#f1b96b"/><stop offset="0.5468" stop-color="#f1a361"/><stop offset="0.5543" stop-color="#f08b5b"/><stop offset="0.5663" stop-color="#f07c5b"/><stop offset="0.5783" stop-color="#ef705c"/><stop offset="0.5911" stop-color="#ee6a60"/><stop offset="0.6039" stop-color="#ed6464"/></linearGradient><linearGradient id="hd23" gradientUnits="userSpaceOnUse" x1="311.0" x2="474.7" y1="0" y2="0"><stop offset="-0.3665" stop-color="#b0addb"/><stop offset="0.3352" stop-color="#b0addb"/><stop offset="0.3495" stop-color="#96a0c8"/><stop offset="0.3639" stop-color="#87a4bd"/><stop offset="0.3926" stop-color="#7ca8b4"/><stop offset="0.4213" stop-color="#7db0af"/><stop offset="0.4356" stop-color="#7eb7aa"/><stop offset="0.4500" stop-color="#85c0a7"/><stop offset="0.4616" stop-color="#91cba6"/><stop offset="0.4732" stop-color="#9dd5a4"/><stop offset="0.4816" stop-color="#b4e1a0"/><stop offset="0.4899" stop-color="#cdeb9b"/><stop offset="0.4987" stop-color="#e5f094"/><stop offset="0.5074" stop-color="#f2ec8a"/><stop offset="0.5145" stop-color="#f1d179"/><stop offset="0.5216" stop-color="#f1b96b"/><stop offset="0.5290" stop-color="#f1a361"/><stop offset="0.5364" stop-color="#f08b5b"/><stop offset="0.5481" stop-color="#f07c5b"/><stop offset="0.5598" stop-color="#ef705c"/><stop offset="0.5723" stop-color="#ee6a60"/><stop offset="0.5848" stop-color="#ed6464"/></linearGradient><linearGradient id="hd24" gradientUnits="userSpaceOnUse" x1="311.0" x2="474.7" y1="0" y2="0"><stop offset="-0.3665" stop-color="#b0addb"/><stop offset="0.3215" stop-color="#b0addb"/><stop offset="0.3355" stop-color="#96a0c8"/><stop offset="0.3495" stop-color="#87a4bd"/><stop offset="0.3776" stop-color="#7ca8b4"/><stop offset="0.4057" stop-color="#7db0af"/><stop offset="0.4197" stop-color="#7eb7aa"/><stop offset="0.4337" stop-color="#85c0a7"/><stop offset="0.4451" stop-color="#91cba6"/><stop offset="0.4564" stop-color="#9dd5a4"/><stop offset="0.4646" stop-color="#b4e1a0"/><stop offset="0.4728" stop-color="#cdeb9b"/><stop offset="0.4813" stop-color="#e5f094"/><stop offset="0.4898" stop-color="#f2ec8a"/><stop offset="0.4968" stop-color="#f1d179"/><stop offset="0.5037" stop-color="#f1b96b"/><stop offset="0.5109" stop-color="#f1a361"/><stop offset="0.5181" stop-color="#f08b5b"/><stop offset="0.5296" stop-color="#f07c5b"/><stop offset="0.5411" stop-color="#ef705c"/><stop offset="0.5533" stop-color="#ee6a60"/><stop offset="0.5655" stop-color="#ed6464"/></linearGradient><linearGradient id="hd25" gradientUnits="userSpaceOnUse" x1="311.0" x2="474.7" y1="0" y2="0"><stop offset="-0.3665" stop-color="#b0addb"/><stop offset="0.3074" stop-color="#b0addb"/><stop offset="0.3211" stop-color="#96a0c8"/><stop offset="0.3348" stop-color="#87a4bd"/><stop offset="0.3622" stop-color="#7ca8b4"/><stop offset="0.3896" stop-color="#7db0af"/><stop offset="0.4032" stop-color="#7eb7aa"/><stop offset="0.4169" stop-color="#85c0a7"/><stop offset="0.4280" stop-color="#91cba6"/><stop offset="0.4391" stop-color="#9dd5a4"/><stop offset="0.4470" stop-color="#b4e1a0"/><stop offset="0.4550" stop-color="#cdeb9b"/><stop offset="0.4634" stop-color="#e5f094"/><stop offset="0.4717" stop-color="#f2ec8a"/><stop offset="0.4785" stop-color="#f1d179"/><stop offset="0.4853" stop-color="#f1b96b"/><stop offset="0.4923" stop-color="#f1a361"/><stop offset="0.4993" stop-color="#f08b5b"/><stop offset="0.5105" stop-color="#f07c5b"/><stop offset="0.5217" stop-color="#ef705c"/><stop offset="0.5336" stop-color="#ee6a60"/><stop offset="0.5455" stop-color="#ed6464"/></linearGradient><linearGradient id="hd26" gradientUnits="userSpaceOnUse" x1="311.0" x2="474.7" y1="0" y2="0"><stop offset="-0.3665" stop-color="#b0addb"/><stop offset="0.2931" stop-color="#b0addb"/><stop offset="0.3064" stop-color="#96a0c8"/><stop offset="0.3197" stop-color="#87a4bd"/><stop offset="0.3464" stop-color="#7ca8b4"/><stop offset="0.3731" stop-color="#7db0af"/><stop offset="0.3864" stop-color="#7eb7aa"/><stop offset="0.3998" stop-color="#85c0a7"/><stop offset="0.4105" stop-color="#91cba6"/><stop offset="0.4213" stop-color="#9dd5a4"/><stop offset="0.4291" stop-color="#b4e1a0"/><stop offset="0.4369" stop-color="#cdeb9b"/><stop offset="0.4450" stop-color="#e5f094"/><stop offset="0.4531" stop-color="#f2ec8a"/><stop offset="0.4597" stop-color="#f1d179"/><stop offset="0.4663" stop-color="#f1b96b"/><stop offset="0.4732" stop-color="#f1a361"/><stop offset="0.4800" stop-color="#f08b5b"/><stop offset="0.4909" stop-color="#f07c5b"/><stop offset="0.5018" stop-color="#ef705c"/><stop offset="0.5134" stop-color="#ee6a60"/><stop offset="0.5250" stop-color="#ed6464"/></linearGradient><linearGradient id="hd27" gradientUnits="userSpaceOnUse" x1="311.0" x2="474.7" y1="0" y2="0"><stop offset="-0.3665" stop-color="#b0addb"/><stop offset="0.2786" stop-color="#b0addb"/><stop offset="0.2916" stop-color="#96a0c8"/><stop offset="0.3045" stop-color="#87a4bd"/><stop offset="0.3305" stop-color="#7ca8b4"/><stop offset="0.3565" stop-color="#7db0af"/><stop offset="0.3694" stop-color="#7eb7aa"/><stop offset="0.3824" stop-color="#85c0a7"/><stop offset="0.3929" stop-color="#91cba6"/><stop offset="0.4034" stop-color="#9dd5a4"/><stop offset="0.4110" stop-color="#b4e1a0"/><stop offset="0.4185" stop-color="#cdeb9b"/><stop offset="0.4264" stop-color="#e5f094"/><stop offset="0.4343" stop-color="#f2ec8a"/><stop offset="0.4408" stop-color="#f1d179"/><stop offset="0.4472" stop-color="#f1b96b"/><stop offset="0.4539" stop-color="#f1a361"/><stop offset="0.4605" stop-color="#f08b5b"/><stop offset="0.4711" stop-color="#f07c5b"/><stop offset="0.4817" stop-color="#ef705c"/><stop offset="0.4930" stop-color="#ee6a60"/><stop offset="0.5043" stop-color="#ed6464"/></linearGradient><linearGradient id="hd28" gradientUnits="userSpaceOnUse" x1="311.0" x2="474.7" y1="0" y2="0"><stop offset="-0.3665" stop-color="#b0addb"/><stop offset="0.2633" stop-color="#b0addb"/><stop offset="0.2760" stop-color="#96a0c8"/><stop offset="0.2886" stop-color="#87a4bd"/><stop offset="0.3140" stop-color="#7ca8b4"/><stop offset="0.3393" stop-color="#7db0af"/><stop offset="0.3520" stop-color="#7eb7aa"/><stop offset="0.3647" stop-color="#85c0a7"/><stop offset="0.3749" stop-color="#91cba6"/><stop offset="0.3852" stop-color="#9dd5a4"/><stop offset="0.3925" stop-color="#b4e1a0"/><stop offset="0.3999" stop-color="#cdeb9b"/><stop offset="0.4076" stop-color="#e5f094"/><stop offset="0.4153" stop-color="#f2ec8a"/><stop offset="0.4216" stop-color="#f1d179"/><stop offset="0.4279" stop-color="#f1b96b"/><stop offset="0.4344" stop-color="#f1a361"/><stop offset="0.4409" stop-color="#f08b5b"/><stop offset="0.4513" stop-color="#f07c5b"/><stop offset="0.4616" stop-color="#ef705c"/><stop offset="0.4726" stop-color="#ee6a60"/><stop offset="0.4836" stop-color="#ed6464"/></linearGradient><linearGradient id="hd29" gradientUnits="userSpaceOnUse" x1="311.0" x2="474.7" y1="0" y2="0"><stop offset="-0.3665" stop-color="#b0addb"/><stop offset="0.2462" stop-color="#b0addb"/><stop offset="0.2587" stop-color="#96a0c8"/><stop offset="0.2712" stop-color="#87a4bd"/><stop offset="0.2961" stop-color="#7ca8b4"/><stop offset="0.3211" stop-color="#7db0af"/><stop offset="0.3336" stop-color="#7eb7aa"/><stop offset="0.3461" stop-color="#85c0a7"/><stop offset="0.3562" stop-color="#91cba6"/><stop offset="0.3663" stop-color="#9dd5a4"/><stop offset="0.3735" stop-color="#b4e1a0"/><stop offset="0.3808" stop-color="#cdeb9b"/><stop offset="0.3884" stop-color="#e5f094"/><stop offset="0.3960" stop-color="#f2ec8a"/><stop offset="0.4022" stop-color="#f1d179"/><stop offset="0.4084" stop-color="#f1b96b"/><stop offset="0.4148" stop-color="#f1a361"/><stop offset="0.4212" stop-color="#f08b5b"/><stop offset="0.4314" stop-color="#f07c5b"/><stop offset="0.4416" stop-color="#ef705c"/><stop offset="0.4525" stop-color="#ee6a60"/><stop offset="0.4633" stop-color="#ed6464"/></linearGradient><linearGradient id="hd30" gradientUnits="userSpaceOnUse" x1="311.0" x2="474.7" y1="0" y2="0"><stop offset="-0.3665" stop-color="#b0addb"/><stop offset="0.2274" stop-color="#b0addb"/><stop offset="0.2399" stop-color="#96a0c8"/><stop offset="0.2523" stop-color="#87a4bd"/><stop offset="0.2771" stop-color="#7ca8b4"/><stop offset="0.3020" stop-color="#7db0af"/><stop offset="0.3144" stop-color="#7eb7aa"/><stop offset="0.3268" stop-color="#85c0a7"/><stop offset="0.3369" stop-color="#91cba6"/><stop offset="0.3469" stop-color="#9dd5a4"/><stop offset="0.3542" stop-color="#b4e1a0"/><stop offset="0.3614" stop-color="#cdeb9b"/><stop offset="0.3690" stop-color="#e5f094"/><stop offset="0.3766" stop-color="#f2ec8a"/><stop offset="0.3827" stop-color="#f1d179"/><stop offset="0.3889" stop-color="#f1b96b"/><stop offset="0.3952" stop-color="#f1a361"/><stop offset="0.4016" stop-color="#f08b5b"/><stop offset="0.4118" stop-color="#f07c5b"/><stop offset="0.4219" stop-color="#ef705c"/><stop offset="0.4327" stop-color="#ee6a60"/><stop offset="0.4435" stop-color="#ed6464"/></linearGradient><linearGradient id="hd31" gradientUnits="userSpaceOnUse" x1="311.0" x2="474.7" y1="0" y2="0"><stop offset="-0.3665" stop-color="#b0addb"/><stop offset="0.2067" stop-color="#b0addb"/><stop offset="0.2193" stop-color="#96a0c8"/><stop offset="0.2318" stop-color="#87a4bd"/><stop offset="0.2568" stop-color="#7ca8b4"/><stop offset="0.2819" stop-color="#7db0af"/><stop offset="0.2944" stop-color="#7eb7aa"/><stop offset="0.3070" stop-color="#85c0a7"/><stop offset="0.3171" stop-color="#91cba6"/><stop offset="0.3272" stop-color="#9dd5a4"/><stop offset="0.3345" stop-color="#b4e1a0"/><stop offset="0.3418" stop-color="#cdeb9b"/><stop offset="0.3495" stop-color="#e5f094"/><stop offset="0.3571" stop-color="#f2ec8a"/><stop offset="0.3633" stop-color="#f1d179"/><stop offset="0.3695" stop-color="#f1b96b"/><stop offset="0.3759" stop-color="#f1a361"/><stop offset="0.3824" stop-color="#f08b5b"/><stop offset="0.3926" stop-color="#f07c5b"/><stop offset="0.4028" stop-color="#ef705c"/><stop offset="0.4137" stop-color="#ee6a60"/><stop offset="0.4246" stop-color="#ed6464"/></linearGradient><linearGradient id="hd32" gradientUnits="userSpaceOnUse" x1="311.0" x2="474.7" y1="0" y2="0"><stop offset="-0.3665" stop-color="#b0addb"/><stop offset="0.1834" stop-color="#b0addb"/><stop offset="0.1962" stop-color="#96a0c8"/><stop offset="0.2091" stop-color="#87a4bd"/><stop offset="0.2348" stop-color="#7ca8b4"/><stop offset="0.2605" stop-color="#7db0af"/><stop offset="0.2733" stop-color="#7eb7aa"/><stop offset="0.2862" stop-color="#85c0a7"/><stop offset="0.2966" stop-color="#91cba6"/><stop offset="0.3069" stop-color="#9dd5a4"/><stop offset="0.3144" stop-color="#b4e1a0"/><stop offset="0.3219" stop-color="#cdeb9b"/><stop offset="0.3297" stop-color="#e5f094"/><stop offset="0.3376" stop-color="#f2ec8a"/><stop offset="0.3439" stop-color="#f1d179"/><stop offset="0.3503" stop-color="#f1b96b"/><stop offset="0.3569" stop-color="#f1a361"/><stop offset="0.3635" stop-color="#f08b5b"/><stop offset="0.3740" stop-color="#f07c5b"/><stop offset="0.3845" stop-color="#ef705c"/><stop offset="0.3956" stop-color="#ee6a60"/><stop offset="0.4068" stop-color="#ed6464"/></linearGradient><linearGradient id="hd33" gradientUnits="userSpaceOnUse" x1="311.0" x2="474.7" y1="0" y2="0"><stop offset="-0.3665" stop-color="#b0addb"/><stop offset="0.1568" stop-color="#b0addb"/><stop offset="0.1702" stop-color="#96a0c8"/><stop offset="0.1836" stop-color="#87a4bd"/><stop offset="0.2104" stop-color="#7ca8b4"/><stop offset="0.2372" stop-color="#7db0af"/><stop offset="0.2506" stop-color="#7eb7aa"/><stop offset="0.2640" stop-color="#85c0a7"/><stop offset="0.2749" stop-color="#91cba6"/><stop offset="0.2857" stop-color="#9dd5a4"/><stop offset="0.2935" stop-color="#b4e1a0"/><stop offset="0.3013" stop-color="#cdeb9b"/><stop offset="0.3095" stop-color="#e5f094"/><stop offset="0.3176" stop-color="#f2ec8a"/><stop offset="0.3243" stop-color="#f1d179"/><stop offset="0.3309" stop-color="#f1b96b"/><stop offset="0.3378" stop-color="#f1a361"/><stop offset="0.3447" stop-color="#f08b5b"/><stop offset="0.3556" stop-color="#f07c5b"/><stop offset="0.3666" stop-color="#ef705c"/><stop offset="0.3782" stop-color="#ee6a60"/><stop offset="0.3899" stop-color="#ed6464"/></linearGradient><linearGradient id="hd34" gradientUnits="userSpaceOnUse" x1="311.0" x2="474.7" y1="0" y2="0"><stop offset="-0.3665" stop-color="#b0addb"/><stop offset="0.1250" stop-color="#b0addb"/><stop offset="0.1393" stop-color="#96a0c8"/><stop offset="0.1535" stop-color="#87a4bd"/><stop offset="0.1821" stop-color="#7ca8b4"/><stop offset="0.2107" stop-color="#7db0af"/><stop offset="0.2250" stop-color="#7eb7aa"/><stop offset="0.2393" stop-color="#85c0a7"/><stop offset="0.2509" stop-color="#91cba6"/><stop offset="0.2625" stop-color="#9dd5a4"/><stop offset="0.2708" stop-color="#b4e1a0"/><stop offset="0.2791" stop-color="#cdeb9b"/><stop offset="0.2878" stop-color="#e5f094"/><stop offset="0.2965" stop-color="#f2ec8a"/><stop offset="0.3036" stop-color="#f1d179"/><stop offset="0.3107" stop-color="#f1b96b"/><stop offset="0.3180" stop-color="#f1a361"/><stop offset="0.3254" stop-color="#f08b5b"/><stop offset="0.3370" stop-color="#f07c5b"/><stop offset="0.3487" stop-color="#ef705c"/><stop offset="0.3612" stop-color="#ee6a60"/><stop offset="0.3736" stop-color="#ed6464"/></linearGradient><linearGradient id="hd35" gradientUnits="userSpaceOnUse" x1="311.0" x2="474.7" y1="0" y2="0"><stop offset="-0.3665" stop-color="#b0addb"/><stop offset="0.0875" stop-color="#b0addb"/><stop offset="0.1030" stop-color="#96a0c8"/><stop offset="0.1185" stop-color="#87a4bd"/><stop offset="0.1496" stop-color="#7ca8b4"/><stop offset="0.1807" stop-color="#7db0af"/><stop offset="0.1963" stop-color="#7eb7aa"/><stop offset="0.2118" stop-color="#85c0a7"/><stop offset="0.2244" stop-color="#91cba6"/><stop offset="0.2370" stop-color="#9dd5a4"/><stop offset="0.2460" stop-color="#b4e1a0"/><stop offset="0.2551" stop-color="#cdeb9b"/><stop offset="0.2645" stop-color="#e5f094"/><stop offset="0.2740" stop-color="#f2ec8a"/><stop offset="0.2817" stop-color="#f1d179"/><stop offset="0.2894" stop-color="#f1b96b"/><stop offset="0.2974" stop-color="#f1a361"/><stop offset="0.3054" stop-color="#f08b5b"/><stop offset="0.3181" stop-color="#f07c5b"/><stop offset="0.3308" stop-color="#ef705c"/><stop offset="0.3443" stop-color="#ee6a60"/><stop offset="0.3578" stop-color="#ed6464"/></linearGradient><linearGradient id="hd36" gradientUnits="userSpaceOnUse" x1="311.0" x2="474.7" y1="0" y2="0"><stop offset="-0.3665" stop-color="#b0addb"/><stop offset="0.0555" stop-color="#b0addb"/><stop offset="0.0720" stop-color="#96a0c8"/><stop offset="0.0885" stop-color="#87a4bd"/><stop offset="0.1215" stop-color="#7ca8b4"/><stop offset="0.1545" stop-color="#7db0af"/><stop offset="0.1710" stop-color="#7eb7aa"/><stop offset="0.1875" stop-color="#85c0a7"/><stop offset="0.2008" stop-color="#91cba6"/><stop offset="0.2141" stop-color="#9dd5a4"/><stop offset="0.2237" stop-color="#b4e1a0"/><stop offset="0.2334" stop-color="#cdeb9b"/><stop offset="0.2434" stop-color="#e5f094"/><stop offset="0.2534" stop-color="#f2ec8a"/><stop offset="0.2616" stop-color="#f1d179"/><stop offset="0.2698" stop-color="#f1b96b"/><stop offset="0.2782" stop-color="#f1a361"/><stop offset="0.2867" stop-color="#f08b5b"/><stop offset="0.3002" stop-color="#f07c5b"/><stop offset="0.3137" stop-color="#ef705c"/><stop offset="0.3280" stop-color="#ee6a60"/><stop offset="0.3423" stop-color="#ed6464"/></linearGradient><linearGradient id="hd37" gradientUnits="userSpaceOnUse" x1="311.0" x2="474.7" y1="0" y2="0"><stop offset="-0.3665" stop-color="#b0addb"/><stop offset="0.0325" stop-color="#b0addb"/><stop offset="0.0495" stop-color="#96a0c8"/><stop offset="0.0664" stop-color="#87a4bd"/><stop offset="0.1003" stop-color="#7ca8b4"/><stop offset="0.1341" stop-color="#7db0af"/><stop offset="0.1510" stop-color="#7eb7aa"/><stop offset="0.1680" stop-color="#85c0a7"/><stop offset="0.1817" stop-color="#91cba6"/><stop offset="0.1954" stop-color="#9dd5a4"/><stop offset="0.2052" stop-color="#b4e1a0"/><stop offset="0.2151" stop-color="#cdeb9b"/><stop offset="0.2254" stop-color="#e5f094"/><stop offset="0.2357" stop-color="#f2ec8a"/><stop offset="0.2441" stop-color="#f1d179"/><stop offset="0.2525" stop-color="#f1b96b"/><stop offset="0.2612" stop-color="#f1a361"/><stop offset="0.2699" stop-color="#f08b5b"/><stop offset="0.2837" stop-color="#f07c5b"/><stop offset="0.2976" stop-color="#ef705c"/><stop offset="0.3123" stop-color="#ee6a60"/><stop offset="0.3270" stop-color="#ed6464"/></linearGradient><linearGradient id="hd38" gradientUnits="userSpaceOnUse" x1="311.0" x2="474.7" y1="0" y2="0"><stop offset="-0.3665" stop-color="#b0addb"/><stop offset="0.0169" stop-color="#b0addb"/><stop offset="0.0338" stop-color="#96a0c8"/><stop offset="0.0508" stop-color="#87a4bd"/><stop offset="0.0847" stop-color="#7ca8b4"/><stop offset="0.1186" stop-color="#7db0af"/><stop offset="0.1355" stop-color="#7eb7aa"/><stop offset="0.1525" stop-color="#85c0a7"/><stop offset="0.1662" stop-color="#91cba6"/><stop offset="0.1799" stop-color="#9dd5a4"/><stop offset="0.1898" stop-color="#b4e1a0"/><stop offset="0.1996" stop-color="#cdeb9b"/><stop offset="0.2099" stop-color="#e5f094"/><stop offset="0.2203" stop-color="#f2ec8a"/><stop offset="0.2287" stop-color="#f1d179"/><stop offset="0.2371" stop-color="#f1b96b"/><stop offset="0.2458" stop-color="#f1a361"/><stop offset="0.2545" stop-color="#f08b5b"/><stop offset="0.2683" stop-color="#f07c5b"/><stop offset="0.2822" stop-color="#ef705c"/><stop offset="0.2969" stop-color="#ee6a60"/><stop offset="0.3116" stop-color="#ed6464"/></linearGradient><linearGradient id="hd39" gradientUnits="userSpaceOnUse" x1="311.0" x2="474.7" y1="0" y2="0"><stop offset="-0.3665" stop-color="#b0addb"/><stop offset="0.0012" stop-color="#b0addb"/><stop offset="0.0182" stop-color="#96a0c8"/><stop offset="0.0351" stop-color="#87a4bd"/><stop offset="0.0690" stop-color="#7ca8b4"/><stop offset="0.1029" stop-color="#7db0af"/><stop offset="0.1199" stop-color="#7eb7aa"/><stop offset="0.1368" stop-color="#85c0a7"/><stop offset="0.1505" stop-color="#91cba6"/><stop offset="0.1643" stop-color="#9dd5a4"/><stop offset="0.1741" stop-color="#b4e1a0"/><stop offset="0.1840" stop-color="#cdeb9b"/><stop offset="0.1943" stop-color="#e5f094"/><stop offset="0.2047" stop-color="#f2ec8a"/><stop offset="0.2131" stop-color="#f1d179"/><stop offset="0.2215" stop-color="#f1b96b"/><stop offset="0.2302" stop-color="#f1a361"/><stop offset="0.2389" stop-color="#f08b5b"/><stop offset="0.2527" stop-color="#f07c5b"/><stop offset="0.2666" stop-color="#ef705c"/><stop offset="0.2813" stop-color="#ee6a60"/><stop offset="0.2961" stop-color="#ed6464"/></linearGradient><linearGradient id="hd40" gradientUnits="userSpaceOnUse" x1="311.0" x2="474.7" y1="0" y2="0"><stop offset="-0.3665" stop-color="#b0addb"/><stop offset="-0.0175" stop-color="#b0addb"/><stop offset="-0.0004" stop-color="#96a0c8"/><stop offset="0.0167" stop-color="#87a4bd"/><stop offset="0.0510" stop-color="#7ca8b4"/><stop offset="0.0852" stop-color="#7db0af"/><stop offset="0.1023" stop-color="#7eb7aa"/><stop offset="0.1194" stop-color="#85c0a7"/><stop offset="0.1333" stop-color="#91cba6"/><stop offset="0.1471" stop-color="#9dd5a4"/><stop offset="0.1571" stop-color="#b4e1a0"/><stop offset="0.1670" stop-color="#cdeb9b"/><stop offset="0.1774" stop-color="#e5f094"/><stop offset="0.1879" stop-color="#f2ec8a"/><stop offset="0.1963" stop-color="#f1d179"/><stop offset="0.2048" stop-color="#f1b96b"/><stop offset="0.2136" stop-color="#f1a361"/><stop offset="0.2224" stop-color="#f08b5b"/><stop offset="0.2364" stop-color="#f07c5b"/><stop offset="0.2504" stop-color="#ef705c"/><stop offset="0.2652" stop-color="#ee6a60"/><stop offset="0.2801" stop-color="#ed6464"/></linearGradient></defs><g shape-rendering="crispEdges"><rect x="311.0" y="338.00" width="163.7" height="3.24" fill="url(#hd0)"/><rect x="311.0" y="340.44" width="163.7" height="3.24" fill="url(#hd1)"/><rect x="311.0" y="342.89" width="163.7" height="3.24" fill="url(#hd2)"/><rect x="311.0" y="345.33" width="163.7" height="3.24" fill="url(#hd3)"/><rect x="311.0" y="347.78" width="163.7" height="3.24" fill="url(#hd4)"/><rect x="311.0" y="350.22" width="163.7" height="3.24" fill="url(#hd5)"/><rect x="311.0" y="352.66" width="163.7" height="3.24" fill="url(#hd6)"/><rect x="311.0" y="355.11" width="163.7" height="3.24" fill="url(#hd7)"/><rect x="311.0" y="357.55" width="163.7" height="3.24" fill="url(#hd8)"/><rect x="311.0" y="360.00" width="163.7" height="3.24" fill="url(#hd9)"/><rect x="311.0" y="362.44" width="163.7" height="3.24" fill="url(#hd10)"/><rect x="311.0" y="364.88" width="163.7" height="3.24" fill="url(#hd11)"/><rect x="311.0" y="367.33" width="163.7" height="3.24" fill="url(#hd12)"/><rect x="311.0" y="369.77" width="163.7" height="3.24" fill="url(#hd13)"/><rect x="311.0" y="372.21" width="163.7" height="3.24" fill="url(#hd14)"/><rect x="311.0" y="374.66" width="163.7" height="3.24" fill="url(#hd15)"/><rect x="311.0" y="377.10" width="163.7" height="3.24" fill="url(#hd16)"/><rect x="311.0" y="379.55" width="163.7" height="3.24" fill="url(#hd17)"/><rect x="311.0" y="381.99" width="163.7" height="3.24" fill="url(#hd18)"/><rect x="311.0" y="384.43" width="163.7" height="3.24" fill="url(#hd19)"/><rect x="311.0" y="386.88" width="163.7" height="3.24" fill="url(#hd20)"/><rect x="311.0" y="389.32" width="163.7" height="3.24" fill="url(#hd21)"/><rect x="311.0" y="391.77" width="163.7" height="3.24" fill="url(#hd22)"/><rect x="311.0" y="394.21" width="163.7" height="3.24" fill="url(#hd23)"/><rect x="311.0" y="396.65" width="163.7" height="3.24" fill="url(#hd24)"/><rect x="311.0" y="399.10" width="163.7" height="3.24" fill="url(#hd25)"/><rect x="311.0" y="401.54" width="163.7" height="3.24" fill="url(#hd26)"/><rect x="311.0" y="403.99" width="163.7" height="3.24" fill="url(#hd27)"/><rect x="311.0" y="406.43" width="163.7" height="3.24" fill="url(#hd28)"/><rect x="311.0" y="408.87" width="163.7" height="3.24" fill="url(#hd29)"/><rect x="311.0" y="411.32" width="163.7" height="3.24" fill="url(#hd30)"/><rect x="311.0" y="413.76" width="163.7" height="3.24" fill="url(#hd31)"/><rect x="311.0" y="416.20" width="163.7" height="3.24" fill="url(#hd32)"/><rect x="311.0" y="418.65" width="163.7" height="3.24" fill="url(#hd33)"/><rect x="311.0" y="421.09" width="163.7" height="3.24" fill="url(#hd34)"/><rect x="311.0" y="423.54" width="163.7" height="3.24" fill="url(#hd35)"/><rect x="311.0" y="425.98" width="163.7" height="3.24" fill="url(#hd36)"/><rect x="311.0" y="428.42" width="163.7" height="3.24" fill="url(#hd37)"/><rect x="311.0" y="430.87" width="163.7" height="3.24" fill="url(#hd38)"/><rect x="311.0" y="433.31" width="163.7" height="3.24" fill="url(#hd39)"/><rect x="311.0" y="435.76" width="163.7" height="3.24" fill="url(#hd40)"/></g>
<path d="M423.6 338.3 L421.2 340.9 L418.7 343.4 L416.3 346.0 L413.8 348.6 L411.4 351.1 L408.9 353.7 L406.4 356.3 L403.9 358.9 L401.4 361.4 L398.9 364.0 L396.4 366.6 L394.0 369.1 L391.7 371.7 L389.4 374.3 L387.1 376.8 L384.9 379.4 L382.8 382.0 L380.6 384.5 L378.4 387.1 L376.1 389.7 L373.8 392.3 L371.4 394.8 L369.0 397.4 L366.5 400.0 L363.9 402.5 L361.3 405.1 L358.6 407.7 L355.6 410.2 L352.3 412.8 L348.8 415.4 L344.9 417.9 L340.4 420.5 L335.0 423.1 L329.2 425.7 L324.3 428.2 L320.9 430.8 L318.3 433.4 L315.4 435.9 L312.2 438.5" fill="none" stroke="#222" stroke-width="0.4" />
<path d="M437.1 338.3 L434.6 340.9 L432.0 343.4 L429.4 346.0 L426.8 348.6 L424.2 351.1 L421.5 353.7 L418.9 356.3 L416.3 358.9 L413.6 361.4 L411.0 364.0 L408.4 366.6 L405.8 369.1 L403.3 371.7 L400.8 374.3 L398.3 376.8 L395.9 379.4 L393.5 382.0 L391.0 384.5 L388.6 387.1 L386.1 389.7 L383.5 392.3 L380.9 394.8 L378.2 397.4 L375.5 400.0 L372.7 402.5 L369.8 405.1 L366.9 407.7 L363.8 410.2 L360.5 412.8 L357.0 415.4 L353.3 417.9 L349.3 420.5 L344.5 423.1 L339.5 425.7 L335.2 428.2 L332.0 430.8 L329.4 433.4 L326.6 435.9 L323.4 438.5" fill="none" stroke="#222" stroke-width="0.4" />
<path d="M443.9 338.3 L441.3 340.9 L438.6 343.4 L435.9 346.0 L433.2 348.6 L430.6 351.1 L427.9 353.7 L425.2 356.3 L422.4 358.9 L419.8 361.4 L417.1 364.0 L414.4 366.6 L411.7 369.1 L409.1 371.7 L406.5 374.3 L403.9 376.8 L401.4 379.4 L398.8 382.0 L396.3 384.5 L393.7 387.1 L391.0 389.7 L388.4 392.3 L385.6 394.8 L382.9 397.4 L380.0 400.0 L377.1 402.5 L374.1 405.1 L371.0 407.7 L367.9 410.2 L364.5 412.8 L361.1 415.4 L357.5 417.9 L353.7 420.5 L349.3 423.1 L344.7 425.7 L340.6 428.2 L337.6 430.8 L335.0 433.4 L332.1 435.9 L329.1 438.5" fill="none" stroke="#222" stroke-width="0.4" />
<path d="M449.4 338.3 L446.7 340.9 L444.0 343.4 L441.2 346.0 L438.5 348.6 L435.7 351.1 L433.0 353.7 L430.2 356.3 L427.5 358.9 L424.7 361.4 L422.0 364.0 L419.2 366.6 L416.5 369.1 L413.8 371.7 L411.1 374.3 L408.5 376.8 L405.8 379.4 L403.2 382.0 L400.5 384.5 L397.8 387.1 L395.1 389.7 L392.3 392.3 L389.5 394.8 L386.6 397.4 L383.6 400.0 L380.6 402.5 L377.5 405.1 L374.4 407.7 L371.2 410.2 L367.8 412.8 L364.4 415.4 L360.9 417.9 L357.3 420.5 L353.2 423.1 L348.9 425.7 L345.1 428.2 L342.1 430.8 L339.5 433.4 L336.6 435.9 L333.6 438.5" fill="none" stroke="#222" stroke-width="0.4" />
<path d="M453.3 338.3 L450.6 340.9 L447.8 343.4 L445.1 346.0 L442.3 348.6 L439.5 351.1 L436.7 353.7 L433.9 356.3 L431.1 358.9 L428.3 361.4 L425.5 364.0 L422.7 366.6 L420.0 369.1 L417.2 371.7 L414.5 374.3 L411.7 376.8 L409.0 379.4 L406.3 382.0 L403.5 384.5 L400.8 387.1 L398.0 389.7 L395.1 392.3 L392.2 394.8 L389.3 397.4 L386.3 400.0 L383.2 402.5 L380.0 405.1 L376.8 407.7 L373.5 410.2 L370.2 412.8 L366.8 415.4 L363.4 417.9 L359.8 420.5 L355.9 423.1 L351.9 425.7 L348.2 428.2 L345.3 430.8 L342.7 433.4 L339.9 435.9 L336.9 438.5" fill="none" stroke="#222" stroke-width="0.4" />
<path d="M457.4 338.3 L454.7 340.9 L451.9 343.4 L449.0 346.0 L446.2 348.6 L443.4 351.1 L440.5 353.7 L437.7 356.3 L434.8 358.9 L432.0 361.4 L429.2 364.0 L426.4 366.6 L423.6 369.1 L420.8 371.7 L418.0 374.3 L415.2 376.8 L412.4 379.4 L409.5 382.0 L406.7 384.5 L403.9 387.1 L401.0 389.7 L398.1 392.3 L395.1 394.8 L392.1 397.4 L389.0 400.0 L385.8 402.5 L382.6 405.1 L379.4 407.7 L376.0 410.2 L372.7 412.8 L369.3 415.4 L366.0 417.9 L362.5 420.5 L358.8 423.1 L355.0 425.7 L351.6 428.2 L348.7 430.8 L346.1 433.4 L343.3 435.9 L340.3 438.5" fill="none" stroke="#222" stroke-width="0.4" />
<path d="M460.7 338.3 L458.0 340.9 L455.1 343.4 L452.3 346.0 L449.4 348.6 L446.5 351.1 L443.6 353.7 L440.8 356.3 L437.9 358.9 L435.1 361.4 L432.2 364.0 L429.3 366.6 L426.5 369.1 L423.6 371.7 L420.8 374.3 L417.9 376.8 L415.1 379.4 L412.2 382.0 L409.3 384.5 L406.4 387.1 L403.5 389.7 L400.5 392.3 L397.5 394.8 L394.4 397.4 L391.3 400.0 L388.0 402.5 L384.7 405.1 L381.4 407.7 L378.1 410.2 L374.7 412.8 L371.4 415.4 L368.1 417.9 L364.7 420.5 L361.2 423.1 L357.6 425.7 L354.3 428.2 L351.4 430.8 L348.8 433.4 L346.0 435.9 L343.1 438.5" fill="none" stroke="#222" stroke-width="0.4" />
<path d="M464.2 338.3 L461.4 340.9 L458.5 343.4 L455.6 346.0 L452.7 348.6 L449.8 351.1 L446.9 353.7 L444.0 356.3 L441.1 358.9 L438.2 361.4 L435.3 364.0 L432.4 366.6 L429.5 369.1 L426.6 371.7 L423.7 374.3 L420.8 376.8 L417.9 379.4 L414.9 382.0 L412.0 384.5 L409.0 387.1 L406.0 389.7 L403.0 392.3 L399.9 394.8 L396.8 397.4 L393.6 400.0 L390.3 402.5 L386.9 405.1 L383.5 407.7 L380.2 410.2 L376.8 412.8 L373.5 415.4 L370.2 417.9 L367.0 420.5 L363.6 423.1 L360.2 425.7 L357.1 428.2 L354.3 430.8 L351.7 433.4 L348.9 435.9 L346.0 438.5" fill="none" stroke="#222" stroke-width="0.4" />
<path d="M469.7 338.3 L466.9 340.9 L464.0 343.4 L461.0 346.0 L458.0 348.6 L455.0 351.1 L452.1 353.7 L449.1 356.3 L446.2 358.9 L443.2 361.4 L440.3 364.0 L437.3 366.6 L434.4 369.1 L431.4 371.7 L428.4 374.3 L425.4 376.8 L422.4 379.4 L419.3 382.0 L416.3 384.5 L413.2 387.1 L410.1 389.7 L406.9 392.3 L403.8 394.8 L400.6 397.4 L397.3 400.0 L393.9 402.5 L390.4 405.1 L386.9 407.7 L383.5 410.2 L380.1 412.8 L376.8 415.4 L373.7 417.9 L370.6 420.5 L367.5 423.1 L364.5 425.7 L361.5 428.2 L358.8 430.8 L356.2 433.4 L353.5 435.9 L350.6 438.5" fill="none" stroke="#222" stroke-width="0.4" />
<path d="M475.6 338.3 L472.7 340.9 L469.7 343.4 L466.7 346.0 L463.7 348.6 L460.6 351.1 L457.6 353.7 L454.6 356.3 L451.5 358.9 L448.5 361.4 L445.5 364.0 L442.5 366.6 L439.5 369.1 L436.4 371.7 L433.4 374.3 L430.3 376.8 L427.1 379.4 L424.0 382.0 L420.8 384.5 L417.6 387.1 L414.4 389.7 L411.2 392.3 L407.9 394.8 L404.6 397.4 L401.2 400.0 L397.7 402.5 L394.1 405.1 L390.6 407.7 L387.1 410.2 L383.6 412.8 L380.4 415.4 L377.3 417.9 L374.4 420.5 L371.7 423.1 L369.0 425.7 L366.3 428.2 L363.7 430.8 L361.0 433.4 L358.3 435.9 L355.5 438.5" fill="none" stroke="#222" stroke-width="0.4" />
<path d="M300.0 443.0 L300.5 442.7 L300.9 442.4 L301.4 442.1 L301.9 441.8 L302.3 441.5 L302.8 441.2 L303.2 440.9 L303.7 440.6 L304.1 440.2 L304.6 439.9 L305.0 439.6 L305.5 439.3 L305.9 438.9 L306.4 438.6 L306.8 438.3 L307.2 438.0 L307.7 437.6 L308.1 437.3 L308.6 437.0 L309.0 436.6 L309.4 436.3 L309.8 435.9 L310.3 435.6 L310.7 435.2 L311.1 434.9 L311.5 434.5 L312.0 434.2 L312.4 433.8 L312.8 433.4 L313.2 433.0 L313.5 432.6 L313.9 432.2 L314.3 431.8 L314.7 431.4 L315.1 431.0 L315.5 430.7 L315.9 430.3 L316.3 429.9 L316.8 429.6 L317.2 429.3 L317.6 428.9 L318.1 428.7 L318.5 428.4 L319.0 428.1 L319.5 427.8 L320.0 427.6 L320.5 427.3 L321.0 427.1 L321.5 426.8 L322.0 426.6 L322.5 426.3 L323.0 426.1 L323.5 425.9 L324.0 425.7 L324.5 425.4 L325.0 425.2 L325.5 425.0 L326.0 424.8 L326.5 424.5 L327.0 424.3 L327.5 424.1 L328.0 423.9 L328.6 423.7 L329.1 423.5 L329.6 423.3 L330.1 423.1 L330.6 422.9 L331.1 422.7 L331.6 422.5 L332.2 422.3 L332.7 422.1 L333.2 421.9 L333.7 421.7 L334.2 421.4 L334.7 421.2 L335.1 420.9 L335.6 420.7 L336.1 420.5 L336.6 420.2 L337.1 419.9 L337.6 419.7 L338.1 419.4 L338.6 419.2 L339.0 418.9 L339.5 418.6 L340.0 418.3 L340.5 418.0 L341.0 417.8 L341.4 417.5 L341.9 417.2 L342.4 416.9 L342.8 416.6 L343.3 416.3 L343.7 416.0 L344.2 415.7 L344.7 415.4 L345.1 415.1 L345.6 414.8 L346.0 414.5 L346.5 414.1 L346.9 413.8 L347.4 413.5 L347.8 413.2 L348.2 412.8 L348.7 412.5 L349.1 412.2 L349.6 411.8 L350.0 411.5 L350.4 411.1 L350.8 410.8 L351.3 410.4 L351.7 410.1 L352.1 409.7 L352.5 409.4 L352.9 409.0 L353.4 408.6 L353.8 408.3 L354.2 407.9 L354.6 407.5 L355.0 407.1 L355.4 406.8 L355.7 406.4 L356.1 406.0 L356.5 405.6 L356.9 405.2 L357.3 404.8 L357.7 404.4 L358.1 404.0 L358.5 403.6 L358.8 403.2 L359.2 402.8 L359.6 402.4 L360.0 402.0 L360.4 401.6 L360.7 401.2 L361.1 400.8 L361.5 400.4 L361.9 400.0 L362.3 399.6 L362.6 399.2 L363.0 398.8 L363.4 398.4 L363.8 398.0 L364.1 397.6 L364.5 397.2 L364.9 396.8 L365.3 396.4 L365.6 396.0 L366.0 395.6 L366.4 395.2 L366.7 394.8 L367.1 394.4 L367.5 393.9 L367.8 393.5 L368.2 393.1 L368.6 392.7 L368.9 392.3 L369.3 391.9 L369.6 391.5 L370.0 391.0 L370.4 390.6 L370.7 390.2 L371.1 389.8 L371.4 389.4 L371.8 388.9 L372.1 388.5 L372.5 388.1 L372.8 387.7 L373.2 387.2 L373.5 386.8 L373.9 386.4 L374.2 385.9 L374.6 385.5 L374.9 385.1 L375.3 384.7 L375.6 384.2 L375.9 383.8 L376.3 383.4 L376.6 382.9 L377.0 382.5 L377.3 382.1 L377.7 381.6 L378.0 381.2 L378.4 380.8 L378.7 380.4 L379.0 379.9 L379.4 379.5 L379.7 379.1 L380.1 378.6 L380.4 378.2 L380.8 377.8 L381.1 377.4 L381.5 376.9 L381.8 376.5 L382.2 376.1 L382.5 375.6 L382.9 375.2 L383.2 374.8 L383.6 374.4 L383.9 374.0 L384.3 373.5 L384.6 373.1 L385.0 372.7 L385.3 372.3 L385.7 371.9 L386.1 371.4 L386.4 371.0 L386.8 370.6 L387.1 370.2 L387.5 369.8 L387.9 369.4 L388.2 369.0 L388.6 368.6 L389.0 368.1 L389.3 367.7 L389.7 367.3 L390.1 366.9 L390.5 366.5 L390.8 366.1 L391.2 365.7 L391.6 365.3 L392.0 364.9 L392.3 364.5 L392.7 364.1 L393.1 363.7 L393.5 363.3 L393.8 362.9 L394.2 362.5 L394.6 362.1 L395.0 361.7 L395.3 361.3 L395.7 360.9 L396.1 360.5 L396.5 360.1 L396.9 359.7 L397.2 359.3 L397.6 358.9 L398.0 358.5 L398.4 358.1 L398.8 357.7 L399.1 357.3 L399.5 356.9 L399.9 356.5 L400.3 356.1 L400.7 355.7 L401.0 355.3 L401.4 354.9 L401.8 354.5 L402.2 354.1 L402.6 353.7 L402.9 353.3 L403.3 352.9 L403.7 352.5 L404.1 352.1 L404.4 351.7 L404.8 351.3 L405.2 350.9 L405.6 350.5 L406.0 350.1 L406.3 349.7 L406.7 349.3 L407.1 348.9 L407.4 348.5 L407.8 348.1 L408.2 347.7 L408.6 347.3 L408.9 346.9 L409.3 346.4 L409.7 346.0 L410.1 345.6 L410.4 345.2 L410.8 344.8 L411.2 344.4 L411.6 344.0 L411.9 343.6 L412.3 343.2 L412.7 342.8 L413.1 342.4 L413.4 342.0 L413.8 341.6 L414.2 341.2 L414.6 340.8 L414.9 340.4 L415.3 340.0 L415.7 339.6 L416.1 339.2 L416.4 338.8 L416.8 338.4 L417.2 338.0 L417.6 337.6 L418.0 337.2 L418.3 336.8 L418.7 336.4 L419.1 336.0 L419.5 335.6 L419.9 335.2 L420.2 334.8 L420.6 334.4 L421.0 334.0" fill="none" stroke="#f21d1d" stroke-width="2.2" />
</g>
<text transform="translate(388.0,396.5) rotate(-42)" font-size="5.2" fill="#222" text-anchor="middle">40</text>
<text transform="translate(402.0,398.0) rotate(-40)" font-size="5.2" fill="#222" text-anchor="middle">50</text>
<text transform="translate(374.5,412.0) rotate(-42)" font-size="5.2" fill="#222" text-anchor="middle">40</text>
<text transform="translate(329.0,429.0) rotate(-30)" font-size="5.2" fill="#222" text-anchor="middle">10</text>
<text transform="translate(340.0,425.5) rotate(-32)" font-size="5.2" fill="#222" text-anchor="middle">20</text>
<text transform="translate(335.0,434.0) rotate(-35)" font-size="5.2" fill="#222" text-anchor="middle">40</text>
<defs><linearGradient id="cbd" x1="0" x2="0" y1="1" y2="0"><stop offset="0.000" stop-color="#aea4cf"/><stop offset="0.050" stop-color="#9a9dc9"/><stop offset="0.100" stop-color="#879cc3"/><stop offset="0.150" stop-color="#769cbc"/><stop offset="0.200" stop-color="#6fa0b5"/><stop offset="0.250" stop-color="#67a4ad"/><stop offset="0.300" stop-color="#67afa6"/><stop offset="0.350" stop-color="#6fbd9f"/><stop offset="0.400" stop-color="#7ccc9c"/><stop offset="0.450" stop-color="#92da9b"/><stop offset="0.500" stop-color="#ade699"/><stop offset="0.550" stop-color="#cdf096"/><stop offset="0.600" stop-color="#f0f28c"/><stop offset="0.650" stop-color="#eddb73"/><stop offset="0.700" stop-color="#edc664"/><stop offset="0.750" stop-color="#efb05a"/><stop offset="0.800" stop-color="#f09852"/><stop offset="0.850" stop-color="#f08955"/><stop offset="0.900" stop-color="#f07a58"/><stop offset="0.950" stop-color="#ee705e"/><stop offset="1.000" stop-color="#ed6664"/></linearGradient></defs><rect x="314.5" y="342.3" width="10.5" height="75.7" fill="url(#cbd)" stroke="#333" stroke-width="0.5"/>
<path d="M325 343.0H327.5" stroke="#222" stroke-width="0.6"/>
<text x="326.6" y="346.0" font-size="8.8" fill="#111" text-anchor="start" >100</text>
<path d="M325 357.0H327.5" stroke="#222" stroke-width="0.6"/>
<text x="328.6" y="360.0" font-size="8.8" fill="#111" text-anchor="start" >80</text>
<path d="M325 372.0H327.5" stroke="#222" stroke-width="0.6"/>
<text x="328.6" y="375.0" font-size="8.8" fill="#111" text-anchor="start" >60</text>
<path d="M325 387.0H327.5" stroke="#222" stroke-width="0.6"/>
<text x="328.6" y="390.0" font-size="8.8" fill="#111" text-anchor="start" >40</text>
<path d="M325 402.2H327.5" stroke="#222" stroke-width="0.6"/>
<text x="328.6" y="405.2" font-size="8.8" fill="#111" text-anchor="start" >20</text>
<path d="M325 416.6H327.5" stroke="#222" stroke-width="0.6"/>
<text x="328.6" y="419.6" font-size="8.8" fill="#111" text-anchor="start" >0</text>
<rect x="311.0" y="338.3" width="163.7" height="100.2" fill="none" stroke="#333" stroke-width="0.7"/>
<path d="M307.4 340.3H311.0" stroke="#222" stroke-width="0.7"/>
<text transform="translate(305.9,343.7) scale(0.87,1)" font-size="10.6" fill="#111" text-anchor="end">50</text>
<path d="M307.4 364.6H311.0" stroke="#222" stroke-width="0.7"/>
<text transform="translate(305.9,367.9) scale(0.87,1)" font-size="10.6" fill="#111" text-anchor="end">40</text>
<path d="M307.4 388.8H311.0" stroke="#222" stroke-width="0.7"/>
<text transform="translate(305.9,392.2) scale(0.87,1)" font-size="10.6" fill="#111" text-anchor="end">30</text>
<path d="M307.4 413.1H311.0" stroke="#222" stroke-width="0.7"/>
<text transform="translate(305.9,416.4) scale(0.87,1)" font-size="10.6" fill="#111" text-anchor="end">20</text>
<path d="M307.4 437.3H311.0" stroke="#222" stroke-width="0.7"/>
<text transform="translate(305.9,440.7) scale(0.87,1)" font-size="10.6" fill="#111" text-anchor="end">10</text>
<path d="M313.4 438.5V441.5" stroke="#222" stroke-width="0.7"/>
<text transform="translate(313.6,451.3) scale(0.87,1)" font-size="10.6" fill="#111" text-anchor="middle">1200</text>
<path d="M339.9 438.5V441.5" stroke="#222" stroke-width="0.7"/>
<text transform="translate(340.1,451.3) scale(0.87,1)" font-size="10.6" fill="#111" text-anchor="middle">1300</text>
<path d="M366.4 438.5V441.5" stroke="#222" stroke-width="0.7"/>
<text transform="translate(366.6,451.3) scale(0.87,1)" font-size="10.6" fill="#111" text-anchor="middle">1400</text>
<path d="M392.9 438.5V441.5" stroke="#222" stroke-width="0.7"/>
<text transform="translate(393.1,451.3) scale(0.87,1)" font-size="10.6" fill="#111" text-anchor="middle">1500</text>
<path d="M419.5 438.5V441.5" stroke="#222" stroke-width="0.7"/>
<text transform="translate(419.7,451.3) scale(0.87,1)" font-size="10.6" fill="#111" text-anchor="middle">1600</text>
<path d="M446.0 438.5V441.5" stroke="#222" stroke-width="0.7"/>
<text transform="translate(446.2,451.3) scale(0.87,1)" font-size="10.6" fill="#111" text-anchor="middle">1700</text>
<path d="M472.5 438.5V441.5" stroke="#222" stroke-width="0.7"/>
<text transform="translate(472.7,451.3) scale(0.87,1)" font-size="10.6" fill="#111" text-anchor="middle">1800</text>
<text x="320.0" y="332.0" font-size="12.5" fill="#111" text-anchor="start" >Melt (mol.%)</text>
<text x="398.2" y="327.4" font-size="26" fill="#111" text-anchor="start" >d)</text>
<text x="345.5" y="376.4" font-size="11.4" fill="#f21d1d" text-anchor="start" >Solidus</text>
<rect x="471.3" y="435.8" width="2.6" height="1.8" fill="#fff"/>
</g>
</svg>
</body></html>
